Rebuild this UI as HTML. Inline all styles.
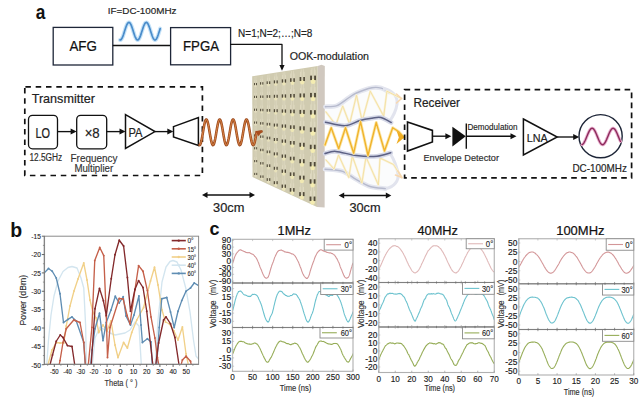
<!DOCTYPE html>
<html><head><meta charset="utf-8"><style>
html,body{margin:0;padding:0;background:#fff;width:640px;height:400px;overflow:hidden}
svg{display:block}
text{font-family:"Liberation Sans", sans-serif}
</style></head><body>
<svg width="640" height="400" viewBox="0 0 640 400">
<rect width="640" height="400" fill="#fff"/>
<text x="35.8" y="18.5" font-size="20" fill="#111" text-anchor="start" font-weight="bold" textLength="9.6" lengthAdjust="spacingAndGlyphs" >a</text>
<rect x="53.2" y="27.4" width="59.6" height="37.6" fill="none" stroke="#1e2638" stroke-width="1.3"/>
<text x="83.2" y="50.6" font-size="14.2" fill="#111" text-anchor="middle" font-weight="normal" textLength="27.5" lengthAdjust="spacingAndGlyphs" stroke="#111" stroke-width="0.227" >AFG</text>
<line x1="112.8" y1="45.5" x2="170.6" y2="45.5" stroke="#111" stroke-width="1.3" />
<rect x="170.6" y="27.6" width="60" height="37.2" fill="none" stroke="#1e2638" stroke-width="1.3"/>
<text x="201" y="50.6" font-size="14.2" fill="#111" text-anchor="middle" font-weight="normal" textLength="36" lengthAdjust="spacingAndGlyphs" stroke="#111" stroke-width="0.227" >FPGA</text>
<text x="107.8" y="13.8" font-size="9.8" fill="#222" text-anchor="start" font-weight="normal" textLength="68.7" lengthAdjust="spacingAndGlyphs" stroke="#222" stroke-width="0.157" >IF=DC-100MHz</text>
<polyline points="120.00,39.97 120.50,39.95 121.00,39.65 121.51,39.06 122.01,38.22 122.51,37.15 123.02,35.88 123.52,34.46 124.02,32.93 124.52,31.34 125.03,29.75 125.53,28.21 126.03,26.77 126.53,25.47 127.03,24.36 127.54,23.47 128.04,22.84 128.54,22.48 129.04,22.41 129.55,22.63 130.05,23.13 130.55,23.89 131.06,24.89 131.56,26.10 132.06,27.48 132.56,28.98 133.06,30.56 133.57,32.15 134.07,33.71 134.57,35.20 135.07,36.54 135.58,37.72 136.08,38.68 136.58,39.39 137.09,39.84 137.59,40.00 138.09,39.87 138.59,39.46 139.09,38.78 139.60,37.84 140.10,36.69 140.60,35.36 141.10,33.90 141.61,32.34 142.11,30.75 142.61,29.17 143.11,27.66 143.62,26.26 144.12,25.03 144.62,24.00 145.12,23.20 145.63,22.67 146.13,22.42 146.63,22.46 147.13,22.78 147.64,23.38 148.14,24.24 148.64,25.32 149.14,26.60 149.65,28.03 150.15,29.57 150.65,31.15 151.16,32.74 151.66,34.28 152.16,35.72 152.66,37.01 153.16,38.10 153.67,38.97 154.17,39.59 154.67,39.93 155.17,39.99 155.68,39.75 156.18,39.24 156.68,38.46 157.19,37.44 157.69,36.22 158.19,34.83 158.69,33.32 159.19,31.75 159.70,30.15 160.20,28.59" fill="none" stroke="#c6e3f8" stroke-width="4.0" stroke-linejoin="round" stroke-linecap="round" />
<polyline points="120.00,39.97 120.50,39.95 121.00,39.65 121.51,39.06 122.01,38.22 122.51,37.15 123.02,35.88 123.52,34.46 124.02,32.93 124.52,31.34 125.03,29.75 125.53,28.21 126.03,26.77 126.53,25.47 127.03,24.36 127.54,23.47 128.04,22.84 128.54,22.48 129.04,22.41 129.55,22.63 130.05,23.13 130.55,23.89 131.06,24.89 131.56,26.10 132.06,27.48 132.56,28.98 133.06,30.56 133.57,32.15 134.07,33.71 134.57,35.20 135.07,36.54 135.58,37.72 136.08,38.68 136.58,39.39 137.09,39.84 137.59,40.00 138.09,39.87 138.59,39.46 139.09,38.78 139.60,37.84 140.10,36.69 140.60,35.36 141.10,33.90 141.61,32.34 142.11,30.75 142.61,29.17 143.11,27.66 143.62,26.26 144.12,25.03 144.62,24.00 145.12,23.20 145.63,22.67 146.13,22.42 146.63,22.46 147.13,22.78 147.64,23.38 148.14,24.24 148.64,25.32 149.14,26.60 149.65,28.03 150.15,29.57 150.65,31.15 151.16,32.74 151.66,34.28 152.16,35.72 152.66,37.01 153.16,38.10 153.67,38.97 154.17,39.59 154.67,39.93 155.17,39.99 155.68,39.75 156.18,39.24 156.68,38.46 157.19,37.44 157.69,36.22 158.19,34.83 158.69,33.32 159.19,31.75 159.70,30.15 160.20,28.59" fill="none" stroke="#4a8cca" stroke-width="1.7" stroke-linejoin="round" stroke-linecap="round" />
<polyline points="230.60,44.40 282.00,44.40 282.00,66.00" fill="none" stroke="#111" stroke-width="1.3" stroke-linejoin="round" stroke-linecap="round" />
<polygon points="282.00,70.80 279.40,65.00 284.60,65.00" fill="#111" stroke="none" stroke-width="1" />
<text x="238.1" y="36.8" font-size="10.6" fill="#222" text-anchor="start" font-weight="normal" textLength="74.2" lengthAdjust="spacingAndGlyphs" stroke="#222" stroke-width="0.17" >N=1;N=2;…;N=8</text>
<text x="289.7" y="59.7" font-size="10" fill="#222" text-anchor="start" font-weight="normal" textLength="79.3" lengthAdjust="spacingAndGlyphs" stroke="#222" stroke-width="0.16" >OOK-modulation</text>
<rect x="24.8" y="86.9" width="177.6" height="88.6" fill="none" stroke="#111" stroke-width="1.7" stroke-dasharray="5.5,4.8" stroke-dashoffset="-0.6"/>
<text x="31.7" y="103.4" font-size="12.6" fill="#222" text-anchor="start" font-weight="normal" textLength="63.2" lengthAdjust="spacingAndGlyphs" stroke="#222" stroke-width="0.202" >Transmitter</text>
<rect x="28.5" y="115.4" width="29" height="33.4" rx="4" fill="none" stroke="#111" stroke-width="1.3"/>
<text x="42.8" y="137.8" font-size="14" fill="#222" text-anchor="middle" font-weight="normal" textLength="14.6" lengthAdjust="spacingAndGlyphs" stroke="#222" stroke-width="0.224" >LO</text>
<rect x="76.7" y="115.4" width="30" height="33.4" rx="4" fill="none" stroke="#111" stroke-width="1.3"/>
<text x="92.2" y="137.5" font-size="14" fill="#222" text-anchor="middle" font-weight="normal" textLength="15" lengthAdjust="spacingAndGlyphs" stroke="#222" stroke-width="0.224" >×8</text>
<line x1="57.5" y1="131.6" x2="73.0" y2="131.6" stroke="#111" stroke-width="1.35" />
<polygon points="76.60,131.60 70.60,128.60 70.60,134.60" fill="#111" stroke="none" stroke-width="1" />
<line x1="106.7" y1="131.6" x2="121.9" y2="131.6" stroke="#111" stroke-width="1.35" />
<polygon points="125.50,131.60 119.50,128.60 119.50,134.60" fill="#111" stroke="none" stroke-width="1" />
<text x="29.4" y="161.4" font-size="10.0" fill="#2a2a2a" text-anchor="start" font-weight="normal" textLength="32.8" lengthAdjust="spacingAndGlyphs" stroke="#2a2a2a" stroke-width="0.16" >12.5GHz</text>
<text x="94" y="161.5" font-size="10.3" fill="#333" text-anchor="middle" font-weight="normal" textLength="46.9" lengthAdjust="spacingAndGlyphs" stroke="#333" stroke-width="0.165" >Frequency</text>
<text x="93.8" y="172.4" font-size="10.3" fill="#333" text-anchor="middle" font-weight="normal" textLength="38.8" lengthAdjust="spacingAndGlyphs" stroke="#333" stroke-width="0.165" >Multiplier</text>
<polygon points="125.50,114.60 155.00,131.60 125.50,148.50" fill="none" stroke="#111" stroke-width="1.5" />
<text x="135.5" y="136.8" font-size="12" fill="#222" text-anchor="middle" font-weight="normal" textLength="14" lengthAdjust="spacingAndGlyphs" stroke="#222" stroke-width="0.192" >PA</text>
<line x1="155" y1="131.6" x2="169.70000000000002" y2="131.6" stroke="#111" stroke-width="1.35" />
<polygon points="173.30,131.60 167.30,128.60 167.30,134.60" fill="#111" stroke="none" stroke-width="1" />
<polygon points="173.50,126.60 198.40,117.60 198.40,145.40 173.50,137.00" fill="none" stroke="#111" stroke-width="1.5" />
<polygon points="317.70,66.00 321.50,64.80 324.80,66.00 324.60,207.60 317.00,207.00" fill="#d0c8bf" stroke="none" stroke-width="1" />
<polygon points="252.20,76.30 317.70,66.00 317.00,207.00 252.50,177.00" fill="#d0cbb0" stroke="none" stroke-width="1" />
<line x1="254.89" y1="76.88" x2="255.15" y2="177.23" stroke="#e0dbc4" stroke-width="0.41"/>
<line x1="256.06" y1="76.69" x2="256.30" y2="177.77" stroke="#e0dbc4" stroke-width="0.41"/>
<line x1="261.05" y1="75.91" x2="261.22" y2="180.05" stroke="#e0dbc4" stroke-width="0.45"/>
<line x1="262.34" y1="75.71" x2="262.49" y2="180.65" stroke="#e0dbc4" stroke-width="0.45"/>
<line x1="267.73" y1="74.86" x2="267.80" y2="183.11" stroke="#e0dbc4" stroke-width="0.50"/>
<line x1="269.16" y1="74.63" x2="269.20" y2="183.77" stroke="#e0dbc4" stroke-width="0.50"/>
<line x1="275.00" y1="73.72" x2="274.95" y2="186.44" stroke="#e0dbc4" stroke-width="0.55"/>
<line x1="276.56" y1="73.47" x2="276.49" y2="187.16" stroke="#e0dbc4" stroke-width="0.55"/>
<line x1="283.10" y1="72.44" x2="282.93" y2="190.15" stroke="#e0dbc4" stroke-width="0.61"/>
<line x1="284.83" y1="72.17" x2="284.63" y2="190.95" stroke="#e0dbc4" stroke-width="0.61"/>
<line x1="291.53" y1="71.11" x2="291.23" y2="194.02" stroke="#e0dbc4" stroke-width="0.66"/>
<line x1="293.43" y1="70.82" x2="293.10" y2="194.88" stroke="#e0dbc4" stroke-width="0.66"/>
<line x1="301.26" y1="69.59" x2="300.81" y2="198.47" stroke="#e0dbc4" stroke-width="0.73"/>
<line x1="303.35" y1="69.26" x2="302.87" y2="199.43" stroke="#e0dbc4" stroke-width="0.73"/>
<line x1="311.96" y1="67.90" x2="311.35" y2="203.37" stroke="#e0dbc4" stroke-width="0.81"/>
<line x1="314.27" y1="67.54" x2="313.62" y2="204.43" stroke="#e0dbc4" stroke-width="0.81"/>
<ellipse cx="255.50" cy="85.88" rx="1.17" ry="1.28" fill="#e3dcbf"/>
<rect x="254.30" y="80.05" width="0.35" height="3.03" fill="#e6e0c8"/>
<rect x="256.34" y="80.05" width="0.35" height="3.03" fill="#e6e0c8"/>
<rect x="254.01" y="82.97" width="0.93" height="2.21" fill="#514a38"/>
<rect x="256.05" y="82.97" width="0.93" height="2.21" fill="#514a38"/>
<ellipse cx="261.71" cy="85.40" rx="1.29" ry="1.42" fill="#e4debd"/>
<rect x="260.39" y="78.95" width="0.39" height="3.35" fill="#e6e0c8"/>
<rect x="262.64" y="78.95" width="0.39" height="3.35" fill="#e6e0c8"/>
<rect x="260.07" y="82.17" width="1.03" height="2.45" fill="#514a38"/>
<rect x="262.32" y="82.17" width="1.03" height="2.45" fill="#514a38"/>
<ellipse cx="268.45" cy="84.87" rx="1.42" ry="1.56" fill="#e6e0bc"/>
<rect x="266.99" y="77.76" width="0.43" height="3.70" fill="#e6e0c8"/>
<rect x="269.48" y="77.76" width="0.43" height="3.70" fill="#e6e0c8"/>
<rect x="266.63" y="81.32" width="1.14" height="2.70" fill="#514a38"/>
<rect x="269.12" y="81.32" width="1.14" height="2.70" fill="#514a38"/>
<ellipse cx="275.78" cy="84.30" rx="1.57" ry="1.72" fill="#e9e2ba"/>
<rect x="274.17" y="76.46" width="0.47" height="4.08" fill="#e6e0c8"/>
<rect x="276.91" y="76.46" width="0.47" height="4.08" fill="#e6e0c8"/>
<rect x="273.78" y="80.38" width="1.25" height="2.98" fill="#514a38"/>
<rect x="276.52" y="80.38" width="1.25" height="2.98" fill="#514a38"/>
<ellipse cx="283.95" cy="83.67" rx="1.73" ry="1.90" fill="#ebe4b8"/>
<rect x="282.18" y="75.02" width="0.52" height="4.50" fill="#e6e0c8"/>
<rect x="285.21" y="75.02" width="0.52" height="4.50" fill="#e6e0c8"/>
<rect x="281.75" y="79.34" width="1.38" height="3.29" fill="#514a38"/>
<rect x="284.77" y="79.34" width="1.38" height="3.29" fill="#514a38"/>
<ellipse cx="292.46" cy="83.01" rx="1.90" ry="2.09" fill="#eee7b6"/>
<rect x="290.51" y="73.51" width="0.57" height="4.94" fill="#e6e0c8"/>
<rect x="293.83" y="73.51" width="0.57" height="4.94" fill="#e6e0c8"/>
<rect x="290.04" y="78.26" width="1.52" height="3.61" fill="#514a38"/>
<rect x="293.36" y="78.26" width="1.52" height="3.61" fill="#514a38"/>
<ellipse cx="302.27" cy="82.25" rx="2.09" ry="2.30" fill="#f1e9b3"/>
<rect x="300.12" y="71.78" width="0.63" height="5.45" fill="#e6e0c8"/>
<rect x="303.79" y="71.78" width="0.63" height="5.45" fill="#e6e0c8"/>
<rect x="299.60" y="77.01" width="1.68" height="3.98" fill="#514a38"/>
<rect x="303.26" y="77.01" width="1.68" height="3.98" fill="#514a38"/>
<ellipse cx="313.06" cy="81.41" rx="2.31" ry="2.54" fill="#f4ecb1"/>
<rect x="310.70" y="69.87" width="0.69" height="6.00" fill="#e6e0c8"/>
<rect x="314.74" y="69.87" width="0.69" height="6.00" fill="#e6e0c8"/>
<rect x="310.12" y="75.64" width="1.85" height="4.39" fill="#514a38"/>
<rect x="314.16" y="75.64" width="1.85" height="4.39" fill="#514a38"/>
<ellipse cx="255.53" cy="98.72" rx="1.17" ry="1.28" fill="#e3dcbf"/>
<rect x="254.33" y="92.89" width="0.35" height="3.03" fill="#e6e0c8"/>
<rect x="256.37" y="92.89" width="0.35" height="3.03" fill="#e6e0c8"/>
<rect x="254.04" y="95.80" width="0.93" height="2.21" fill="#514a38"/>
<rect x="256.08" y="95.80" width="0.93" height="2.21" fill="#514a38"/>
<ellipse cx="261.73" cy="98.71" rx="1.29" ry="1.42" fill="#e4debd"/>
<rect x="260.41" y="92.27" width="0.39" height="3.35" fill="#e6e0c8"/>
<rect x="262.66" y="92.27" width="0.39" height="3.35" fill="#e6e0c8"/>
<rect x="260.09" y="95.49" width="1.03" height="2.45" fill="#514a38"/>
<rect x="262.34" y="95.49" width="1.03" height="2.45" fill="#514a38"/>
<ellipse cx="268.45" cy="98.71" rx="1.42" ry="1.56" fill="#e6e0bc"/>
<rect x="267.00" y="91.60" width="0.43" height="3.70" fill="#e6e0c8"/>
<rect x="269.49" y="91.60" width="0.43" height="3.70" fill="#e6e0c8"/>
<rect x="266.64" y="95.15" width="1.14" height="2.70" fill="#514a38"/>
<rect x="269.13" y="95.15" width="1.14" height="2.70" fill="#514a38"/>
<ellipse cx="275.77" cy="98.71" rx="1.57" ry="1.72" fill="#e9e2ba"/>
<rect x="274.16" y="90.87" width="0.47" height="4.08" fill="#e6e0c8"/>
<rect x="276.90" y="90.87" width="0.47" height="4.08" fill="#e6e0c8"/>
<rect x="273.77" y="94.79" width="1.25" height="2.98" fill="#514a38"/>
<rect x="276.51" y="94.79" width="1.25" height="2.98" fill="#514a38"/>
<ellipse cx="283.93" cy="98.70" rx="1.73" ry="1.90" fill="#ebe4b8"/>
<rect x="282.16" y="90.05" width="0.52" height="4.50" fill="#e6e0c8"/>
<rect x="285.18" y="90.05" width="0.52" height="4.50" fill="#e6e0c8"/>
<rect x="281.72" y="94.37" width="1.38" height="3.29" fill="#514a38"/>
<rect x="284.75" y="94.37" width="1.38" height="3.29" fill="#514a38"/>
<ellipse cx="292.42" cy="98.70" rx="1.90" ry="2.09" fill="#eee7b6"/>
<rect x="290.47" y="89.20" width="0.57" height="4.94" fill="#e6e0c8"/>
<rect x="293.79" y="89.20" width="0.57" height="4.94" fill="#e6e0c8"/>
<rect x="290.00" y="93.95" width="1.52" height="3.61" fill="#514a38"/>
<rect x="293.32" y="93.95" width="1.52" height="3.61" fill="#514a38"/>
<ellipse cx="302.21" cy="98.69" rx="2.09" ry="2.30" fill="#f1e9b3"/>
<rect x="300.06" y="88.22" width="0.63" height="5.45" fill="#e6e0c8"/>
<rect x="303.73" y="88.22" width="0.63" height="5.45" fill="#e6e0c8"/>
<rect x="299.54" y="93.45" width="1.68" height="3.98" fill="#514a38"/>
<rect x="303.21" y="93.45" width="1.68" height="3.98" fill="#514a38"/>
<ellipse cx="312.99" cy="98.68" rx="2.31" ry="2.54" fill="#f4ecb1"/>
<rect x="310.62" y="87.14" width="0.69" height="6.00" fill="#e6e0c8"/>
<rect x="314.66" y="87.14" width="0.69" height="6.00" fill="#e6e0c8"/>
<rect x="310.04" y="92.91" width="1.85" height="4.39" fill="#514a38"/>
<rect x="314.08" y="92.91" width="1.85" height="4.39" fill="#514a38"/>
<ellipse cx="255.56" cy="111.56" rx="1.17" ry="1.28" fill="#e3dcbf"/>
<rect x="254.36" y="105.73" width="0.35" height="3.03" fill="#e6e0c8"/>
<rect x="256.40" y="105.73" width="0.35" height="3.03" fill="#e6e0c8"/>
<rect x="254.07" y="108.64" width="0.93" height="2.21" fill="#514a38"/>
<rect x="256.11" y="108.64" width="0.93" height="2.21" fill="#514a38"/>
<ellipse cx="261.75" cy="112.03" rx="1.29" ry="1.42" fill="#e4debd"/>
<rect x="260.43" y="105.59" width="0.39" height="3.35" fill="#e6e0c8"/>
<rect x="262.68" y="105.59" width="0.39" height="3.35" fill="#e6e0c8"/>
<rect x="260.11" y="108.81" width="1.03" height="2.45" fill="#514a38"/>
<rect x="262.36" y="108.81" width="1.03" height="2.45" fill="#514a38"/>
<ellipse cx="268.46" cy="112.55" rx="1.42" ry="1.56" fill="#e6e0bc"/>
<rect x="267.00" y="105.43" width="0.43" height="3.70" fill="#e6e0c8"/>
<rect x="269.49" y="105.43" width="0.43" height="3.70" fill="#e6e0c8"/>
<rect x="266.65" y="108.99" width="1.14" height="2.70" fill="#514a38"/>
<rect x="269.14" y="108.99" width="1.14" height="2.70" fill="#514a38"/>
<ellipse cx="275.76" cy="113.11" rx="1.57" ry="1.72" fill="#e9e2ba"/>
<rect x="274.15" y="105.27" width="0.47" height="4.08" fill="#e6e0c8"/>
<rect x="276.90" y="105.27" width="0.47" height="4.08" fill="#e6e0c8"/>
<rect x="273.76" y="109.19" width="1.25" height="2.98" fill="#514a38"/>
<rect x="276.50" y="109.19" width="1.25" height="2.98" fill="#514a38"/>
<ellipse cx="283.91" cy="113.73" rx="1.73" ry="1.90" fill="#ebe4b8"/>
<rect x="282.13" y="105.08" width="0.52" height="4.50" fill="#e6e0c8"/>
<rect x="285.16" y="105.08" width="0.52" height="4.50" fill="#e6e0c8"/>
<rect x="281.70" y="109.41" width="1.38" height="3.29" fill="#514a38"/>
<rect x="284.73" y="109.41" width="1.38" height="3.29" fill="#514a38"/>
<ellipse cx="292.38" cy="114.38" rx="1.90" ry="2.09" fill="#eee7b6"/>
<rect x="290.43" y="104.88" width="0.57" height="4.94" fill="#e6e0c8"/>
<rect x="293.76" y="104.88" width="0.57" height="4.94" fill="#e6e0c8"/>
<rect x="289.96" y="109.63" width="1.52" height="3.61" fill="#514a38"/>
<rect x="293.28" y="109.63" width="1.52" height="3.61" fill="#514a38"/>
<ellipse cx="302.15" cy="115.13" rx="2.09" ry="2.30" fill="#f1e9b3"/>
<rect x="300.01" y="104.66" width="0.63" height="5.45" fill="#e6e0c8"/>
<rect x="303.67" y="104.66" width="0.63" height="5.45" fill="#e6e0c8"/>
<rect x="299.48" y="109.90" width="1.68" height="3.98" fill="#514a38"/>
<rect x="303.15" y="109.90" width="1.68" height="3.98" fill="#514a38"/>
<ellipse cx="312.91" cy="115.96" rx="2.31" ry="2.54" fill="#f4ecb1"/>
<rect x="310.54" y="104.41" width="0.69" height="6.00" fill="#e6e0c8"/>
<rect x="314.58" y="104.41" width="0.69" height="6.00" fill="#e6e0c8"/>
<rect x="309.96" y="110.18" width="1.85" height="4.39" fill="#514a38"/>
<rect x="314.00" y="110.18" width="1.85" height="4.39" fill="#514a38"/>
<ellipse cx="255.59" cy="124.40" rx="1.17" ry="1.28" fill="#e3dcbf"/>
<rect x="254.39" y="118.57" width="0.35" height="3.03" fill="#e6e0c8"/>
<rect x="256.43" y="118.57" width="0.35" height="3.03" fill="#e6e0c8"/>
<rect x="254.10" y="121.48" width="0.93" height="2.21" fill="#514a38"/>
<rect x="256.14" y="121.48" width="0.93" height="2.21" fill="#514a38"/>
<ellipse cx="261.77" cy="125.35" rx="1.29" ry="1.42" fill="#e4debd"/>
<rect x="260.45" y="118.91" width="0.39" height="3.35" fill="#e6e0c8"/>
<rect x="262.70" y="118.91" width="0.39" height="3.35" fill="#e6e0c8"/>
<rect x="260.13" y="122.13" width="1.03" height="2.45" fill="#514a38"/>
<rect x="262.38" y="122.13" width="1.03" height="2.45" fill="#514a38"/>
<ellipse cx="268.47" cy="126.38" rx="1.42" ry="1.56" fill="#e6e0bc"/>
<rect x="267.01" y="119.27" width="0.43" height="3.70" fill="#e6e0c8"/>
<rect x="269.50" y="119.27" width="0.43" height="3.70" fill="#e6e0c8"/>
<rect x="266.65" y="122.83" width="1.14" height="2.70" fill="#514a38"/>
<rect x="269.14" y="122.83" width="1.14" height="2.70" fill="#514a38"/>
<ellipse cx="275.75" cy="127.51" rx="1.57" ry="1.72" fill="#e9e2ba"/>
<rect x="274.15" y="119.67" width="0.47" height="4.08" fill="#e6e0c8"/>
<rect x="276.89" y="119.67" width="0.47" height="4.08" fill="#e6e0c8"/>
<rect x="273.75" y="123.59" width="1.25" height="2.98" fill="#514a38"/>
<rect x="276.50" y="123.59" width="1.25" height="2.98" fill="#514a38"/>
<ellipse cx="283.88" cy="128.76" rx="1.73" ry="1.90" fill="#ebe4b8"/>
<rect x="282.11" y="120.11" width="0.52" height="4.50" fill="#e6e0c8"/>
<rect x="285.14" y="120.11" width="0.52" height="4.50" fill="#e6e0c8"/>
<rect x="281.68" y="124.44" width="1.38" height="3.29" fill="#514a38"/>
<rect x="284.71" y="124.44" width="1.38" height="3.29" fill="#514a38"/>
<ellipse cx="292.34" cy="130.07" rx="1.90" ry="2.09" fill="#eee7b6"/>
<rect x="290.39" y="120.57" width="0.57" height="4.94" fill="#e6e0c8"/>
<rect x="293.72" y="120.57" width="0.57" height="4.94" fill="#e6e0c8"/>
<rect x="289.92" y="125.32" width="1.52" height="3.61" fill="#514a38"/>
<rect x="293.24" y="125.32" width="1.52" height="3.61" fill="#514a38"/>
<ellipse cx="302.10" cy="131.57" rx="2.09" ry="2.30" fill="#f1e9b3"/>
<rect x="299.95" y="121.10" width="0.63" height="5.45" fill="#e6e0c8"/>
<rect x="303.61" y="121.10" width="0.63" height="5.45" fill="#e6e0c8"/>
<rect x="299.42" y="126.34" width="1.68" height="3.98" fill="#514a38"/>
<rect x="303.09" y="126.34" width="1.68" height="3.98" fill="#514a38"/>
<ellipse cx="312.83" cy="133.23" rx="2.31" ry="2.54" fill="#f4ecb1"/>
<rect x="310.46" y="121.68" width="0.69" height="6.00" fill="#e6e0c8"/>
<rect x="314.50" y="121.68" width="0.69" height="6.00" fill="#e6e0c8"/>
<rect x="309.88" y="127.46" width="1.85" height="4.39" fill="#514a38"/>
<rect x="313.92" y="127.46" width="1.85" height="4.39" fill="#514a38"/>
<ellipse cx="255.62" cy="137.24" rx="1.17" ry="1.28" fill="#e3dcbf"/>
<rect x="254.43" y="131.41" width="0.35" height="3.03" fill="#e6e0c8"/>
<rect x="256.46" y="131.41" width="0.35" height="3.03" fill="#e6e0c8"/>
<rect x="254.13" y="134.32" width="0.93" height="2.21" fill="#514a38"/>
<rect x="256.17" y="134.32" width="0.93" height="2.21" fill="#514a38"/>
<ellipse cx="261.79" cy="138.67" rx="1.29" ry="1.42" fill="#e4debd"/>
<rect x="260.47" y="132.23" width="0.39" height="3.35" fill="#e6e0c8"/>
<rect x="262.72" y="132.23" width="0.39" height="3.35" fill="#e6e0c8"/>
<rect x="260.14" y="135.45" width="1.03" height="2.45" fill="#514a38"/>
<rect x="262.40" y="135.45" width="1.03" height="2.45" fill="#514a38"/>
<ellipse cx="268.47" cy="140.22" rx="1.42" ry="1.56" fill="#e6e0bc"/>
<rect x="267.02" y="133.11" width="0.43" height="3.70" fill="#e6e0c8"/>
<rect x="269.51" y="133.11" width="0.43" height="3.70" fill="#e6e0c8"/>
<rect x="266.66" y="136.66" width="1.14" height="2.70" fill="#514a38"/>
<rect x="269.15" y="136.66" width="1.14" height="2.70" fill="#514a38"/>
<ellipse cx="275.75" cy="141.91" rx="1.57" ry="1.72" fill="#e9e2ba"/>
<rect x="274.14" y="134.07" width="0.47" height="4.08" fill="#e6e0c8"/>
<rect x="276.88" y="134.07" width="0.47" height="4.08" fill="#e6e0c8"/>
<rect x="273.75" y="137.99" width="1.25" height="2.98" fill="#514a38"/>
<rect x="276.49" y="137.99" width="1.25" height="2.98" fill="#514a38"/>
<ellipse cx="283.86" cy="143.79" rx="1.73" ry="1.90" fill="#ebe4b8"/>
<rect x="282.09" y="135.14" width="0.52" height="4.50" fill="#e6e0c8"/>
<rect x="285.11" y="135.14" width="0.52" height="4.50" fill="#e6e0c8"/>
<rect x="281.65" y="139.47" width="1.38" height="3.29" fill="#514a38"/>
<rect x="284.68" y="139.47" width="1.38" height="3.29" fill="#514a38"/>
<ellipse cx="292.30" cy="145.75" rx="1.90" ry="2.09" fill="#eee7b6"/>
<rect x="290.35" y="136.26" width="0.57" height="4.94" fill="#e6e0c8"/>
<rect x="293.68" y="136.26" width="0.57" height="4.94" fill="#e6e0c8"/>
<rect x="289.88" y="141.00" width="1.52" height="3.61" fill="#514a38"/>
<rect x="293.20" y="141.00" width="1.52" height="3.61" fill="#514a38"/>
<ellipse cx="302.04" cy="148.01" rx="2.09" ry="2.30" fill="#f1e9b3"/>
<rect x="299.89" y="137.54" width="0.63" height="5.45" fill="#e6e0c8"/>
<rect x="303.56" y="137.54" width="0.63" height="5.45" fill="#e6e0c8"/>
<rect x="299.37" y="142.78" width="1.68" height="3.98" fill="#514a38"/>
<rect x="303.03" y="142.78" width="1.68" height="3.98" fill="#514a38"/>
<ellipse cx="312.75" cy="150.50" rx="2.31" ry="2.54" fill="#f4ecb1"/>
<rect x="310.38" y="138.96" width="0.69" height="6.00" fill="#e6e0c8"/>
<rect x="314.42" y="138.96" width="0.69" height="6.00" fill="#e6e0c8"/>
<rect x="309.80" y="144.73" width="1.85" height="4.39" fill="#514a38"/>
<rect x="313.85" y="144.73" width="1.85" height="4.39" fill="#514a38"/>
<ellipse cx="255.65" cy="150.07" rx="1.17" ry="1.28" fill="#e3dcbf"/>
<rect x="254.46" y="144.25" width="0.35" height="3.03" fill="#e6e0c8"/>
<rect x="256.50" y="144.25" width="0.35" height="3.03" fill="#e6e0c8"/>
<rect x="254.17" y="147.16" width="0.93" height="2.21" fill="#514a38"/>
<rect x="256.20" y="147.16" width="0.93" height="2.21" fill="#514a38"/>
<ellipse cx="261.81" cy="151.99" rx="1.29" ry="1.42" fill="#e4debd"/>
<rect x="260.49" y="145.54" width="0.39" height="3.35" fill="#e6e0c8"/>
<rect x="262.74" y="145.54" width="0.39" height="3.35" fill="#e6e0c8"/>
<rect x="260.16" y="148.76" width="1.03" height="2.45" fill="#514a38"/>
<rect x="262.42" y="148.76" width="1.03" height="2.45" fill="#514a38"/>
<ellipse cx="268.48" cy="154.06" rx="1.42" ry="1.56" fill="#e6e0bc"/>
<rect x="267.02" y="146.95" width="0.43" height="3.70" fill="#e6e0c8"/>
<rect x="269.51" y="146.95" width="0.43" height="3.70" fill="#e6e0c8"/>
<rect x="266.67" y="150.50" width="1.14" height="2.70" fill="#514a38"/>
<rect x="269.16" y="150.50" width="1.14" height="2.70" fill="#514a38"/>
<ellipse cx="275.74" cy="156.31" rx="1.57" ry="1.72" fill="#e9e2ba"/>
<rect x="274.13" y="148.47" width="0.47" height="4.08" fill="#e6e0c8"/>
<rect x="276.87" y="148.47" width="0.47" height="4.08" fill="#e6e0c8"/>
<rect x="273.74" y="152.39" width="1.25" height="2.98" fill="#514a38"/>
<rect x="276.48" y="152.39" width="1.25" height="2.98" fill="#514a38"/>
<ellipse cx="283.84" cy="158.82" rx="1.73" ry="1.90" fill="#ebe4b8"/>
<rect x="282.06" y="150.17" width="0.52" height="4.50" fill="#e6e0c8"/>
<rect x="285.09" y="150.17" width="0.52" height="4.50" fill="#e6e0c8"/>
<rect x="281.63" y="154.50" width="1.38" height="3.29" fill="#514a38"/>
<rect x="284.66" y="154.50" width="1.38" height="3.29" fill="#514a38"/>
<ellipse cx="292.26" cy="161.44" rx="1.90" ry="2.09" fill="#eee7b6"/>
<rect x="290.31" y="151.94" width="0.57" height="4.94" fill="#e6e0c8"/>
<rect x="293.64" y="151.94" width="0.57" height="4.94" fill="#e6e0c8"/>
<rect x="289.84" y="156.69" width="1.52" height="3.61" fill="#514a38"/>
<rect x="293.16" y="156.69" width="1.52" height="3.61" fill="#514a38"/>
<ellipse cx="301.98" cy="164.45" rx="2.09" ry="2.30" fill="#f1e9b3"/>
<rect x="299.83" y="153.98" width="0.63" height="5.45" fill="#e6e0c8"/>
<rect x="303.50" y="153.98" width="0.63" height="5.45" fill="#e6e0c8"/>
<rect x="299.31" y="159.22" width="1.68" height="3.98" fill="#514a38"/>
<rect x="302.97" y="159.22" width="1.68" height="3.98" fill="#514a38"/>
<ellipse cx="312.67" cy="167.77" rx="2.31" ry="2.54" fill="#f4ecb1"/>
<rect x="310.30" y="156.23" width="0.69" height="6.00" fill="#e6e0c8"/>
<rect x="314.34" y="156.23" width="0.69" height="6.00" fill="#e6e0c8"/>
<rect x="309.73" y="162.00" width="1.85" height="4.39" fill="#514a38"/>
<rect x="313.77" y="162.00" width="1.85" height="4.39" fill="#514a38"/>
<ellipse cx="255.68" cy="162.91" rx="1.17" ry="1.28" fill="#e3dcbf"/>
<rect x="254.49" y="157.09" width="0.35" height="3.03" fill="#e6e0c8"/>
<rect x="256.53" y="157.09" width="0.35" height="3.03" fill="#e6e0c8"/>
<rect x="254.20" y="160.00" width="0.93" height="2.21" fill="#514a38"/>
<rect x="256.24" y="160.00" width="0.93" height="2.21" fill="#514a38"/>
<ellipse cx="261.83" cy="165.30" rx="1.29" ry="1.42" fill="#e4debd"/>
<rect x="260.51" y="158.86" width="0.39" height="3.35" fill="#e6e0c8"/>
<rect x="262.76" y="158.86" width="0.39" height="3.35" fill="#e6e0c8"/>
<rect x="260.18" y="162.08" width="1.03" height="2.45" fill="#514a38"/>
<rect x="262.44" y="162.08" width="1.03" height="2.45" fill="#514a38"/>
<ellipse cx="268.49" cy="167.89" rx="1.42" ry="1.56" fill="#e6e0bc"/>
<rect x="267.03" y="160.78" width="0.43" height="3.70" fill="#e6e0c8"/>
<rect x="269.52" y="160.78" width="0.43" height="3.70" fill="#e6e0c8"/>
<rect x="266.67" y="164.34" width="1.14" height="2.70" fill="#514a38"/>
<rect x="269.16" y="164.34" width="1.14" height="2.70" fill="#514a38"/>
<ellipse cx="275.73" cy="170.71" rx="1.57" ry="1.72" fill="#e9e2ba"/>
<rect x="274.12" y="162.87" width="0.47" height="4.08" fill="#e6e0c8"/>
<rect x="276.87" y="162.87" width="0.47" height="4.08" fill="#e6e0c8"/>
<rect x="273.73" y="166.79" width="1.25" height="2.98" fill="#514a38"/>
<rect x="276.47" y="166.79" width="1.25" height="2.98" fill="#514a38"/>
<ellipse cx="283.81" cy="173.85" rx="1.73" ry="1.90" fill="#ebe4b8"/>
<rect x="282.04" y="165.20" width="0.52" height="4.50" fill="#e6e0c8"/>
<rect x="285.07" y="165.20" width="0.52" height="4.50" fill="#e6e0c8"/>
<rect x="281.61" y="169.53" width="1.38" height="3.29" fill="#514a38"/>
<rect x="284.64" y="169.53" width="1.38" height="3.29" fill="#514a38"/>
<ellipse cx="292.22" cy="177.12" rx="1.90" ry="2.09" fill="#eee7b6"/>
<rect x="290.27" y="167.63" width="0.57" height="4.94" fill="#e6e0c8"/>
<rect x="293.60" y="167.63" width="0.57" height="4.94" fill="#e6e0c8"/>
<rect x="289.80" y="172.37" width="1.52" height="3.61" fill="#514a38"/>
<rect x="293.12" y="172.37" width="1.52" height="3.61" fill="#514a38"/>
<ellipse cx="301.92" cy="180.90" rx="2.09" ry="2.30" fill="#f1e9b3"/>
<rect x="299.77" y="170.42" width="0.63" height="5.45" fill="#e6e0c8"/>
<rect x="303.44" y="170.42" width="0.63" height="5.45" fill="#e6e0c8"/>
<rect x="299.25" y="175.66" width="1.68" height="3.98" fill="#514a38"/>
<rect x="302.92" y="175.66" width="1.68" height="3.98" fill="#514a38"/>
<ellipse cx="312.59" cy="185.05" rx="2.31" ry="2.54" fill="#f4ecb1"/>
<rect x="310.22" y="173.50" width="0.69" height="6.00" fill="#e6e0c8"/>
<rect x="314.27" y="173.50" width="0.69" height="6.00" fill="#e6e0c8"/>
<rect x="309.65" y="179.27" width="1.85" height="4.39" fill="#514a38"/>
<rect x="313.69" y="179.27" width="1.85" height="4.39" fill="#514a38"/>
<ellipse cx="255.71" cy="175.75" rx="1.17" ry="1.28" fill="#e3dcbf"/>
<rect x="254.52" y="169.93" width="0.35" height="3.03" fill="#e6e0c8"/>
<rect x="256.56" y="169.93" width="0.35" height="3.03" fill="#e6e0c8"/>
<rect x="254.23" y="172.84" width="0.93" height="2.21" fill="#514a38"/>
<rect x="256.27" y="172.84" width="0.93" height="2.21" fill="#514a38"/>
<ellipse cx="261.85" cy="178.62" rx="1.29" ry="1.42" fill="#e4debd"/>
<rect x="260.53" y="172.18" width="0.39" height="3.35" fill="#e6e0c8"/>
<rect x="262.78" y="172.18" width="0.39" height="3.35" fill="#e6e0c8"/>
<rect x="260.20" y="175.40" width="1.03" height="2.45" fill="#514a38"/>
<rect x="262.46" y="175.40" width="1.03" height="2.45" fill="#514a38"/>
<ellipse cx="268.49" cy="181.73" rx="1.42" ry="1.56" fill="#e6e0bc"/>
<rect x="267.04" y="174.62" width="0.43" height="3.70" fill="#e6e0c8"/>
<rect x="269.52" y="174.62" width="0.43" height="3.70" fill="#e6e0c8"/>
<rect x="266.68" y="178.17" width="1.14" height="2.70" fill="#514a38"/>
<rect x="269.17" y="178.17" width="1.14" height="2.70" fill="#514a38"/>
<ellipse cx="275.72" cy="185.11" rx="1.57" ry="1.72" fill="#e9e2ba"/>
<rect x="274.12" y="177.27" width="0.47" height="4.08" fill="#e6e0c8"/>
<rect x="276.86" y="177.27" width="0.47" height="4.08" fill="#e6e0c8"/>
<rect x="273.72" y="181.19" width="1.25" height="2.98" fill="#514a38"/>
<rect x="276.47" y="181.19" width="1.25" height="2.98" fill="#514a38"/>
<ellipse cx="283.79" cy="188.89" rx="1.73" ry="1.90" fill="#ebe4b8"/>
<rect x="282.02" y="180.23" width="0.52" height="4.50" fill="#e6e0c8"/>
<rect x="285.05" y="180.23" width="0.52" height="4.50" fill="#e6e0c8"/>
<rect x="281.58" y="184.56" width="1.38" height="3.29" fill="#514a38"/>
<rect x="284.61" y="184.56" width="1.38" height="3.29" fill="#514a38"/>
<ellipse cx="292.18" cy="192.81" rx="1.90" ry="2.09" fill="#eee7b6"/>
<rect x="290.23" y="183.31" width="0.57" height="4.94" fill="#e6e0c8"/>
<rect x="293.56" y="183.31" width="0.57" height="4.94" fill="#e6e0c8"/>
<rect x="289.76" y="188.06" width="1.52" height="3.61" fill="#514a38"/>
<rect x="293.08" y="188.06" width="1.52" height="3.61" fill="#514a38"/>
<ellipse cx="301.86" cy="197.34" rx="2.09" ry="2.30" fill="#f1e9b3"/>
<rect x="299.72" y="186.86" width="0.63" height="5.45" fill="#e6e0c8"/>
<rect x="303.38" y="186.86" width="0.63" height="5.45" fill="#e6e0c8"/>
<rect x="299.19" y="192.10" width="1.68" height="3.98" fill="#514a38"/>
<rect x="302.86" y="192.10" width="1.68" height="3.98" fill="#514a38"/>
<ellipse cx="312.51" cy="202.32" rx="2.31" ry="2.54" fill="#f4ecb1"/>
<rect x="310.15" y="190.77" width="0.69" height="6.00" fill="#e6e0c8"/>
<rect x="314.19" y="190.77" width="0.69" height="6.00" fill="#e6e0c8"/>
<rect x="309.57" y="196.55" width="1.85" height="4.39" fill="#514a38"/>
<rect x="313.61" y="196.55" width="1.85" height="4.39" fill="#514a38"/>
<polyline points="199.50,145.08 199.78,145.05 200.07,144.80 200.35,144.32 200.64,143.62 200.93,142.73 201.21,141.64 201.50,140.39 201.78,139.00 202.06,137.49 202.35,135.88 202.63,134.21 202.92,132.51 203.21,130.80 203.49,129.12 203.78,127.50 204.06,125.96 204.34,124.54 204.63,123.25 204.91,122.12 205.20,121.18 205.49,120.43 205.77,119.90 206.06,119.59 206.34,119.50 206.62,119.64 206.91,120.01 207.19,120.60 207.48,121.39 207.76,122.38 208.05,123.55 208.34,124.87 208.62,126.33 208.91,127.89 209.19,129.53 209.47,131.22 209.76,132.93 210.04,134.63 210.33,136.28 210.62,137.87 210.90,139.36 211.19,140.72 211.47,141.93 211.75,142.96 212.04,143.81 212.32,144.45 212.61,144.88 212.90,145.08 213.18,145.06 213.47,144.80 213.75,144.33 214.03,143.64 214.32,142.74 214.60,141.66 214.89,140.42 215.18,139.03 215.46,137.52 215.75,135.91 216.03,134.24 216.31,132.54 216.60,130.83 216.88,129.15 217.17,127.53 217.45,125.99 217.74,124.56 218.03,123.27 218.31,122.14 218.59,121.19 218.88,120.45 219.16,119.91 219.45,119.59 219.74,119.50 220.02,119.64 220.31,120.00 220.59,120.59 220.88,121.38 221.16,122.37 221.44,123.53 221.73,124.85 222.01,126.30 222.30,127.86 222.59,129.50 222.87,131.19 223.16,132.90 223.44,134.60 223.72,136.26 224.01,137.84 224.30,139.33 224.58,140.69 224.87,141.91 225.15,142.95 225.44,143.80 225.72,144.45 226.00,144.88 226.29,145.08 226.57,145.06 226.86,144.81 227.15,144.34 227.43,143.65 227.72,142.76 228.00,141.68 228.28,140.44 228.57,139.05 228.85,137.54 229.14,135.94 229.43,134.27 229.71,132.57 230.00,130.86 230.28,129.18 230.56,127.55 230.85,126.01 231.13,124.58 231.42,123.29 231.70,122.16 231.99,121.21 232.28,120.46 232.56,119.92 232.84,119.59 233.13,119.50 233.41,119.64 233.70,120.00 233.99,120.57 234.27,121.36 234.56,122.35 234.84,123.51 235.12,124.83 235.41,126.28 235.69,127.83 235.98,129.47 236.26,131.16 236.55,132.87 236.84,134.57 237.12,136.23 237.41,137.82 237.69,139.31 237.97,140.67 238.26,141.89 238.55,142.93 238.83,143.79 239.12,144.44 239.40,144.87 239.69,145.08 239.97,145.06 240.25,144.82 240.54,144.35 240.82,143.66 241.11,142.78 241.40,141.70 241.68,140.46 241.97,139.08 242.25,137.57 242.53,135.97 242.82,134.30 243.10,132.60 243.39,130.89 243.68,129.21 243.96,127.58 244.25,126.04 244.53,124.61 244.81,123.31 245.10,122.18 245.38,121.22 245.67,120.47 245.95,119.92 246.24,119.60 246.53,119.50 246.81,119.63 247.09,119.99 247.38,120.56 247.66,121.35 247.95,122.33 248.24,123.49 248.52,124.80 248.81,126.25 249.09,127.81 249.38,129.44 249.66,131.13 249.94,132.84 250.23,134.54 250.51,136.20 250.80,137.79 251.09,139.28 251.37,140.65 251.66,141.87 251.94,142.91 252.22,143.77 252.51,144.43 252.80,144.86 253.08,145.08 253.37,145.06 253.65,144.82 253.94,144.36 254.22,143.68 254.50,142.79 254.79,141.72 255.07,140.49 255.36,139.10 255.65,137.60 255.93,136.00 256.22,134.33 256.50,132.63 261.50,131.50" fill="none" stroke="#9c4a1e" stroke-width="2.6" stroke-linejoin="round" stroke-linecap="round" />
<polyline points="199.50,145.08 199.78,145.05 200.07,144.80 200.35,144.32 200.64,143.62 200.93,142.73 201.21,141.64 201.50,140.39 201.78,139.00 202.06,137.49 202.35,135.88 202.63,134.21 202.92,132.51 203.21,130.80 203.49,129.12 203.78,127.50 204.06,125.96 204.34,124.54 204.63,123.25 204.91,122.12 205.20,121.18 205.49,120.43 205.77,119.90 206.06,119.59 206.34,119.50 206.62,119.64 206.91,120.01 207.19,120.60 207.48,121.39 207.76,122.38 208.05,123.55 208.34,124.87 208.62,126.33 208.91,127.89 209.19,129.53 209.47,131.22 209.76,132.93 210.04,134.63 210.33,136.28 210.62,137.87 210.90,139.36 211.19,140.72 211.47,141.93 211.75,142.96 212.04,143.81 212.32,144.45 212.61,144.88 212.90,145.08 213.18,145.06 213.47,144.80 213.75,144.33 214.03,143.64 214.32,142.74 214.60,141.66 214.89,140.42 215.18,139.03 215.46,137.52 215.75,135.91 216.03,134.24 216.31,132.54 216.60,130.83 216.88,129.15 217.17,127.53 217.45,125.99 217.74,124.56 218.03,123.27 218.31,122.14 218.59,121.19 218.88,120.45 219.16,119.91 219.45,119.59 219.74,119.50 220.02,119.64 220.31,120.00 220.59,120.59 220.88,121.38 221.16,122.37 221.44,123.53 221.73,124.85 222.01,126.30 222.30,127.86 222.59,129.50 222.87,131.19 223.16,132.90 223.44,134.60 223.72,136.26 224.01,137.84 224.30,139.33 224.58,140.69 224.87,141.91 225.15,142.95 225.44,143.80 225.72,144.45 226.00,144.88 226.29,145.08 226.57,145.06 226.86,144.81 227.15,144.34 227.43,143.65 227.72,142.76 228.00,141.68 228.28,140.44 228.57,139.05 228.85,137.54 229.14,135.94 229.43,134.27 229.71,132.57 230.00,130.86 230.28,129.18 230.56,127.55 230.85,126.01 231.13,124.58 231.42,123.29 231.70,122.16 231.99,121.21 232.28,120.46 232.56,119.92 232.84,119.59 233.13,119.50 233.41,119.64 233.70,120.00 233.99,120.57 234.27,121.36 234.56,122.35 234.84,123.51 235.12,124.83 235.41,126.28 235.69,127.83 235.98,129.47 236.26,131.16 236.55,132.87 236.84,134.57 237.12,136.23 237.41,137.82 237.69,139.31 237.97,140.67 238.26,141.89 238.55,142.93 238.83,143.79 239.12,144.44 239.40,144.87 239.69,145.08 239.97,145.06 240.25,144.82 240.54,144.35 240.82,143.66 241.11,142.78 241.40,141.70 241.68,140.46 241.97,139.08 242.25,137.57 242.53,135.97 242.82,134.30 243.10,132.60 243.39,130.89 243.68,129.21 243.96,127.58 244.25,126.04 244.53,124.61 244.81,123.31 245.10,122.18 245.38,121.22 245.67,120.47 245.95,119.92 246.24,119.60 246.53,119.50 246.81,119.63 247.09,119.99 247.38,120.56 247.66,121.35 247.95,122.33 248.24,123.49 248.52,124.80 248.81,126.25 249.09,127.81 249.38,129.44 249.66,131.13 249.94,132.84 250.23,134.54 250.51,136.20 250.80,137.79 251.09,139.28 251.37,140.65 251.66,141.87 251.94,142.91 252.22,143.77 252.51,144.43 252.80,144.86 253.08,145.08 253.37,145.06 253.65,144.82 253.94,144.36 254.22,143.68 254.50,142.79 254.79,141.72 255.07,140.49 255.36,139.10 255.65,137.60 255.93,136.00 256.22,134.33 256.50,132.63 261.50,131.50" fill="none" stroke="#e08a4a" stroke-width="1.0" stroke-linejoin="round" stroke-linecap="round" />
<polygon points="262.60,130.60 255.20,131.00 258.60,136.20" fill="#a84c1c" stroke="none" stroke-width="1" />
<path d="M325.40,106.70 C327.33,106.52 333.17,107.05 337.00,105.60 C340.83,104.15 345.15,100.10 348.40,98.00 C351.65,95.90 352.57,94.70 356.50,93.00 C360.43,91.30 367.88,88.62 372.00,87.80 C376.12,86.98 378.37,87.40 381.20,88.10 C384.03,88.80 387.70,91.35 389.00,92.00 L401.5,98.5 L391.2,122.5 391.20,122.50 C389.50,121.67 384.20,118.22 381.00,117.50 C377.80,116.78 375.50,117.70 372.00,118.20 C368.50,118.70 364.50,119.25 360.00,120.50 C355.50,121.75 350.77,125.42 345.00,125.70 C339.23,125.98 328.67,122.78 325.40,122.20 Z" fill="#fbfcfd" stroke="none"/>
<path d="M325.40,106.70 C327.33,106.52 333.17,107.05 337.00,105.60 C340.83,104.15 345.15,100.10 348.40,98.00 C351.65,95.90 352.57,94.70 356.50,93.00 C360.43,91.30 367.88,88.62 372.00,87.80 C376.12,86.98 378.37,87.40 381.20,88.10 C384.03,88.80 387.70,91.35 389.00,92.00" fill="none" stroke="#e4e6ef" stroke-width="4.6" stroke-linecap="round" stroke-linejoin="round" />
<path d="M325.40,106.70 C327.33,106.52 333.17,107.05 337.00,105.60 C340.83,104.15 345.15,100.10 348.40,98.00 C351.65,95.90 352.57,94.70 356.50,93.00 C360.43,91.30 367.88,88.62 372.00,87.80 C376.12,86.98 378.37,87.40 381.20,88.10 C384.03,88.80 387.70,91.35 389.00,92.00" fill="none" stroke="#b6bacd" stroke-width="1.4" stroke-linecap="round" stroke-linejoin="round" />
<path d="M383,88.5 C392,90 398,96 397,104 C396,112 392,118 389,122" fill="none" stroke="#e2e4ee" stroke-width="3"/>
<polyline points="326.00,112.00 335.80,125.00 342.70,106.00 349.60,124.00 356.50,95.20 362.20,121.00 370.30,91.20 383.70,116.20 386.90,91.20 401.50,98.50" fill="none" stroke="#faf1d6" stroke-width="2.2" stroke-linejoin="round" stroke-linecap="round" />
<polyline points="326.00,112.00 335.80,125.00 342.70,106.00 349.60,124.00 356.50,95.20 362.20,121.00 370.30,91.20 383.70,116.20 386.90,91.20 401.50,98.50" fill="none" stroke="#f3e0a0" stroke-width="0.9" stroke-linejoin="round" stroke-linecap="round" />
<polyline points="396.50,94.00 401.50,98.50 396.50,103.00" fill="none" stroke="#f8d8b0" stroke-width="1.6" stroke-linejoin="round" stroke-linecap="round" />
<path d="M325.00,153.50 C326.80,153.15 330.57,151.05 335.80,151.40 C341.03,151.75 349.53,154.80 356.40,155.60 C363.27,156.40 371.27,156.67 377.00,156.20 C382.73,155.73 388.50,153.37 390.80,152.80 L401.8,177.6 L385.3,188.6 385.30,188.60 C382.77,188.25 374.92,188.00 370.10,186.50 C365.28,185.00 360.98,182.12 356.40,179.60 C351.82,177.08 347.83,173.12 342.60,171.40 C337.37,169.68 327.93,169.65 325.00,169.30 Z" fill="#fbfcfd" stroke="none"/>
<path d="M325.00,169.30 C327.93,169.65 337.37,169.68 342.60,171.40 C347.83,173.12 351.82,177.08 356.40,179.60 C360.98,182.12 365.28,185.00 370.10,186.50 C374.92,188.00 382.77,188.25 385.30,188.60" fill="none" stroke="#e4e6ef" stroke-width="4.6" stroke-linecap="round" stroke-linejoin="round" />
<path d="M325.00,169.30 C327.93,169.65 337.37,169.68 342.60,171.40 C347.83,173.12 351.82,177.08 356.40,179.60 C360.98,182.12 365.28,185.00 370.10,186.50 C374.92,188.00 382.77,188.25 385.30,188.60" fill="none" stroke="#b6bacd" stroke-width="1.4" stroke-linecap="round" stroke-linejoin="round" />
<path d="M386,188.5 C394,187 399,181 398,174 C397,166 393,158 390,153" fill="none" stroke="#e2e4ee" stroke-width="3"/>
<polyline points="326.00,160.00 334.00,169.00 338.50,155.00 348.80,177.60 352.30,156.00 361.90,183.00 366.00,157.00 378.40,185.00 380.00,158.00 393.50,164.50 401.80,177.60" fill="none" stroke="#faf1d6" stroke-width="2.2" stroke-linejoin="round" stroke-linecap="round" />
<polyline points="326.00,160.00 334.00,169.00 338.50,155.00 348.80,177.60 352.30,156.00 361.90,183.00 366.00,157.00 378.40,185.00 380.00,158.00 393.50,164.50 401.80,177.60" fill="none" stroke="#f3e0a0" stroke-width="0.9" stroke-linejoin="round" stroke-linecap="round" />
<polyline points="395.50,175.00 401.80,177.60 398.00,171.00" fill="none" stroke="#f8d8b0" stroke-width="1.6" stroke-linejoin="round" stroke-linecap="round" />
<path d="M325.40,122.20 C328.67,122.78 339.23,125.98 345.00,125.70 C350.77,125.42 355.50,121.75 360.00,120.50 C364.50,119.25 368.50,118.70 372.00,118.20 C375.50,117.70 377.80,116.78 381.00,117.50 C384.20,118.22 389.50,121.67 391.20,122.50" fill="none" stroke="#d5d8e7" stroke-width="4.6" stroke-linecap="round" stroke-linejoin="round" />
<path d="M325.40,122.20 C328.67,122.78 339.23,125.98 345.00,125.70 C350.77,125.42 355.50,121.75 360.00,120.50 C364.50,119.25 368.50,118.70 372.00,118.20 C375.50,117.70 377.80,116.78 381.00,117.50 C384.20,118.22 389.50,121.67 391.20,122.50" fill="none" stroke="#5c6184" stroke-width="1.5" stroke-linecap="round" stroke-linejoin="round" />
<path d="M325.00,153.50 C326.80,153.15 330.57,151.05 335.80,151.40 C341.03,151.75 349.53,154.80 356.40,155.60 C363.27,156.40 371.27,156.67 377.00,156.20 C382.73,155.73 388.50,153.37 390.80,152.80" fill="none" stroke="#d5d8e7" stroke-width="4.6" stroke-linecap="round" stroke-linejoin="round" />
<path d="M325.00,153.50 C326.80,153.15 330.57,151.05 335.80,151.40 C341.03,151.75 349.53,154.80 356.40,155.60 C363.27,156.40 371.27,156.67 377.00,156.20 C382.73,155.73 388.50,153.37 390.80,152.80" fill="none" stroke="#5c6184" stroke-width="1.5" stroke-linecap="round" stroke-linejoin="round" />
<polyline points="325.00,145.00 331.20,127.70 338.70,148.70 345.50,127.70 353.70,153.20 360.50,121.70 368.00,155.50 376.20,122.50 384.50,151.00 392.70,127.70 398.50,131.50 404.00,137.50" fill="none" stroke="#fbe6a6" stroke-width="3.0" stroke-linejoin="round" stroke-linecap="round" />
<polyline points="325.00,145.00 331.20,127.70 338.70,148.70 345.50,127.70 353.70,153.20 360.50,121.70 368.00,155.50 376.20,122.50 384.50,151.00 392.70,127.70 398.50,131.50 404.00,137.50" fill="none" stroke="#f0b22a" stroke-width="1.3" stroke-linejoin="round" stroke-linecap="round" />
<polygon points="404.20,137.50 396.50,130.50 398.80,137.50 396.50,144.00" fill="#efad20" stroke="none" stroke-width="1" />
<line x1="205.3" y1="195" x2="251.7" y2="195" stroke="#111" stroke-width="1.4" />
<polygon points="202.00,195.00 207.50,192.00 207.50,198.00" fill="#111" stroke="none" stroke-width="1" />
<polygon points="255.00,195.00 249.50,192.00 249.50,198.00" fill="#111" stroke="none" stroke-width="1" />
<line x1="342.0" y1="195.5" x2="388.0" y2="195.5" stroke="#111" stroke-width="1.4" />
<polygon points="338.70,195.50 344.20,192.50 344.20,198.50" fill="#111" stroke="none" stroke-width="1" />
<polygon points="391.30,195.50 385.80,192.50 385.80,198.50" fill="#111" stroke="none" stroke-width="1" />
<text x="228.7" y="211.9" font-size="12" fill="#222" text-anchor="middle" font-weight="normal" textLength="31.4" lengthAdjust="spacingAndGlyphs" stroke="#222" stroke-width="0.192" >30cm</text>
<text x="365" y="211.9" font-size="12" fill="#222" text-anchor="middle" font-weight="normal" textLength="31.2" lengthAdjust="spacingAndGlyphs" stroke="#222" stroke-width="0.192" >30cm</text>
<rect x="404.6" y="89.6" width="227" height="88.2" fill="none" stroke="#111" stroke-width="1.7" stroke-dasharray="5.6,4.4"/>
<text x="413.5" y="107.2" font-size="12.2" fill="#222" text-anchor="start" font-weight="normal" textLength="46.5" lengthAdjust="spacingAndGlyphs" stroke="#222" stroke-width="0.195" >Receiver</text>
<polygon points="407.50,122.00 432.40,130.40 432.40,142.00 407.50,151.00" fill="none" stroke="#111" stroke-width="1.6" />
<line x1="432.4" y1="136.2" x2="447.79999999999995" y2="136.2" stroke="#111" stroke-width="1.35" />
<polygon points="451.40,136.20 445.40,133.20 445.40,139.20" fill="#111" stroke="none" stroke-width="1" />
<polygon points="452.40,126.80 465.80,136.20 452.40,146.40" fill="#111" stroke="none" stroke-width="1" />
<line x1="466.3" y1="123.4" x2="466.3" y2="148.8" stroke="#111" stroke-width="1.4" />
<line x1="466.3" y1="136.2" x2="512.9" y2="136.2" stroke="#111" stroke-width="1.35" />
<polygon points="516.50,136.20 510.50,133.20 510.50,139.20" fill="#111" stroke="none" stroke-width="1" />
<text x="467.5" y="130.0" font-size="8.3" fill="#222" text-anchor="start" font-weight="normal" textLength="50" lengthAdjust="spacingAndGlyphs" stroke="#222" stroke-width="0.133" >Demodulation</text>
<text x="423.4" y="160.6" font-size="9.2" fill="#2a2a2a" text-anchor="start" font-weight="normal" textLength="75.6" lengthAdjust="spacingAndGlyphs" stroke="#2a2a2a" stroke-width="0.147" >Envelope Detector</text>
<polygon points="523.40,119.00 557.20,137.00 523.40,155.00" fill="none" stroke="#111" stroke-width="1.5" />
<text x="537.2" y="142" font-size="11.5" fill="#222" text-anchor="middle" font-weight="normal" textLength="21" lengthAdjust="spacingAndGlyphs" stroke="#222" stroke-width="0.184" >LNA</text>
<line x1="557.2" y1="137" x2="575.6" y2="137" stroke="#111" stroke-width="1.35" />
<polygon points="579.20,137.00 573.20,134.00 573.20,140.00" fill="#111" stroke="none" stroke-width="1" />
<circle cx="600.6" cy="136.2" r="21.6" fill="none" stroke="#1e2638" stroke-width="1.4"/>
<polyline points="582.00,144.64 582.48,144.41 582.96,144.02 583.44,143.48 583.92,142.79 584.41,141.97 584.89,141.04 585.37,140.01 585.85,138.91 586.33,137.76 586.81,136.58 587.29,135.41 587.77,134.25 588.26,133.14 588.74,132.10 589.22,131.16 589.70,130.32 590.18,129.61 590.66,129.04 591.14,128.63 591.62,128.38 592.11,128.30 592.59,128.39 593.07,128.64 593.55,129.06 594.03,129.64 594.51,130.35 594.99,131.19 595.48,132.15 595.96,133.19 596.44,134.30 596.92,135.45 597.40,136.63 597.88,137.81 598.36,138.96 598.84,140.05 599.33,141.08 599.81,142.01 600.29,142.82 600.77,143.50 601.25,144.04 601.73,144.43 602.21,144.65 602.69,144.70 603.17,144.58 603.66,144.29 604.14,143.84 604.62,143.24 605.10,142.50 605.58,141.64 606.06,140.67 606.54,139.62 607.02,138.49 607.51,137.33 607.99,136.15 608.47,134.98 608.95,133.84 609.43,132.76 609.91,131.75 610.39,130.84 610.88,130.05 611.36,129.39 611.84,128.87 612.32,128.52 612.80,128.33 613.28,128.31 613.76,128.46 614.24,128.78 614.73,129.25 615.21,129.88 615.69,130.64 616.17,131.53 616.65,132.51 617.13,133.58 617.61,134.71 618.09,135.88 618.58,137.06 619.06,138.23 619.54,139.36 620.02,140.43 620.50,141.43" fill="none" stroke="#eab0d0" stroke-width="3.2" stroke-linejoin="round" stroke-linecap="round" />
<polyline points="582.00,144.64 582.48,144.41 582.96,144.02 583.44,143.48 583.92,142.79 584.41,141.97 584.89,141.04 585.37,140.01 585.85,138.91 586.33,137.76 586.81,136.58 587.29,135.41 587.77,134.25 588.26,133.14 588.74,132.10 589.22,131.16 589.70,130.32 590.18,129.61 590.66,129.04 591.14,128.63 591.62,128.38 592.11,128.30 592.59,128.39 593.07,128.64 593.55,129.06 594.03,129.64 594.51,130.35 594.99,131.19 595.48,132.15 595.96,133.19 596.44,134.30 596.92,135.45 597.40,136.63 597.88,137.81 598.36,138.96 598.84,140.05 599.33,141.08 599.81,142.01 600.29,142.82 600.77,143.50 601.25,144.04 601.73,144.43 602.21,144.65 602.69,144.70 603.17,144.58 603.66,144.29 604.14,143.84 604.62,143.24 605.10,142.50 605.58,141.64 606.06,140.67 606.54,139.62 607.02,138.49 607.51,137.33 607.99,136.15 608.47,134.98 608.95,133.84 609.43,132.76 609.91,131.75 610.39,130.84 610.88,130.05 611.36,129.39 611.84,128.87 612.32,128.52 612.80,128.33 613.28,128.31 613.76,128.46 614.24,128.78 614.73,129.25 615.21,129.88 615.69,130.64 616.17,131.53 616.65,132.51 617.13,133.58 617.61,134.71 618.09,135.88 618.58,137.06 619.06,138.23 619.54,139.36 620.02,140.43 620.50,141.43" fill="none" stroke="#8c2c5c" stroke-width="1.4" stroke-linejoin="round" stroke-linecap="round" />
<text x="572.4" y="171.6" font-size="10.6" fill="#222" text-anchor="start" font-weight="normal" textLength="54.6" lengthAdjust="spacingAndGlyphs" stroke="#222" stroke-width="0.17" >DC-100MHz</text>
<text x="10.2" y="236.8" font-size="19.5" fill="#111" text-anchor="start" font-weight="bold" >b</text>
<clipPath id="cb"><rect x="44.4" y="236.2" width="154.2" height="128.2"/></clipPath>
<g clip-path="url(#cb)">
<polyline points="46.50,368.00 48.50,340.00 51.00,315.00 54.00,296.00 58.00,281.00 63.00,271.50 68.00,267.50 72.00,266.50 77.00,268.00 81.00,278.00 83.75,288.00 85.60,325.00 86.50,368.00" fill="none" stroke="#d3e5ef" stroke-width="1.35" stroke-linejoin="round" stroke-linecap="round" />
<polyline points="92.00,368.00 95.00,338.00 100.00,327.00 105.00,330.00 110.00,333.00 115.00,335.00 120.00,334.00 125.00,333.00 130.00,330.00 135.00,322.00 139.00,326.00 141.50,368.00" fill="none" stroke="#d3e5ef" stroke-width="1.35" stroke-linejoin="round" stroke-linecap="round" />
<polyline points="155.00,368.00 158.00,320.00 162.00,282.00 166.00,267.00 170.00,261.50 173.00,260.50 177.00,262.00 181.00,270.00 186.00,289.00 190.00,312.00 193.50,340.00 196.00,356.00 198.60,359.00" fill="none" stroke="#d3e5ef" stroke-width="1.35" stroke-linejoin="round" stroke-linecap="round" />
<polyline points="47.00,368.00 52.00,350.00 56.25,342.50 60.00,343.00 63.75,343.00 66.25,326.00 70.00,306.00 74.00,291.00 78.00,279.00 83.75,263.00 87.00,280.00 90.00,300.00 93.00,312.50 96.00,318.00 98.75,332.50 103.00,325.00 107.00,331.00 111.00,321.00 115.00,345.00 118.00,357.50 123.60,342.50 127.40,348.00 131.75,332.50 136.75,320.00 143.60,307.50 150.50,281.00 154.50,267.25 158.00,285.00 162.00,310.00 165.50,322.00 169.25,323.75 174.00,331.00 178.00,340.00 182.40,327.00 186.00,353.75 189.00,368.00" fill="none" stroke="#f1d088" stroke-width="1.35" stroke-linejoin="round" stroke-linecap="round" />
<circle cx="52.00" cy="350.00" r="0.95" fill="#f1d088"/>
<circle cx="56.25" cy="342.50" r="0.95" fill="#f1d088"/>
<circle cx="60.00" cy="343.00" r="0.95" fill="#f1d088"/>
<circle cx="63.75" cy="343.00" r="0.95" fill="#f1d088"/>
<circle cx="66.25" cy="326.00" r="0.95" fill="#f1d088"/>
<circle cx="70.00" cy="306.00" r="0.95" fill="#f1d088"/>
<circle cx="74.00" cy="291.00" r="0.95" fill="#f1d088"/>
<circle cx="78.00" cy="279.00" r="0.95" fill="#f1d088"/>
<circle cx="83.75" cy="263.00" r="0.95" fill="#f1d088"/>
<circle cx="87.00" cy="280.00" r="0.95" fill="#f1d088"/>
<circle cx="90.00" cy="300.00" r="0.95" fill="#f1d088"/>
<circle cx="93.00" cy="312.50" r="0.95" fill="#f1d088"/>
<circle cx="96.00" cy="318.00" r="0.95" fill="#f1d088"/>
<circle cx="98.75" cy="332.50" r="0.95" fill="#f1d088"/>
<circle cx="103.00" cy="325.00" r="0.95" fill="#f1d088"/>
<circle cx="107.00" cy="331.00" r="0.95" fill="#f1d088"/>
<circle cx="111.00" cy="321.00" r="0.95" fill="#f1d088"/>
<circle cx="115.00" cy="345.00" r="0.95" fill="#f1d088"/>
<circle cx="118.00" cy="357.50" r="0.95" fill="#f1d088"/>
<circle cx="123.60" cy="342.50" r="0.95" fill="#f1d088"/>
<circle cx="127.40" cy="348.00" r="0.95" fill="#f1d088"/>
<circle cx="131.75" cy="332.50" r="0.95" fill="#f1d088"/>
<circle cx="136.75" cy="320.00" r="0.95" fill="#f1d088"/>
<circle cx="143.60" cy="307.50" r="0.95" fill="#f1d088"/>
<circle cx="150.50" cy="281.00" r="0.95" fill="#f1d088"/>
<circle cx="154.50" cy="267.25" r="0.95" fill="#f1d088"/>
<circle cx="158.00" cy="285.00" r="0.95" fill="#f1d088"/>
<circle cx="162.00" cy="310.00" r="0.95" fill="#f1d088"/>
<circle cx="165.50" cy="322.00" r="0.95" fill="#f1d088"/>
<circle cx="169.25" cy="323.75" r="0.95" fill="#f1d088"/>
<circle cx="174.00" cy="331.00" r="0.95" fill="#f1d088"/>
<circle cx="178.00" cy="340.00" r="0.95" fill="#f1d088"/>
<circle cx="182.40" cy="327.00" r="0.95" fill="#f1d088"/>
<circle cx="186.00" cy="353.75" r="0.95" fill="#f1d088"/>
<polyline points="44.10,273.10 48.50,268.50 52.25,271.25 56.25,278.00 60.00,293.75 63.50,322.50 68.00,319.40 72.00,316.90 76.25,321.00 83.75,342.50 85.50,368.00" fill="none" stroke="#5f8db3" stroke-width="1.35" stroke-linejoin="round" stroke-linecap="round" />
<circle cx="48.50" cy="268.50" r="0.95" fill="#5f8db3"/>
<circle cx="52.25" cy="271.25" r="0.95" fill="#5f8db3"/>
<circle cx="56.25" cy="278.00" r="0.95" fill="#5f8db3"/>
<circle cx="60.00" cy="293.75" r="0.95" fill="#5f8db3"/>
<circle cx="63.50" cy="322.50" r="0.95" fill="#5f8db3"/>
<circle cx="68.00" cy="319.40" r="0.95" fill="#5f8db3"/>
<circle cx="72.00" cy="316.90" r="0.95" fill="#5f8db3"/>
<circle cx="76.25" cy="321.00" r="0.95" fill="#5f8db3"/>
<circle cx="83.75" cy="342.50" r="0.95" fill="#5f8db3"/>
<polyline points="90.50,368.00 92.00,350.00 95.00,328.75 99.50,313.20 103.00,340.60 106.25,322.50 111.00,310.00 115.30,296.30 119.20,303.00 123.20,296.80 126.00,316.00 130.50,325.00 134.00,315.00 138.90,296.00 141.00,325.00 142.40,342.50 147.40,338.75 151.00,341.90 152.40,368.00" fill="none" stroke="#5f8db3" stroke-width="1.35" stroke-linejoin="round" stroke-linecap="round" />
<circle cx="92.00" cy="350.00" r="0.95" fill="#5f8db3"/>
<circle cx="95.00" cy="328.75" r="0.95" fill="#5f8db3"/>
<circle cx="99.50" cy="313.20" r="0.95" fill="#5f8db3"/>
<circle cx="103.00" cy="340.60" r="0.95" fill="#5f8db3"/>
<circle cx="106.25" cy="322.50" r="0.95" fill="#5f8db3"/>
<circle cx="111.00" cy="310.00" r="0.95" fill="#5f8db3"/>
<circle cx="115.30" cy="296.30" r="0.95" fill="#5f8db3"/>
<circle cx="119.20" cy="303.00" r="0.95" fill="#5f8db3"/>
<circle cx="123.20" cy="296.80" r="0.95" fill="#5f8db3"/>
<circle cx="126.00" cy="316.00" r="0.95" fill="#5f8db3"/>
<circle cx="130.50" cy="325.00" r="0.95" fill="#5f8db3"/>
<circle cx="134.00" cy="315.00" r="0.95" fill="#5f8db3"/>
<circle cx="138.90" cy="296.00" r="0.95" fill="#5f8db3"/>
<circle cx="141.00" cy="325.00" r="0.95" fill="#5f8db3"/>
<circle cx="142.40" cy="342.50" r="0.95" fill="#5f8db3"/>
<circle cx="147.40" cy="338.75" r="0.95" fill="#5f8db3"/>
<circle cx="151.00" cy="341.90" r="0.95" fill="#5f8db3"/>
<polyline points="156.50,368.00 159.25,327.50 161.75,298.75 166.75,297.50 170.50,311.90 174.20,327.50 178.00,311.25 181.75,300.60 186.00,291.25 190.50,288.00 194.25,283.00 198.60,285.60" fill="none" stroke="#5f8db3" stroke-width="1.35" stroke-linejoin="round" stroke-linecap="round" />
<circle cx="159.25" cy="327.50" r="0.95" fill="#5f8db3"/>
<circle cx="161.75" cy="298.75" r="0.95" fill="#5f8db3"/>
<circle cx="166.75" cy="297.50" r="0.95" fill="#5f8db3"/>
<circle cx="170.50" cy="311.90" r="0.95" fill="#5f8db3"/>
<circle cx="174.20" cy="327.50" r="0.95" fill="#5f8db3"/>
<circle cx="178.00" cy="311.25" r="0.95" fill="#5f8db3"/>
<circle cx="181.75" cy="300.60" r="0.95" fill="#5f8db3"/>
<circle cx="186.00" cy="291.25" r="0.95" fill="#5f8db3"/>
<circle cx="190.50" cy="288.00" r="0.95" fill="#5f8db3"/>
<circle cx="194.25" cy="283.00" r="0.95" fill="#5f8db3"/>
<polyline points="58.50,368.00 60.00,360.60 63.00,342.50 66.25,328.75 73.75,320.00 80.00,322.50 83.75,342.50 85.60,368.00" fill="none" stroke="#c5604a" stroke-width="1.35" stroke-linejoin="round" stroke-linecap="round" />
<circle cx="60.00" cy="360.60" r="0.95" fill="#c5604a"/>
<circle cx="63.00" cy="342.50" r="0.95" fill="#c5604a"/>
<circle cx="66.25" cy="328.75" r="0.95" fill="#c5604a"/>
<circle cx="73.75" cy="320.00" r="0.95" fill="#c5604a"/>
<circle cx="80.00" cy="322.50" r="0.95" fill="#c5604a"/>
<circle cx="83.75" cy="342.50" r="0.95" fill="#c5604a"/>
<polyline points="88.00,368.00 91.90,327.50 94.75,260.60 99.75,247.50 103.75,255.60 106.30,316.50 107.50,357.50 110.00,327.50 119.20,298.50 123.20,299.00 127.10,315.40 130.00,323.75 135.00,289.50 138.60,265.60 143.00,271.25 147.40,290.60 151.00,316.90 154.90,338.00 157.40,357.50 159.50,368.00" fill="none" stroke="#c5604a" stroke-width="1.35" stroke-linejoin="round" stroke-linecap="round" />
<circle cx="91.90" cy="327.50" r="0.95" fill="#c5604a"/>
<circle cx="94.75" cy="260.60" r="0.95" fill="#c5604a"/>
<circle cx="99.75" cy="247.50" r="0.95" fill="#c5604a"/>
<circle cx="103.75" cy="255.60" r="0.95" fill="#c5604a"/>
<circle cx="106.30" cy="316.50" r="0.95" fill="#c5604a"/>
<circle cx="107.50" cy="357.50" r="0.95" fill="#c5604a"/>
<circle cx="110.00" cy="327.50" r="0.95" fill="#c5604a"/>
<circle cx="119.20" cy="298.50" r="0.95" fill="#c5604a"/>
<circle cx="123.20" cy="299.00" r="0.95" fill="#c5604a"/>
<circle cx="127.10" cy="315.40" r="0.95" fill="#c5604a"/>
<circle cx="130.00" cy="323.75" r="0.95" fill="#c5604a"/>
<circle cx="135.00" cy="289.50" r="0.95" fill="#c5604a"/>
<circle cx="138.60" cy="265.60" r="0.95" fill="#c5604a"/>
<circle cx="143.00" cy="271.25" r="0.95" fill="#c5604a"/>
<circle cx="147.40" cy="290.60" r="0.95" fill="#c5604a"/>
<circle cx="151.00" cy="316.90" r="0.95" fill="#c5604a"/>
<circle cx="154.90" cy="338.00" r="0.95" fill="#c5604a"/>
<circle cx="157.40" cy="357.50" r="0.95" fill="#c5604a"/>
<polyline points="180.20,368.00 182.40,360.00 186.00,356.25 190.50,361.25 192.00,368.00" fill="none" stroke="#c5604a" stroke-width="1.35" stroke-linejoin="round" stroke-linecap="round" />
<circle cx="182.40" cy="360.00" r="0.95" fill="#c5604a"/>
<circle cx="186.00" cy="356.25" r="0.95" fill="#c5604a"/>
<circle cx="190.50" cy="361.25" r="0.95" fill="#c5604a"/>
<polyline points="49.20,368.00 52.50,355.00 56.25,341.25 60.25,335.00 63.00,337.50 67.50,345.60 72.00,346.50 75.20,368.00" fill="none" stroke="#83292b" stroke-width="1.35" stroke-linejoin="round" stroke-linecap="round" />
<circle cx="52.50" cy="355.00" r="0.95" fill="#83292b"/>
<circle cx="56.25" cy="341.25" r="0.95" fill="#83292b"/>
<circle cx="60.25" cy="335.00" r="0.95" fill="#83292b"/>
<circle cx="63.00" cy="337.50" r="0.95" fill="#83292b"/>
<circle cx="67.50" cy="345.60" r="0.95" fill="#83292b"/>
<circle cx="72.00" cy="346.50" r="0.95" fill="#83292b"/>
<polyline points="91.00,368.00 95.00,308.75 99.50,288.40 103.40,300.80 106.30,315.40 111.25,278.75 115.00,254.75 119.25,240.25 123.60,246.00 127.40,277.50 130.50,311.25 134.90,289.40 138.60,280.60 143.00,287.50 146.75,311.25 153.20,368.00" fill="none" stroke="#83292b" stroke-width="1.35" stroke-linejoin="round" stroke-linecap="round" />
<circle cx="95.00" cy="308.75" r="0.95" fill="#83292b"/>
<circle cx="99.50" cy="288.40" r="0.95" fill="#83292b"/>
<circle cx="103.40" cy="300.80" r="0.95" fill="#83292b"/>
<circle cx="106.30" cy="315.40" r="0.95" fill="#83292b"/>
<circle cx="111.25" cy="278.75" r="0.95" fill="#83292b"/>
<circle cx="115.00" cy="254.75" r="0.95" fill="#83292b"/>
<circle cx="119.25" cy="240.25" r="0.95" fill="#83292b"/>
<circle cx="123.60" cy="246.00" r="0.95" fill="#83292b"/>
<circle cx="127.40" cy="277.50" r="0.95" fill="#83292b"/>
<circle cx="130.50" cy="311.25" r="0.95" fill="#83292b"/>
<circle cx="134.90" cy="289.40" r="0.95" fill="#83292b"/>
<circle cx="138.60" cy="280.60" r="0.95" fill="#83292b"/>
<circle cx="143.00" cy="287.50" r="0.95" fill="#83292b"/>
<circle cx="146.75" cy="311.25" r="0.95" fill="#83292b"/>
<polyline points="155.30,368.00 158.60,343.00 163.60,320.00 166.00,316.90 170.50,323.75 174.90,337.50 179.50,368.00" fill="none" stroke="#83292b" stroke-width="1.35" stroke-linejoin="round" stroke-linecap="round" />
<circle cx="158.60" cy="343.00" r="0.95" fill="#83292b"/>
<circle cx="163.60" cy="320.00" r="0.95" fill="#83292b"/>
<circle cx="166.00" cy="316.90" r="0.95" fill="#83292b"/>
<circle cx="170.50" cy="323.75" r="0.95" fill="#83292b"/>
<circle cx="174.90" cy="337.50" r="0.95" fill="#83292b"/>
</g>
<rect x="44.4" y="236.2" width="154.2" height="128.2" fill="none" stroke="#8a8a8a" stroke-width="1"/>
<line x1="44.4" y1="236.2" x2="44.4" y2="364.9" stroke="#858585" stroke-width="1.3" />
<line x1="43.9" y1="364.4" x2="198.6" y2="364.4" stroke="#858585" stroke-width="1.3" />
<line x1="41.8" y1="236.2" x2="44.4" y2="236.2" stroke="#555" stroke-width="0.9" />
<line x1="42.9" y1="245.375" x2="44.4" y2="245.375" stroke="#777" stroke-width="0.7" />
<text x="40.8" y="239.0" font-size="7.8" fill="#222" text-anchor="end" font-weight="normal" textLength="9.5" lengthAdjust="spacingAndGlyphs" stroke="#222" stroke-width="0.125" >-15</text>
<line x1="41.8" y1="254.56" x2="44.4" y2="254.56" stroke="#555" stroke-width="0.9" />
<line x1="42.9" y1="263.735" x2="44.4" y2="263.735" stroke="#777" stroke-width="0.7" />
<text x="40.8" y="257.36" font-size="7.8" fill="#222" text-anchor="end" font-weight="normal" textLength="9.5" lengthAdjust="spacingAndGlyphs" stroke="#222" stroke-width="0.125" >-20</text>
<line x1="41.8" y1="272.91999999999996" x2="44.4" y2="272.91999999999996" stroke="#555" stroke-width="0.9" />
<line x1="42.9" y1="282.09499999999997" x2="44.4" y2="282.09499999999997" stroke="#777" stroke-width="0.7" />
<text x="40.8" y="275.71999999999997" font-size="7.8" fill="#222" text-anchor="end" font-weight="normal" textLength="9.5" lengthAdjust="spacingAndGlyphs" stroke="#222" stroke-width="0.125" >-25</text>
<line x1="41.8" y1="291.28" x2="44.4" y2="291.28" stroke="#555" stroke-width="0.9" />
<line x1="42.9" y1="300.455" x2="44.4" y2="300.455" stroke="#777" stroke-width="0.7" />
<text x="40.8" y="294.08" font-size="7.8" fill="#222" text-anchor="end" font-weight="normal" textLength="9.5" lengthAdjust="spacingAndGlyphs" stroke="#222" stroke-width="0.125" >-30</text>
<line x1="41.8" y1="309.64" x2="44.4" y2="309.64" stroke="#555" stroke-width="0.9" />
<line x1="42.9" y1="318.815" x2="44.4" y2="318.815" stroke="#777" stroke-width="0.7" />
<text x="40.8" y="312.44" font-size="7.8" fill="#222" text-anchor="end" font-weight="normal" textLength="9.5" lengthAdjust="spacingAndGlyphs" stroke="#222" stroke-width="0.125" >-35</text>
<line x1="41.8" y1="328.0" x2="44.4" y2="328.0" stroke="#555" stroke-width="0.9" />
<line x1="42.9" y1="337.175" x2="44.4" y2="337.175" stroke="#777" stroke-width="0.7" />
<text x="40.8" y="330.8" font-size="7.8" fill="#222" text-anchor="end" font-weight="normal" textLength="9.5" lengthAdjust="spacingAndGlyphs" stroke="#222" stroke-width="0.125" >-40</text>
<line x1="41.8" y1="346.36" x2="44.4" y2="346.36" stroke="#555" stroke-width="0.9" />
<line x1="42.9" y1="355.535" x2="44.4" y2="355.535" stroke="#777" stroke-width="0.7" />
<text x="40.8" y="349.16" font-size="7.8" fill="#222" text-anchor="end" font-weight="normal" textLength="9.5" lengthAdjust="spacingAndGlyphs" stroke="#222" stroke-width="0.125" >-45</text>
<line x1="41.8" y1="364.72" x2="44.4" y2="364.72" stroke="#555" stroke-width="0.9" />
<text x="40.8" y="367.52000000000004" font-size="7.8" fill="#222" text-anchor="end" font-weight="normal" textLength="9.5" lengthAdjust="spacingAndGlyphs" stroke="#222" stroke-width="0.125" >-50</text>
<line x1="54.3" y1="364.4" x2="54.3" y2="367.0" stroke="#555" stroke-width="0.9" />
<text x="54.3" y="374.1" font-size="7.8" fill="#222" text-anchor="middle" font-weight="normal" textLength="8.6" lengthAdjust="spacingAndGlyphs" stroke="#222" stroke-width="0.125" >-50</text>
<line x1="67.5" y1="364.4" x2="67.5" y2="367.0" stroke="#555" stroke-width="0.9" />
<text x="67.5" y="374.1" font-size="7.8" fill="#222" text-anchor="middle" font-weight="normal" textLength="8.6" lengthAdjust="spacingAndGlyphs" stroke="#222" stroke-width="0.125" >-40</text>
<line x1="80.69999999999999" y1="364.4" x2="80.69999999999999" y2="367.0" stroke="#555" stroke-width="0.9" />
<text x="80.69999999999999" y="374.1" font-size="7.8" fill="#222" text-anchor="middle" font-weight="normal" textLength="8.6" lengthAdjust="spacingAndGlyphs" stroke="#222" stroke-width="0.125" >-30</text>
<line x1="93.89999999999999" y1="364.4" x2="93.89999999999999" y2="367.0" stroke="#555" stroke-width="0.9" />
<text x="93.89999999999999" y="374.1" font-size="7.8" fill="#222" text-anchor="middle" font-weight="normal" textLength="8.6" lengthAdjust="spacingAndGlyphs" stroke="#222" stroke-width="0.125" >-20</text>
<line x1="107.1" y1="364.4" x2="107.1" y2="367.0" stroke="#555" stroke-width="0.9" />
<text x="107.1" y="374.1" font-size="7.8" fill="#222" text-anchor="middle" font-weight="normal" textLength="8.6" lengthAdjust="spacingAndGlyphs" stroke="#222" stroke-width="0.125" >-10</text>
<line x1="120.3" y1="364.4" x2="120.3" y2="367.0" stroke="#555" stroke-width="0.9" />
<text x="120.3" y="374.1" font-size="7.8" fill="#222" text-anchor="middle" font-weight="normal" stroke="#222" stroke-width="0.125" >0</text>
<line x1="133.5" y1="364.4" x2="133.5" y2="367.0" stroke="#555" stroke-width="0.9" />
<text x="133.5" y="374.1" font-size="7.8" fill="#222" text-anchor="middle" font-weight="normal" textLength="7.4" lengthAdjust="spacingAndGlyphs" stroke="#222" stroke-width="0.125" >10</text>
<line x1="146.7" y1="364.4" x2="146.7" y2="367.0" stroke="#555" stroke-width="0.9" />
<text x="146.7" y="374.1" font-size="7.8" fill="#222" text-anchor="middle" font-weight="normal" textLength="7.4" lengthAdjust="spacingAndGlyphs" stroke="#222" stroke-width="0.125" >20</text>
<line x1="159.9" y1="364.4" x2="159.9" y2="367.0" stroke="#555" stroke-width="0.9" />
<text x="159.9" y="374.1" font-size="7.8" fill="#222" text-anchor="middle" font-weight="normal" textLength="7.4" lengthAdjust="spacingAndGlyphs" stroke="#222" stroke-width="0.125" >30</text>
<line x1="173.1" y1="364.4" x2="173.1" y2="367.0" stroke="#555" stroke-width="0.9" />
<text x="173.1" y="374.1" font-size="7.8" fill="#222" text-anchor="middle" font-weight="normal" textLength="7.4" lengthAdjust="spacingAndGlyphs" stroke="#222" stroke-width="0.125" >40</text>
<line x1="186.3" y1="364.4" x2="186.3" y2="367.0" stroke="#555" stroke-width="0.9" />
<text x="186.3" y="374.1" font-size="7.8" fill="#222" text-anchor="middle" font-weight="normal" textLength="7.4" lengthAdjust="spacingAndGlyphs" stroke="#222" stroke-width="0.125" >50</text>
<line x1="47.69999999999999" y1="364.4" x2="47.69999999999999" y2="365.9" stroke="#777" stroke-width="0.7" />
<line x1="60.89999999999999" y1="364.4" x2="60.89999999999999" y2="365.9" stroke="#777" stroke-width="0.7" />
<line x1="74.1" y1="364.4" x2="74.1" y2="365.9" stroke="#777" stroke-width="0.7" />
<line x1="87.3" y1="364.4" x2="87.3" y2="365.9" stroke="#777" stroke-width="0.7" />
<line x1="100.5" y1="364.4" x2="100.5" y2="365.9" stroke="#777" stroke-width="0.7" />
<line x1="113.7" y1="364.4" x2="113.7" y2="365.9" stroke="#777" stroke-width="0.7" />
<line x1="126.89999999999999" y1="364.4" x2="126.89999999999999" y2="365.9" stroke="#777" stroke-width="0.7" />
<line x1="140.1" y1="364.4" x2="140.1" y2="365.9" stroke="#777" stroke-width="0.7" />
<line x1="153.3" y1="364.4" x2="153.3" y2="365.9" stroke="#777" stroke-width="0.7" />
<line x1="166.5" y1="364.4" x2="166.5" y2="365.9" stroke="#777" stroke-width="0.7" />
<line x1="179.7" y1="364.4" x2="179.7" y2="365.9" stroke="#777" stroke-width="0.7" />
<line x1="192.9" y1="364.4" x2="192.9" y2="365.9" stroke="#777" stroke-width="0.7" />
<text x="121" y="385.6" font-size="9" fill="#333" text-anchor="middle" font-weight="normal" textLength="33" lengthAdjust="spacingAndGlyphs" stroke="#333" stroke-width="0.144" >Theta ( ° )</text>
<text x="0" y="0" font-size="9.2" fill="#2a2a2a" stroke="#2a2a2a" stroke-width="0.12" text-anchor="middle" textLength="50.5" lengthAdjust="spacingAndGlyphs" transform="translate(25.5,300.2) rotate(-90)">Power (dBm)</text>
<line x1="171.7" y1="240.6" x2="185.8" y2="240.6" stroke="#83292b" stroke-width="1.6" />
<circle cx="178.75" cy="240.6" r="1.2" fill="#83292b"/>
<text x="187.4" y="243.29999999999998" font-size="7.6" fill="#2a2a2a" text-anchor="start" font-weight="normal" textLength="6.2" lengthAdjust="spacingAndGlyphs" stroke="#2a2a2a" stroke-width="0.122" >0°</text>
<line x1="171.7" y1="248.79999999999998" x2="185.8" y2="248.79999999999998" stroke="#c5604a" stroke-width="1.6" />
<circle cx="178.75" cy="248.79999999999998" r="1.2" fill="#c5604a"/>
<text x="187.4" y="251.49999999999997" font-size="7.6" fill="#2a2a2a" text-anchor="start" font-weight="normal" textLength="8.8" lengthAdjust="spacingAndGlyphs" stroke="#2a2a2a" stroke-width="0.122" >15°</text>
<line x1="171.7" y1="257.0" x2="185.8" y2="257.0" stroke="#f1d088" stroke-width="1.6" />
<circle cx="178.75" cy="257.0" r="1.2" fill="#f1d088"/>
<text x="187.4" y="259.7" font-size="7.6" fill="#2a2a2a" text-anchor="start" font-weight="normal" textLength="8.8" lengthAdjust="spacingAndGlyphs" stroke="#2a2a2a" stroke-width="0.122" >30°</text>
<line x1="171.7" y1="265.2" x2="185.8" y2="265.2" stroke="#d3e5ef" stroke-width="1.6" />
<circle cx="178.75" cy="265.2" r="1.2" fill="#d3e5ef"/>
<text x="187.4" y="267.9" font-size="7.6" fill="#2a2a2a" text-anchor="start" font-weight="normal" textLength="8.8" lengthAdjust="spacingAndGlyphs" stroke="#2a2a2a" stroke-width="0.122" >40°</text>
<line x1="171.7" y1="273.4" x2="185.8" y2="273.4" stroke="#5f8db3" stroke-width="1.6" />
<circle cx="178.75" cy="273.4" r="1.2" fill="#5f8db3"/>
<text x="187.4" y="276.09999999999997" font-size="7.6" fill="#2a2a2a" text-anchor="start" font-weight="normal" textLength="8.8" lengthAdjust="spacingAndGlyphs" stroke="#2a2a2a" stroke-width="0.122" >60°</text>
<text x="209.6" y="235.2" font-size="18" fill="#111" text-anchor="start" font-weight="bold" >c</text>
<text x="277.6" y="235.2" font-size="12.4" fill="#111" text-anchor="start" font-weight="normal" textLength="33.4" lengthAdjust="spacingAndGlyphs" stroke="#111" stroke-width="0.198" >1MHz</text>
<text x="417.5" y="235.1" font-size="12.4" fill="#111" text-anchor="start" font-weight="normal" textLength="40.5" lengthAdjust="spacingAndGlyphs" stroke="#111" stroke-width="0.198" >40MHz</text>
<text x="556.2" y="235.1" font-size="12.4" fill="#111" text-anchor="start" font-weight="normal" textLength="48.3" lengthAdjust="spacingAndGlyphs" stroke="#111" stroke-width="0.198" >100MHz</text>
<clipPath id="c232_239"><rect x="232.5" y="239.3" width="120.5" height="43.69999999999999"/></clipPath>
<g clip-path="url(#c232_239)">
<polyline points="232.50,263.42 232.80,262.69 233.10,261.90 233.40,260.98 233.71,259.98 234.01,258.99 234.31,257.98 234.61,257.10 234.91,256.37 235.21,255.76 235.51,255.24 235.81,254.60 236.12,253.96 236.42,253.37 236.72,252.98 237.02,252.53 237.32,252.28 237.62,251.99 237.92,251.68 238.22,251.25 238.53,250.81 238.83,250.55 239.13,250.29 239.43,250.12 239.73,250.05 240.03,249.89 240.33,249.79 240.63,249.75 240.94,249.90 241.24,250.01 241.54,250.28 241.84,250.47 242.14,250.64 242.44,250.71 242.74,250.79 243.04,250.95 243.34,251.11 243.65,251.20 243.95,251.42 244.25,251.52 244.55,251.56 244.85,251.78 245.15,252.02 245.45,251.99 245.75,252.29 246.06,252.47 246.36,252.45 246.66,252.59 246.96,252.71 247.26,252.62 247.56,252.76 247.86,252.74 248.16,252.67 248.47,252.68 248.77,252.62 249.07,252.53 249.37,252.64 249.67,252.85 249.97,252.95 250.27,253.19 250.57,253.34 250.88,253.57 251.18,253.66 251.48,253.87 251.78,253.85 252.08,254.10 252.38,254.25 252.68,254.32 252.99,254.34 253.29,254.59 253.59,254.81 253.89,255.14 254.19,255.42 254.49,255.93 254.79,256.44 255.09,256.63 255.40,256.79 255.70,257.27 256.00,257.68 256.30,258.08 256.60,258.59 256.90,259.20 257.20,259.79 257.50,260.39 257.81,261.16 258.11,261.85 258.41,262.54 258.71,263.28 259.01,264.23 259.31,264.93 259.61,265.73 259.91,266.71 260.21,267.52 260.52,268.01 260.82,268.76 261.12,269.41 261.42,270.06 261.72,270.89 262.02,271.76 262.32,272.40 262.62,273.27 262.93,273.94 263.23,274.64 263.53,275.30 263.83,275.79 264.13,276.33 264.43,276.95 264.73,277.21 265.03,277.39 265.34,277.75 265.64,278.03 265.94,278.08 266.24,278.20 266.54,278.32 266.84,278.11 267.14,277.95 267.44,277.64 267.75,277.43 268.05,277.07 268.35,276.62 268.65,275.81 268.95,275.13 269.25,274.13 269.55,273.04 269.86,271.98 270.16,270.89 270.46,269.84 270.76,268.77 271.06,267.77 271.36,266.96 271.66,265.84 271.96,264.96 272.26,264.23 272.57,263.49 272.87,262.68 273.17,261.94 273.47,261.08 273.77,260.22 274.07,259.32 274.37,258.34 274.68,257.31 274.98,256.82 275.28,256.30 275.58,255.57 275.88,254.91 276.18,254.40 276.48,253.64 276.78,252.95 277.08,252.45 277.39,252.13 277.69,251.60 277.99,251.20 278.29,250.98 278.59,250.73 278.89,250.46 279.19,250.43 279.50,250.49 279.80,250.36 280.10,250.19 280.40,250.23 280.70,250.25 281.00,250.02 281.30,250.01 281.60,250.09 281.90,250.26 282.21,250.41 282.51,250.65 282.81,250.78 283.11,250.92 283.41,251.11 283.71,251.14 284.01,251.36 284.31,251.50 284.62,251.85 284.92,251.78 285.22,251.92 285.52,251.96 285.82,252.13 286.12,252.07 286.42,252.18 286.73,252.35 287.03,252.29 287.33,252.28 287.63,252.42 287.93,252.27 288.23,252.40 288.53,252.49 288.83,252.64 289.13,252.65 289.44,252.86 289.74,252.82 290.04,252.91 290.34,253.08 290.64,253.30 290.94,253.42 291.24,253.63 291.55,253.87 291.85,253.99 292.15,253.90 292.45,254.03 292.75,254.00 293.05,254.16 293.35,254.24 293.65,254.64 293.95,254.88 294.26,255.14 294.56,255.47 294.86,255.72 295.16,255.95 295.46,256.45 295.76,257.18 296.06,257.48 296.37,258.12 296.67,258.78 296.97,259.31 297.27,259.73 297.57,260.35 297.87,261.03 298.17,261.55 298.47,262.16 298.77,262.81 299.08,263.69 299.38,264.44 299.68,265.22 299.98,266.10 300.28,266.96 300.58,267.57 300.88,268.24 301.19,269.15 301.49,270.02 301.79,271.00 302.09,271.87 302.39,272.62 302.69,273.27 302.99,273.97 303.29,274.45 303.60,275.12 303.90,275.60 304.20,276.08 304.50,276.49 304.80,276.85 305.10,277.08 305.40,277.50 305.70,277.63 306.00,277.98 306.31,278.24 306.61,278.50 306.91,278.32 307.21,278.37 307.51,278.05 307.81,277.72 308.11,277.21 308.42,276.87 308.72,276.16 309.02,275.34 309.32,274.49 309.62,273.47 309.92,272.28 310.22,271.18 310.52,270.28 310.82,269.23 311.13,268.18 311.43,267.51 311.73,266.57 312.03,265.41 312.33,264.68 312.63,264.10 312.93,263.03 313.24,262.17 313.54,261.46 313.84,260.71 314.14,259.81 314.44,258.86 314.74,258.03 315.04,257.28 315.34,256.53 315.64,255.92 315.95,255.33 316.25,254.74 316.55,254.03 316.85,253.58 317.15,252.93 317.45,252.54 317.75,252.23 318.06,251.85 318.36,251.37 318.66,251.27 318.96,251.03 319.26,250.64 319.56,250.54 319.86,250.31 320.16,249.98 320.47,249.82 320.77,249.82 321.07,249.72 321.37,249.81 321.67,249.94 321.97,250.28 322.27,250.37 322.57,250.50 322.88,250.71 323.18,250.88 323.48,250.69 323.78,251.02 324.08,251.22 324.38,251.16 324.68,251.34 324.98,251.59 325.28,251.46 325.59,251.64 325.89,251.92 326.19,251.90 326.49,252.14 326.79,252.37 327.09,252.40 327.39,252.45 327.69,252.57 328.00,252.57 328.30,252.69 328.60,252.78 328.90,252.82 329.20,252.86 329.50,252.97 329.80,253.01 330.11,252.85 330.41,252.90 330.71,252.95 331.01,253.18 331.31,253.19 331.61,253.48 331.91,253.55 332.21,253.69 332.51,253.64 332.82,253.79 333.12,254.14 333.42,254.37 333.72,254.58 334.02,254.86 334.32,255.06 334.62,255.09 334.93,255.63 335.23,256.10 335.53,256.44 335.83,256.97 336.13,257.61 336.43,258.08 336.73,258.39 337.03,258.90 337.33,259.59 337.64,260.29 337.94,260.69 338.24,261.42 338.54,262.04 338.84,262.61 339.14,263.32 339.44,264.19 339.75,265.21 340.05,266.17 340.35,267.00 340.65,267.64 340.95,268.43 341.25,268.96 341.55,269.63 341.85,270.43 342.15,271.25 342.46,271.98 342.76,272.78 343.06,273.50 343.36,274.22 343.66,274.98 343.96,275.62 344.26,276.12 344.56,276.69 344.87,277.12 345.17,277.43 345.47,277.66 345.77,277.89 346.07,278.14 346.37,278.20 346.67,278.13 346.98,278.08 347.28,277.99 347.58,277.71 347.88,277.58 348.18,277.48 348.48,277.07 348.78,276.58 349.08,275.90 349.38,275.14 349.69,274.26 349.99,273.29 350.29,271.99 350.59,270.94 350.89,269.85 351.19,268.66 351.49,267.62 351.80,266.93 352.10,265.70 352.40,264.78 352.70,264.06 353.00,263.15" fill="none" stroke="#d39698" stroke-width="1.1" stroke-linejoin="round" stroke-linecap="round" />
</g>
<rect x="232.5" y="239.3" width="120.5" height="43.69999999999999" fill="none" stroke="#b0b0b0" stroke-width="1.1"/>
<line x1="232.5" y1="239.3" x2="232.5" y2="283.0" stroke="#c2c2c2" stroke-width="1.1" />
<line x1="232.5" y1="240.3" x2="234.1" y2="240.3" stroke="#aaa" stroke-width="0.6" />
<text x="231.2" y="243.3" font-size="8.4" fill="#222" text-anchor="end" font-weight="normal" stroke="#222" stroke-width="0.18">90</text>
<line x1="232.5" y1="247.10000000000002" x2="234.1" y2="247.10000000000002" stroke="#aaa" stroke-width="0.6" />
<text x="231.2" y="250.10000000000002" font-size="8.4" fill="#222" text-anchor="end" font-weight="normal" stroke="#222" stroke-width="0.18">60</text>
<line x1="232.5" y1="253.9" x2="234.1" y2="253.9" stroke="#aaa" stroke-width="0.6" />
<text x="231.2" y="256.9" font-size="8.4" fill="#222" text-anchor="end" font-weight="normal" stroke="#222" stroke-width="0.18">30</text>
<line x1="232.5" y1="260.70000000000005" x2="234.1" y2="260.70000000000005" stroke="#aaa" stroke-width="0.6" />
<text x="231.2" y="263.70000000000005" font-size="8.4" fill="#222" text-anchor="end" font-weight="normal" stroke="#222" stroke-width="0.18">0</text>
<line x1="232.5" y1="267.5" x2="234.1" y2="267.5" stroke="#aaa" stroke-width="0.6" />
<text x="231.2" y="270.5" font-size="8.4" fill="#222" text-anchor="end" font-weight="normal" stroke="#222" stroke-width="0.18">-30</text>
<line x1="232.5" y1="274.3" x2="234.1" y2="274.3" stroke="#aaa" stroke-width="0.6" />
<text x="231.2" y="277.3" font-size="8.4" fill="#222" text-anchor="end" font-weight="normal" stroke="#222" stroke-width="0.18">-60</text>
<line x1="232.5" y1="281.1" x2="234.1" y2="281.1" stroke="#aaa" stroke-width="0.6" />
<text x="231.2" y="284.1" font-size="8.4" fill="#222" text-anchor="end" font-weight="normal" stroke="#222" stroke-width="0.18">-90</text>
<line x1="232.5" y1="283.0" x2="232.5" y2="281.2" stroke="#999" stroke-width="0.7" />
<line x1="232.5" y1="239.3" x2="232.5" y2="241.10000000000002" stroke="#aaa" stroke-width="0.6" />
<line x1="252.58333333333334" y1="283.0" x2="252.58333333333334" y2="281.2" stroke="#999" stroke-width="0.7" />
<line x1="252.58333333333334" y1="239.3" x2="252.58333333333334" y2="241.10000000000002" stroke="#aaa" stroke-width="0.6" />
<line x1="272.6666666666667" y1="283.0" x2="272.6666666666667" y2="281.2" stroke="#999" stroke-width="0.7" />
<line x1="272.6666666666667" y1="239.3" x2="272.6666666666667" y2="241.10000000000002" stroke="#aaa" stroke-width="0.6" />
<line x1="292.75" y1="283.0" x2="292.75" y2="281.2" stroke="#999" stroke-width="0.7" />
<line x1="292.75" y1="239.3" x2="292.75" y2="241.10000000000002" stroke="#aaa" stroke-width="0.6" />
<line x1="312.8333333333333" y1="283.0" x2="312.8333333333333" y2="281.2" stroke="#999" stroke-width="0.7" />
<line x1="312.8333333333333" y1="239.3" x2="312.8333333333333" y2="241.10000000000002" stroke="#aaa" stroke-width="0.6" />
<line x1="332.9166666666667" y1="283.0" x2="332.9166666666667" y2="281.2" stroke="#999" stroke-width="0.7" />
<line x1="332.9166666666667" y1="239.3" x2="332.9166666666667" y2="241.10000000000002" stroke="#aaa" stroke-width="0.6" />
<line x1="353.0" y1="283.0" x2="353.0" y2="281.2" stroke="#999" stroke-width="0.7" />
<line x1="353.0" y1="239.3" x2="353.0" y2="241.10000000000002" stroke="#aaa" stroke-width="0.6" />
<rect x="324.2" y="239.3" width="28.80000000000001" height="10.8" fill="#fff" stroke="#8a8a8a" stroke-width="0.9"/>
<line x1="326.2" y1="244.70000000000002" x2="341.0" y2="244.70000000000002" stroke="#d39698" stroke-width="1.1" />
<text x="352.0" y="248.00000000000003" font-size="9.0" fill="#2a2a2a" text-anchor="end" font-weight="normal" textLength="7.4" lengthAdjust="spacingAndGlyphs" stroke="#2a2a2a" stroke-width="0.144" >0°</text>
<clipPath id="c232_283"><rect x="232.5" y="283.0" width="120.5" height="44.5"/></clipPath>
<g clip-path="url(#c232_283)">
<polyline points="232.50,311.26 232.80,310.17 233.10,309.05 233.40,307.78 233.71,306.57 234.01,305.29 234.31,304.02 234.61,302.84 234.91,301.60 235.21,300.32 235.51,299.22 235.81,298.35 236.12,297.10 236.42,296.18 236.72,295.40 237.02,294.69 237.32,293.65 237.62,293.31 237.92,292.78 238.22,292.11 238.53,291.66 238.83,291.73 239.13,291.43 239.43,291.33 239.73,291.23 240.03,291.14 240.33,291.06 240.63,291.07 240.94,291.20 241.24,291.49 241.54,291.81 241.84,292.11 242.14,292.42 242.44,292.89 242.74,293.28 243.04,293.58 243.34,293.99 243.65,294.36 243.95,294.64 244.25,294.82 244.55,294.93 244.85,294.89 245.15,295.02 245.45,295.01 245.75,295.26 246.06,295.29 246.36,295.46 246.66,295.48 246.96,295.69 247.26,295.68 247.56,296.18 247.86,296.24 248.16,296.32 248.47,296.47 248.77,296.47 249.07,296.18 249.37,296.39 249.67,296.58 249.97,296.38 250.27,296.30 250.57,296.38 250.88,296.04 251.18,295.68 251.48,295.37 251.78,295.12 252.08,294.68 252.38,294.40 252.68,294.40 252.99,294.36 253.29,294.38 253.59,294.52 253.89,294.54 254.19,294.33 254.49,294.21 254.79,294.31 255.09,294.41 255.40,294.51 255.70,294.67 256.00,294.93 256.30,294.99 256.60,295.21 256.90,295.46 257.20,295.78 257.50,296.21 257.81,296.74 258.11,297.17 258.41,298.07 258.71,298.78 259.01,299.39 259.31,300.13 259.61,300.78 259.91,301.19 260.21,301.99 260.52,302.80 260.82,303.48 261.12,304.28 261.42,305.13 261.72,305.96 262.02,307.05 262.32,308.10 262.62,309.24 262.93,310.32 263.23,311.36 263.53,312.39 263.83,313.52 264.13,314.49 264.43,315.51 264.73,316.48 265.03,317.26 265.34,318.01 265.64,318.78 265.94,319.43 266.24,320.08 266.54,320.47 266.84,321.00 267.14,321.32 267.44,321.66 267.75,321.64 268.05,322.11 268.35,321.92 268.65,321.61 268.95,321.02 269.25,320.24 269.55,319.23 269.86,318.25 270.16,317.41 270.46,316.61 270.76,316.09 271.06,315.51 271.36,315.06 271.66,314.32 271.96,313.67 272.26,313.16 272.57,312.03 272.87,310.74 273.17,309.60 273.47,308.53 273.77,307.00 274.07,305.67 274.37,304.62 274.68,303.22 274.98,301.90 275.28,300.79 275.58,299.87 275.88,298.62 276.18,297.51 276.48,296.65 276.78,295.83 277.08,294.97 277.39,294.25 277.69,293.81 277.99,293.14 278.29,292.68 278.59,292.22 278.89,291.92 279.19,291.43 279.50,291.32 279.80,291.24 280.10,291.04 280.40,291.15 280.70,291.33 281.00,291.29 281.30,291.28 281.60,291.65 281.90,291.66 282.21,291.98 282.51,292.36 282.81,292.85 283.11,293.10 283.41,293.81 283.71,293.88 284.01,294.03 284.31,294.25 284.62,294.58 284.92,294.74 285.22,294.99 285.52,295.36 285.82,295.41 286.12,295.45 286.42,295.45 286.73,295.85 287.03,295.94 287.33,296.21 287.63,296.30 287.93,296.34 288.23,296.25 288.53,296.33 288.83,296.30 289.13,296.26 289.44,296.29 289.74,296.08 290.04,295.87 290.34,295.65 290.64,295.58 290.94,295.45 291.24,295.58 291.55,295.57 291.85,295.41 292.15,295.18 292.45,294.90 292.75,294.41 293.05,294.28 293.35,294.15 293.65,293.75 293.95,293.89 294.26,294.09 294.56,293.96 294.86,293.97 295.16,294.30 295.46,294.22 295.76,294.26 296.06,294.43 296.37,294.57 296.67,295.07 296.97,295.45 297.27,295.85 297.57,296.39 297.87,297.06 298.17,297.26 298.47,297.76 298.77,298.25 299.08,298.66 299.38,299.16 299.68,299.85 299.98,300.50 300.28,301.46 300.58,302.32 300.88,303.10 301.19,304.03 301.49,304.90 301.79,305.62 302.09,306.72 302.39,307.75 302.69,308.58 302.99,309.72 303.29,310.87 303.60,311.85 303.90,312.77 304.20,313.90 304.50,314.63 304.80,315.54 305.10,316.37 305.40,317.38 305.70,318.43 306.00,319.17 306.31,319.75 306.61,320.61 306.91,321.11 307.21,321.41 307.51,321.86 307.81,322.11 308.11,322.11 308.42,322.04 308.72,321.52 309.02,321.13 309.32,320.67 309.62,319.95 309.92,319.31 310.22,318.65 310.52,317.63 310.82,316.74 311.13,315.91 311.43,314.97 311.73,314.24 312.03,313.78 312.33,313.16 312.63,312.22 312.93,311.32 313.24,310.41 313.54,309.15 313.84,307.92 314.14,306.78 314.44,305.32 314.74,303.90 315.04,302.58 315.34,301.42 315.64,300.25 315.95,299.28 316.25,298.15 316.55,297.12 316.85,296.25 317.15,295.31 317.45,294.57 317.75,293.97 318.06,293.41 318.36,292.66 318.66,292.26 318.96,291.78 319.26,291.46 319.56,291.49 319.86,291.52 320.16,291.50 320.47,291.46 320.77,291.66 321.07,291.81 321.37,291.97 321.67,292.08 321.97,292.43 322.27,292.49 322.57,292.61 322.88,292.98 323.18,293.26 323.48,293.66 323.78,294.10 324.08,294.31 324.38,294.31 324.68,294.55 324.98,294.53 325.28,294.70 325.59,294.84 325.89,294.93 326.19,295.16 326.49,295.10 326.79,295.26 327.09,295.43 327.39,295.72 327.69,295.66 328.00,296.14 328.30,296.38 328.60,296.37 328.90,296.35 329.20,296.39 329.50,295.93 329.80,295.61 330.11,295.54 330.41,295.40 330.71,295.29 331.01,295.25 331.31,295.26 331.61,295.19 331.91,295.53 332.21,295.38 332.51,295.46 332.82,295.07 333.12,294.63 333.42,294.09 333.72,294.05 334.02,293.93 334.32,294.02 334.62,294.26 334.93,294.20 335.23,294.23 335.53,294.26 335.83,294.31 336.13,294.29 336.43,294.50 336.73,294.76 337.03,294.98 337.33,295.32 337.64,295.95 337.94,296.32 338.24,296.71 338.54,297.39 338.84,297.81 339.14,298.23 339.44,299.19 339.75,299.73 340.05,300.29 340.35,301.04 340.65,301.82 340.95,302.46 341.25,303.61 341.55,304.39 341.85,305.41 342.15,306.45 342.46,307.44 342.76,308.34 343.06,309.46 343.36,310.59 343.66,311.63 343.96,312.94 344.26,313.97 344.56,314.88 344.87,315.53 345.17,316.40 345.47,317.03 345.77,317.65 346.07,318.57 346.37,319.40 346.67,319.88 346.98,320.48 347.28,321.03 347.58,321.47 347.88,321.77 348.18,322.04 348.48,321.93 348.78,321.65 349.08,320.87 349.38,320.38 349.69,319.76 349.99,318.98 350.29,318.44 350.59,317.86 350.89,316.98 351.19,316.25 351.49,315.64 351.80,315.02 352.10,314.17 352.40,313.79 352.70,313.05 353.00,311.91" fill="none" stroke="#6cc2ce" stroke-width="1.1" stroke-linejoin="round" stroke-linecap="round" />
</g>
<rect x="232.5" y="283.0" width="120.5" height="44.5" fill="none" stroke="#b0b0b0" stroke-width="1.1"/>
<line x1="232.5" y1="283.0" x2="232.5" y2="327.5" stroke="#c2c2c2" stroke-width="1.1" />
<line x1="232.5" y1="288.6" x2="234.1" y2="288.6" stroke="#aaa" stroke-width="0.6" />
<text x="231.2" y="291.6" font-size="8.4" fill="#222" text-anchor="end" font-weight="normal" stroke="#222" stroke-width="0.18">30</text>
<line x1="232.5" y1="296.77500000000003" x2="234.1" y2="296.77500000000003" stroke="#aaa" stroke-width="0.6" />
<text x="231.2" y="299.77500000000003" font-size="8.4" fill="#222" text-anchor="end" font-weight="normal" stroke="#222" stroke-width="0.18">15</text>
<line x1="232.5" y1="304.95000000000005" x2="234.1" y2="304.95000000000005" stroke="#aaa" stroke-width="0.6" />
<text x="231.2" y="307.95000000000005" font-size="8.4" fill="#222" text-anchor="end" font-weight="normal" stroke="#222" stroke-width="0.18">0</text>
<line x1="232.5" y1="313.125" x2="234.1" y2="313.125" stroke="#aaa" stroke-width="0.6" />
<text x="231.2" y="316.125" font-size="8.4" fill="#222" text-anchor="end" font-weight="normal" stroke="#222" stroke-width="0.18">-15</text>
<line x1="232.5" y1="321.3" x2="234.1" y2="321.3" stroke="#aaa" stroke-width="0.6" />
<text x="231.2" y="324.3" font-size="8.4" fill="#222" text-anchor="end" font-weight="normal" stroke="#222" stroke-width="0.18">-30</text>
<line x1="232.5" y1="327.5" x2="232.5" y2="325.7" stroke="#999" stroke-width="0.7" />
<line x1="232.5" y1="283.0" x2="232.5" y2="284.8" stroke="#aaa" stroke-width="0.6" />
<line x1="252.58333333333334" y1="327.5" x2="252.58333333333334" y2="325.7" stroke="#999" stroke-width="0.7" />
<line x1="252.58333333333334" y1="283.0" x2="252.58333333333334" y2="284.8" stroke="#aaa" stroke-width="0.6" />
<line x1="272.6666666666667" y1="327.5" x2="272.6666666666667" y2="325.7" stroke="#999" stroke-width="0.7" />
<line x1="272.6666666666667" y1="283.0" x2="272.6666666666667" y2="284.8" stroke="#aaa" stroke-width="0.6" />
<line x1="292.75" y1="327.5" x2="292.75" y2="325.7" stroke="#999" stroke-width="0.7" />
<line x1="292.75" y1="283.0" x2="292.75" y2="284.8" stroke="#aaa" stroke-width="0.6" />
<line x1="312.8333333333333" y1="327.5" x2="312.8333333333333" y2="325.7" stroke="#999" stroke-width="0.7" />
<line x1="312.8333333333333" y1="283.0" x2="312.8333333333333" y2="284.8" stroke="#aaa" stroke-width="0.6" />
<line x1="332.9166666666667" y1="327.5" x2="332.9166666666667" y2="325.7" stroke="#999" stroke-width="0.7" />
<line x1="332.9166666666667" y1="283.0" x2="332.9166666666667" y2="284.8" stroke="#aaa" stroke-width="0.6" />
<line x1="353.0" y1="327.5" x2="353.0" y2="325.7" stroke="#999" stroke-width="0.7" />
<line x1="353.0" y1="283.0" x2="353.0" y2="284.8" stroke="#aaa" stroke-width="0.6" />
<rect x="320.7" y="283.0" width="32.30000000000001" height="11.5" fill="#fff" stroke="#8a8a8a" stroke-width="0.9"/>
<line x1="322.7" y1="288.75" x2="337.5" y2="288.75" stroke="#6cc2ce" stroke-width="1.1" />
<text x="352.0" y="292.05" font-size="9.0" fill="#2a2a2a" text-anchor="end" font-weight="normal" textLength="11.3" lengthAdjust="spacingAndGlyphs" stroke="#2a2a2a" stroke-width="0.144" >30°</text>
<clipPath id="c232_327"><rect x="232.5" y="327.5" width="120.5" height="43.80000000000001"/></clipPath>
<g clip-path="url(#c232_327)">
<polyline points="232.50,354.24 232.80,353.57 233.10,352.94 233.40,352.24 233.71,351.44 234.01,350.53 234.31,349.83 234.61,349.04 234.91,348.16 235.21,347.47 235.51,347.03 235.81,346.25 236.12,345.57 236.42,345.29 236.72,344.79 237.02,344.14 237.32,343.77 237.62,343.42 237.92,342.84 238.22,342.51 238.53,342.17 238.83,341.85 239.13,341.71 239.43,341.55 239.73,341.31 240.03,341.36 240.33,341.41 240.63,341.36 240.94,341.27 241.24,341.38 241.54,341.37 241.84,341.47 242.14,341.53 242.44,341.70 242.74,341.73 243.04,341.70 243.34,341.70 243.65,341.71 243.95,341.87 244.25,342.06 244.55,342.48 244.85,342.59 245.15,342.95 245.45,343.05 245.75,343.12 246.06,343.17 246.36,343.39 246.66,343.44 246.96,343.69 247.26,343.81 247.56,343.72 247.86,344.01 248.16,344.04 248.47,343.98 248.77,344.05 249.07,344.19 249.37,344.01 249.67,344.15 249.97,344.14 250.27,344.24 250.57,344.22 250.88,344.37 251.18,344.31 251.48,344.17 251.78,344.01 252.08,343.97 252.38,343.88 252.68,343.81 252.99,343.80 253.29,343.64 253.59,343.48 253.89,343.25 254.19,343.12 254.49,342.98 254.79,343.06 255.09,343.14 255.40,343.17 255.70,343.25 256.00,343.49 256.30,343.63 256.60,343.77 256.90,343.99 257.20,344.22 257.50,344.58 257.81,344.86 258.11,345.24 258.41,345.85 258.71,346.32 259.01,346.71 259.31,347.29 259.61,347.82 259.91,348.25 260.21,349.02 260.52,349.65 260.82,350.39 261.12,350.98 261.42,351.84 261.72,352.40 262.02,353.18 262.32,353.72 262.62,354.37 262.93,355.13 263.23,355.81 263.53,356.31 263.83,356.99 264.13,357.84 264.43,358.09 264.73,358.66 265.03,359.42 265.34,359.90 265.64,360.50 265.94,361.05 266.24,361.51 266.54,361.71 266.84,361.95 267.14,361.98 267.44,362.25 267.75,362.30 268.05,362.05 268.35,361.81 268.65,361.52 268.95,360.91 269.25,360.25 269.55,359.76 269.86,359.46 270.16,358.87 270.46,358.35 270.76,357.85 271.06,357.40 271.36,357.05 271.66,356.28 271.96,355.77 272.26,355.08 272.57,354.41 272.87,353.53 273.17,352.96 273.47,352.27 273.77,351.80 274.07,350.89 274.37,350.16 274.68,349.37 274.98,348.73 275.28,347.95 275.58,347.41 275.88,346.85 276.18,346.25 276.48,345.66 276.78,345.18 277.08,344.60 277.39,343.89 277.69,343.58 277.99,343.16 278.29,342.65 278.59,342.25 278.89,342.01 279.19,341.81 279.50,341.47 279.80,341.30 280.10,341.22 280.40,341.15 280.70,340.95 281.00,341.09 281.30,341.24 281.60,341.37 281.90,341.48 282.21,341.64 282.51,341.79 282.81,341.74 283.11,341.88 283.41,341.89 283.71,342.06 284.01,342.09 284.31,342.19 284.62,342.24 284.92,342.52 285.22,342.60 285.52,342.78 285.82,343.17 286.12,343.38 286.42,343.42 286.73,343.57 287.03,343.68 287.33,343.59 287.63,343.59 287.93,343.64 288.23,343.66 288.53,343.79 288.83,343.94 289.13,344.10 289.44,344.27 289.74,344.39 290.04,344.54 290.34,344.60 290.64,344.60 290.94,344.64 291.24,344.59 291.55,344.35 291.85,344.25 292.15,343.98 292.45,343.99 292.75,343.88 293.05,343.94 293.35,343.73 293.65,343.57 293.95,343.45 294.26,343.34 294.56,343.10 294.86,343.17 295.16,343.33 295.46,343.35 295.76,343.37 296.06,343.49 296.37,343.58 296.67,343.82 296.97,343.79 297.27,344.12 297.57,344.41 297.87,344.78 298.17,345.30 298.47,345.82 298.77,346.30 299.08,346.70 299.38,347.23 299.68,347.61 299.98,348.17 300.28,348.82 300.58,349.45 300.88,349.92 301.19,350.70 301.49,351.61 301.79,352.27 302.09,352.94 302.39,353.71 302.69,354.23 302.99,354.74 303.29,355.44 303.60,356.05 303.90,356.80 304.20,357.62 304.50,358.27 304.80,358.64 305.10,359.16 305.40,359.71 305.70,360.16 306.00,360.55 306.31,361.23 306.61,361.65 306.91,361.89 307.21,362.12 307.51,362.15 307.81,362.14 308.11,362.09 308.42,361.84 308.72,361.45 309.02,361.11 309.32,360.64 309.62,360.29 309.92,359.92 310.22,359.45 310.52,359.01 310.82,358.45 311.13,357.86 311.43,357.26 311.73,356.52 312.03,355.93 312.33,355.47 312.63,354.94 312.93,354.14 313.24,353.56 313.54,352.82 313.84,352.08 314.14,351.20 314.44,350.35 314.74,349.62 315.04,348.84 315.34,348.05 315.64,347.32 315.95,346.65 316.25,346.14 316.55,345.69 316.85,345.26 317.15,344.82 317.45,344.29 317.75,343.62 318.06,343.13 318.36,342.60 318.66,342.05 318.96,341.76 319.26,341.49 319.56,341.34 319.86,341.23 320.16,341.15 320.47,341.01 320.77,341.06 321.07,341.04 321.37,341.05 321.67,341.20 321.97,341.46 322.27,341.44 322.57,341.51 322.88,341.57 323.18,341.44 323.48,341.39 323.78,341.60 324.08,341.75 324.38,341.87 324.68,342.08 324.98,342.29 325.28,342.39 325.59,342.50 325.89,342.64 326.19,342.93 326.49,343.07 326.79,343.17 327.09,343.39 327.39,343.55 327.69,343.62 328.00,343.80 328.30,344.03 328.60,343.96 328.90,343.89 329.20,343.95 329.50,343.95 329.80,344.11 330.11,344.08 330.41,344.26 330.71,344.34 331.01,344.45 331.31,344.31 331.61,344.48 331.91,344.40 332.21,344.27 332.51,344.06 332.82,343.91 333.12,343.77 333.42,343.54 333.72,343.51 334.02,343.54 334.32,343.49 334.62,343.41 334.93,343.56 335.23,343.52 335.53,343.38 335.83,343.53 336.13,343.58 336.43,343.50 336.73,343.56 337.03,343.77 337.33,343.89 337.64,344.15 337.94,344.57 338.24,344.94 338.54,345.37 338.84,346.08 339.14,346.54 339.44,347.09 339.75,347.64 340.05,348.27 340.35,348.70 340.65,349.19 340.95,349.89 341.25,350.74 341.55,351.51 341.85,352.42 342.15,353.44 342.46,354.02 342.76,354.64 343.06,355.31 343.36,355.83 343.66,356.18 343.96,356.87 344.26,357.47 344.56,357.92 344.87,358.32 345.17,358.82 345.47,359.26 345.77,359.77 346.07,360.28 346.37,360.70 346.67,361.13 346.98,361.55 347.28,361.76 347.58,361.90 347.88,362.07 348.18,362.13 348.48,362.00 348.78,361.77 349.08,361.52 349.38,360.98 349.69,360.39 349.99,359.85 350.29,359.16 350.59,358.43 350.89,358.17 351.19,357.60 351.49,357.03 351.80,356.49 352.10,355.98 352.40,355.28 352.70,354.77 353.00,353.85" fill="none" stroke="#96ad58" stroke-width="1.1" stroke-linejoin="round" stroke-linecap="round" />
</g>
<rect x="232.5" y="327.5" width="120.5" height="43.80000000000001" fill="none" stroke="#b0b0b0" stroke-width="1.1"/>
<line x1="232.5" y1="327.5" x2="232.5" y2="371.3" stroke="#c2c2c2" stroke-width="1.1" />
<line x1="232.5" y1="333.0" x2="234.1" y2="333.0" stroke="#aaa" stroke-width="0.6" />
<text x="231.2" y="336.0" font-size="8.4" fill="#222" text-anchor="end" font-weight="normal" stroke="#222" stroke-width="0.18">30</text>
<line x1="232.5" y1="341.3" x2="234.1" y2="341.3" stroke="#aaa" stroke-width="0.6" />
<text x="231.2" y="344.3" font-size="8.4" fill="#222" text-anchor="end" font-weight="normal" stroke="#222" stroke-width="0.18">15</text>
<line x1="232.5" y1="349.6" x2="234.1" y2="349.6" stroke="#aaa" stroke-width="0.6" />
<text x="231.2" y="352.6" font-size="8.4" fill="#222" text-anchor="end" font-weight="normal" stroke="#222" stroke-width="0.18">0</text>
<line x1="232.5" y1="357.9" x2="234.1" y2="357.9" stroke="#aaa" stroke-width="0.6" />
<text x="231.2" y="360.9" font-size="8.4" fill="#222" text-anchor="end" font-weight="normal" stroke="#222" stroke-width="0.18">-15</text>
<line x1="232.5" y1="366.2" x2="234.1" y2="366.2" stroke="#aaa" stroke-width="0.6" />
<text x="231.2" y="369.2" font-size="8.4" fill="#222" text-anchor="end" font-weight="normal" stroke="#222" stroke-width="0.18">-30</text>
<line x1="232.5" y1="371.3" x2="232.5" y2="369.5" stroke="#999" stroke-width="0.7" />
<line x1="232.5" y1="327.5" x2="232.5" y2="329.3" stroke="#aaa" stroke-width="0.6" />
<line x1="252.58333333333334" y1="371.3" x2="252.58333333333334" y2="369.5" stroke="#999" stroke-width="0.7" />
<line x1="252.58333333333334" y1="327.5" x2="252.58333333333334" y2="329.3" stroke="#aaa" stroke-width="0.6" />
<line x1="272.6666666666667" y1="371.3" x2="272.6666666666667" y2="369.5" stroke="#999" stroke-width="0.7" />
<line x1="272.6666666666667" y1="327.5" x2="272.6666666666667" y2="329.3" stroke="#aaa" stroke-width="0.6" />
<line x1="292.75" y1="371.3" x2="292.75" y2="369.5" stroke="#999" stroke-width="0.7" />
<line x1="292.75" y1="327.5" x2="292.75" y2="329.3" stroke="#aaa" stroke-width="0.6" />
<line x1="312.8333333333333" y1="371.3" x2="312.8333333333333" y2="369.5" stroke="#999" stroke-width="0.7" />
<line x1="312.8333333333333" y1="327.5" x2="312.8333333333333" y2="329.3" stroke="#aaa" stroke-width="0.6" />
<line x1="332.9166666666667" y1="371.3" x2="332.9166666666667" y2="369.5" stroke="#999" stroke-width="0.7" />
<line x1="332.9166666666667" y1="327.5" x2="332.9166666666667" y2="329.3" stroke="#aaa" stroke-width="0.6" />
<line x1="353.0" y1="371.3" x2="353.0" y2="369.5" stroke="#999" stroke-width="0.7" />
<line x1="353.0" y1="327.5" x2="353.0" y2="329.3" stroke="#aaa" stroke-width="0.6" />
<rect x="320.0" y="327.5" width="33.0" height="10.5" fill="#fff" stroke="#8a8a8a" stroke-width="0.9"/>
<line x1="322.0" y1="332.75" x2="336.8" y2="332.75" stroke="#96ad58" stroke-width="1.1" />
<text x="352.0" y="336.05" font-size="9.0" fill="#2a2a2a" text-anchor="end" font-weight="normal" textLength="11.3" lengthAdjust="spacingAndGlyphs" stroke="#2a2a2a" stroke-width="0.144" >60°</text>
<text x="232.5" y="380.4" font-size="8.2" fill="#222" text-anchor="middle" font-weight="normal" stroke="#222" stroke-width="0.131" >0</text>
<text x="252.58333333333334" y="380.4" font-size="8.2" fill="#222" text-anchor="middle" font-weight="normal" stroke="#222" stroke-width="0.131" >50</text>
<text x="272.6666666666667" y="380.4" font-size="8.2" fill="#222" text-anchor="middle" font-weight="normal" stroke="#222" stroke-width="0.131" >100</text>
<text x="292.75" y="380.4" font-size="8.2" fill="#222" text-anchor="middle" font-weight="normal" stroke="#222" stroke-width="0.131" >150</text>
<text x="312.8333333333333" y="380.4" font-size="8.2" fill="#222" text-anchor="middle" font-weight="normal" stroke="#222" stroke-width="0.131" >200</text>
<text x="332.9166666666667" y="380.4" font-size="8.2" fill="#222" text-anchor="middle" font-weight="normal" stroke="#222" stroke-width="0.131" >250</text>
<text x="353.0" y="380.4" font-size="8.2" fill="#222" text-anchor="middle" font-weight="normal" stroke="#222" stroke-width="0.131" >300</text>
<text x="295.5" y="390.6" font-size="8.8" fill="#2a2a2a" text-anchor="middle" font-weight="normal" textLength="31.6" lengthAdjust="spacingAndGlyphs" stroke="#2a2a2a" stroke-width="0.141" >Time (ns)</text>
<text x="0" y="0" font-size="8.8" fill="#2a2a2a" stroke="#2a2a2a" stroke-width="0.12" text-anchor="middle" textLength="27.5" lengthAdjust="spacingAndGlyphs" transform="translate(216.3,314.2) rotate(-90)">Voltage</text>
<text x="0" y="0" font-size="8.8" fill="#2a2a2a" stroke="#2a2a2a" stroke-width="0.12" text-anchor="middle" textLength="15.5" lengthAdjust="spacingAndGlyphs" transform="translate(216.3,287.6) rotate(-90)">(mV)</text>
<clipPath id="c378_238"><rect x="378.75" y="238.75" width="115.5" height="43.75"/></clipPath>
<g clip-path="url(#c378_238)">
<polyline points="378.75,268.95 379.04,268.40 379.33,268.00 379.62,267.57 379.90,267.11 380.19,266.58 380.48,266.09 380.77,265.38 381.06,264.67 381.35,263.96 381.64,263.34 381.93,262.69 382.21,262.01 382.50,261.34 382.79,260.69 383.08,260.03 383.37,259.26 383.66,258.72 383.95,258.10 384.24,257.41 384.52,256.79 384.81,256.23 385.10,255.67 385.39,255.07 385.68,254.56 385.97,254.09 386.26,253.56 386.55,253.02 386.83,252.50 387.12,252.07 387.41,251.51 387.70,251.08 387.99,250.61 388.28,250.26 388.57,249.86 388.86,249.43 389.14,249.09 389.43,248.72 389.72,248.58 390.01,248.18 390.30,247.93 390.59,247.78 390.88,247.54 391.17,247.12 391.45,246.92 391.74,246.80 392.03,246.43 392.32,246.30 392.61,246.04 392.90,246.00 393.19,245.79 393.48,245.83 393.76,245.82 394.05,245.85 394.34,245.75 394.63,245.69 394.92,245.61 395.21,245.60 395.50,245.80 395.79,245.95 396.07,246.15 396.36,246.34 396.65,246.37 396.94,246.37 397.23,246.48 397.52,246.58 397.81,246.71 398.10,246.93 398.38,247.11 398.67,247.26 398.96,247.56 399.25,247.91 399.54,248.12 399.83,248.46 400.12,248.77 400.41,249.17 400.69,249.46 400.98,249.92 401.27,250.42 401.56,250.93 401.85,251.23 402.14,251.60 402.43,251.97 402.72,252.43 403.00,252.99 403.29,253.53 403.58,254.08 403.87,254.72 404.16,255.31 404.45,255.76 404.74,256.34 405.03,256.97 405.31,257.63 405.60,258.15 405.89,258.78 406.18,259.50 406.47,260.29 406.76,260.88 407.05,261.52 407.34,262.21 407.62,262.76 407.91,263.32 408.20,263.98 408.49,264.65 408.78,265.22 409.07,265.78 409.36,266.35 409.65,266.79 409.94,267.23 410.22,267.75 410.51,268.32 410.80,268.69 411.09,269.29 411.38,269.83 411.67,270.36 411.96,270.74 412.25,271.12 412.53,271.40 412.82,271.65 413.11,271.85 413.40,272.09 413.69,272.44 413.98,272.56 414.27,272.72 414.56,272.85 414.84,272.94 415.13,272.90 415.42,272.87 415.71,272.70 416.00,272.60 416.29,272.35 416.58,272.06 416.87,271.92 417.15,271.82 417.44,271.49 417.73,271.26 418.02,270.93 418.31,270.53 418.60,270.15 418.89,269.65 419.18,269.24 419.46,268.71 419.75,268.24 420.04,267.63 420.33,267.14 420.62,266.50 420.91,265.89 421.20,265.16 421.49,264.47 421.77,263.78 422.06,263.21 422.35,262.68 422.64,262.12 422.93,261.58 423.22,260.92 423.51,260.23 423.80,259.60 424.08,258.99 424.37,258.43 424.66,257.80 424.95,257.06 425.24,256.40 425.53,255.80 425.82,255.26 426.11,254.72 426.39,254.18 426.68,253.63 426.97,252.99 427.26,252.23 427.55,251.68 427.84,251.32 428.13,250.82 428.42,250.39 428.70,250.16 428.99,249.86 429.28,249.54 429.57,249.25 429.86,248.93 430.15,248.58 430.44,248.38 430.73,247.93 431.01,247.64 431.30,247.35 431.59,247.14 431.88,246.74 432.17,246.51 432.46,246.24 432.75,246.19 433.03,245.96 433.32,245.91 433.61,245.88 433.90,245.86 434.19,245.77 434.48,245.82 434.77,245.74 435.06,245.81 435.34,245.84 435.63,245.84 435.92,245.70 436.21,245.72 436.50,245.79 436.79,245.89 437.08,245.90 437.37,246.15 437.66,246.33 437.94,246.39 438.23,246.50 438.52,246.77 438.81,247.03 439.10,247.36 439.39,247.66 439.68,247.98 439.97,248.14 440.25,248.41 440.54,248.59 440.83,248.90 441.12,249.38 441.41,249.97 441.70,250.30 441.99,250.82 442.27,251.31 442.56,251.64 442.85,252.11 443.14,252.58 443.43,253.10 443.72,253.65 444.01,254.18 444.30,254.73 444.58,255.31 444.87,255.75 445.16,256.31 445.45,256.96 445.74,257.50 446.03,258.16 446.32,258.82 446.61,259.54 446.89,260.13 447.18,260.85 447.47,261.52 447.76,262.13 448.05,262.74 448.34,263.31 448.63,263.87 448.92,264.35 449.20,265.13 449.49,265.61 449.78,266.21 450.07,266.83 450.36,267.48 450.65,267.80 450.94,268.38 451.23,268.98 451.51,269.48 451.80,269.88 452.09,270.42 452.38,270.80 452.67,271.03 452.96,271.33 453.25,271.61 453.54,271.80 453.82,272.09 454.11,272.31 454.40,272.33 454.69,272.55 454.98,272.78 455.27,272.81 455.56,272.99 455.85,273.03 456.13,272.98 456.42,272.77 456.71,272.47 457.00,272.27 457.29,272.09 457.58,271.83 457.87,271.53 458.16,271.33 458.44,270.90 458.73,270.49 459.02,269.92 459.31,269.55 459.60,269.03 459.89,268.56 460.18,268.04 460.47,267.60 460.75,267.02 461.04,266.57 461.33,265.98 461.62,265.27 461.91,264.58 462.20,264.03 462.49,263.27 462.78,262.66 463.06,262.24 463.35,261.64 463.64,260.88 463.93,260.23 464.22,259.53 464.51,258.85 464.80,258.24 465.09,257.58 465.38,256.98 465.66,256.42 465.95,255.90 466.24,255.34 466.53,254.70 466.82,254.24 467.11,253.64 467.40,252.98 467.69,252.40 467.97,252.08 468.26,251.62 468.55,251.23 468.84,250.71 469.13,250.33 469.42,249.86 469.71,249.51 470.00,249.10 470.28,248.85 470.57,248.42 470.86,248.24 471.15,247.82 471.44,247.52 471.73,247.34 472.02,247.15 472.31,246.93 472.59,246.82 472.88,246.68 473.17,246.65 473.46,246.55 473.75,246.44 474.04,246.38 474.33,246.32 474.62,246.04 474.90,246.01 475.19,245.84 475.48,245.81 475.77,245.86 476.06,245.83 476.35,245.82 476.64,245.89 476.93,245.94 477.21,245.89 477.50,246.08 477.79,246.18 478.08,246.37 478.37,246.40 478.66,246.66 478.95,246.93 479.24,247.27 479.52,247.42 479.81,247.79 480.10,248.08 480.39,248.36 480.68,248.60 480.97,249.07 481.26,249.38 481.55,249.72 481.83,250.07 482.12,250.50 482.41,250.84 482.70,251.29 482.99,251.70 483.28,252.12 483.57,252.53 483.86,253.18 484.14,253.71 484.43,254.30 484.72,254.83 485.01,255.51 485.30,256.01 485.59,256.59 485.88,257.16 486.16,257.77 486.45,258.32 486.74,258.85 487.03,259.56 487.32,260.29 487.61,260.92 487.90,261.51 488.19,262.18 488.48,262.73 488.76,263.22 489.05,264.00 489.34,264.59 489.63,265.27 489.92,265.81 490.21,266.42 490.50,267.04 490.79,267.73 491.07,268.16 491.36,268.74 491.65,269.26 491.94,269.59 492.23,269.98 492.52,270.49 492.81,270.86 493.10,271.18 493.38,271.42 493.67,271.68 493.96,271.87 494.25,272.06" fill="none" stroke="#e0b9b9" stroke-width="1.1" stroke-linejoin="round" stroke-linecap="round" />
</g>
<rect x="378.75" y="238.75" width="115.5" height="43.75" fill="none" stroke="#b0b0b0" stroke-width="1.1"/>
<line x1="378.75" y1="238.75" x2="378.75" y2="282.5" stroke="#c2c2c2" stroke-width="1.1" />
<line x1="378.75" y1="243.2" x2="380.35" y2="243.2" stroke="#aaa" stroke-width="0.6" />
<text x="377.45" y="246.2" font-size="8.4" fill="#222" text-anchor="end" font-weight="normal" stroke="#222" stroke-width="0.18">40</text>
<line x1="378.75" y1="251.89999999999998" x2="380.35" y2="251.89999999999998" stroke="#aaa" stroke-width="0.6" />
<text x="377.45" y="254.89999999999998" font-size="8.4" fill="#222" text-anchor="end" font-weight="normal" stroke="#222" stroke-width="0.18">20</text>
<line x1="378.75" y1="260.6" x2="380.35" y2="260.6" stroke="#aaa" stroke-width="0.6" />
<text x="377.45" y="263.6" font-size="8.4" fill="#222" text-anchor="end" font-weight="normal" stroke="#222" stroke-width="0.18">0</text>
<line x1="378.75" y1="269.3" x2="380.35" y2="269.3" stroke="#aaa" stroke-width="0.6" />
<text x="377.45" y="272.3" font-size="8.4" fill="#222" text-anchor="end" font-weight="normal" stroke="#222" stroke-width="0.18">-20</text>
<line x1="378.75" y1="278.0" x2="380.35" y2="278.0" stroke="#aaa" stroke-width="0.6" />
<text x="377.45" y="281.0" font-size="8.4" fill="#222" text-anchor="end" font-weight="normal" stroke="#222" stroke-width="0.18">-40</text>
<line x1="378.75" y1="282.5" x2="378.75" y2="280.7" stroke="#999" stroke-width="0.7" />
<line x1="378.75" y1="238.75" x2="378.75" y2="240.55" stroke="#aaa" stroke-width="0.6" />
<line x1="395.25" y1="282.5" x2="395.25" y2="280.7" stroke="#999" stroke-width="0.7" />
<line x1="395.25" y1="238.75" x2="395.25" y2="240.55" stroke="#aaa" stroke-width="0.6" />
<line x1="411.75" y1="282.5" x2="411.75" y2="280.7" stroke="#999" stroke-width="0.7" />
<line x1="411.75" y1="238.75" x2="411.75" y2="240.55" stroke="#aaa" stroke-width="0.6" />
<line x1="428.25" y1="282.5" x2="428.25" y2="280.7" stroke="#999" stroke-width="0.7" />
<line x1="428.25" y1="238.75" x2="428.25" y2="240.55" stroke="#aaa" stroke-width="0.6" />
<line x1="444.75" y1="282.5" x2="444.75" y2="280.7" stroke="#999" stroke-width="0.7" />
<line x1="444.75" y1="238.75" x2="444.75" y2="240.55" stroke="#aaa" stroke-width="0.6" />
<line x1="461.25" y1="282.5" x2="461.25" y2="280.7" stroke="#999" stroke-width="0.7" />
<line x1="461.25" y1="238.75" x2="461.25" y2="240.55" stroke="#aaa" stroke-width="0.6" />
<line x1="477.75" y1="282.5" x2="477.75" y2="280.7" stroke="#999" stroke-width="0.7" />
<line x1="477.75" y1="238.75" x2="477.75" y2="240.55" stroke="#aaa" stroke-width="0.6" />
<line x1="494.25" y1="282.5" x2="494.25" y2="280.7" stroke="#999" stroke-width="0.7" />
<line x1="494.25" y1="238.75" x2="494.25" y2="240.55" stroke="#aaa" stroke-width="0.6" />
<rect x="466.2" y="238.75" width="28.05000000000001" height="10.0" fill="#fff" stroke="#8a8a8a" stroke-width="0.9"/>
<line x1="468.2" y1="243.75" x2="483.0" y2="243.75" stroke="#e0b9b9" stroke-width="1.1" />
<text x="493.25" y="247.05" font-size="9.0" fill="#2a2a2a" text-anchor="end" font-weight="normal" textLength="7.4" lengthAdjust="spacingAndGlyphs" stroke="#2a2a2a" stroke-width="0.144" >0°</text>
<clipPath id="c378_282"><rect x="378.75" y="282.5" width="115.5" height="44.5"/></clipPath>
<g clip-path="url(#c378_282)">
<polyline points="378.75,311.50 379.04,310.89 379.33,310.33 379.62,309.78 379.90,309.26 380.19,308.80 380.48,308.20 380.77,307.58 381.06,306.73 381.35,306.00 381.64,305.31 381.93,304.76 382.21,303.95 382.50,303.45 382.79,302.92 383.08,302.30 383.37,301.66 383.66,300.94 383.95,300.28 384.24,299.28 384.52,298.60 384.81,297.84 385.10,297.19 385.39,296.64 385.68,296.43 385.97,296.03 386.26,295.68 386.55,295.31 386.83,294.88 387.12,294.41 387.41,294.13 387.70,293.81 387.99,293.90 388.28,293.76 388.57,293.98 388.86,293.77 389.14,293.57 389.43,293.25 389.72,293.41 390.01,293.09 390.30,293.21 390.59,293.40 390.88,293.69 391.17,293.45 391.45,293.40 391.74,293.42 392.03,293.47 392.32,293.43 392.61,293.35 392.90,293.51 393.19,293.59 393.48,293.78 393.76,293.90 394.05,294.11 394.34,294.06 394.63,294.06 394.92,293.94 395.21,293.91 395.50,294.22 395.79,294.28 396.07,294.31 396.36,294.05 396.65,294.12 396.94,293.98 397.23,293.99 397.52,293.90 397.81,293.89 398.10,293.68 398.38,293.66 398.67,293.63 398.96,293.46 399.25,293.77 399.54,293.57 399.83,293.41 400.12,293.43 400.41,293.78 400.69,293.71 400.98,294.04 401.27,294.09 401.56,294.48 401.85,294.54 402.14,294.93 402.43,295.19 402.72,295.58 403.00,295.94 403.29,296.28 403.58,296.41 403.87,296.65 404.16,297.10 404.45,297.48 404.74,298.09 405.03,298.78 405.31,299.60 405.60,300.25 405.89,300.85 406.18,301.19 406.47,301.73 406.76,302.47 407.05,303.03 407.34,303.65 407.62,304.57 407.91,305.44 408.20,306.17 408.49,307.11 408.78,307.81 409.07,308.62 409.36,309.41 409.65,309.92 409.94,310.52 410.22,311.29 410.51,311.85 410.80,312.26 411.09,313.07 411.38,313.64 411.67,314.45 411.96,315.02 412.25,315.85 412.53,316.54 412.82,317.34 413.11,318.01 413.40,318.68 413.69,319.25 413.98,319.81 414.27,320.41 414.56,320.78 414.84,321.08 415.13,321.14 415.42,320.95 415.71,320.20 416.00,319.58 416.29,318.87 416.58,318.30 416.87,317.67 417.15,317.30 417.44,316.59 417.73,316.03 418.02,315.11 418.31,314.51 418.60,313.72 418.89,313.34 419.18,312.53 419.46,311.97 419.75,311.15 420.04,310.47 420.33,309.43 420.62,308.68 420.91,308.20 421.20,307.59 421.49,307.24 421.77,306.55 422.06,305.87 422.35,304.93 422.64,304.20 422.93,303.27 423.22,302.42 423.51,301.56 423.80,300.87 424.08,299.99 424.37,299.48 424.66,299.31 424.95,299.00 425.24,298.57 425.53,298.22 425.82,297.50 426.11,296.46 426.39,296.05 426.68,295.54 426.97,295.08 427.26,294.77 427.55,294.71 427.84,294.16 428.13,294.06 428.42,293.89 428.70,293.77 428.99,293.71 429.28,293.97 429.57,293.95 429.86,294.16 430.15,294.02 430.44,294.00 430.73,293.79 431.01,293.84 431.30,293.62 431.59,293.75 431.88,293.94 432.17,294.08 432.46,293.79 432.75,293.76 433.03,293.75 433.32,293.62 433.61,293.67 433.90,293.82 434.19,293.95 434.48,293.95 434.77,294.07 435.06,294.04 435.34,294.07 435.63,294.13 435.92,293.91 436.21,293.80 436.50,293.68 436.79,293.34 437.08,293.05 437.37,293.40 437.66,293.32 437.94,293.23 438.23,293.23 438.52,293.22 438.81,292.95 439.10,293.17 439.39,293.36 439.68,293.55 439.97,293.65 440.25,293.87 440.54,293.82 440.83,293.81 441.12,293.90 441.41,294.01 441.70,294.04 441.99,294.28 442.27,294.26 442.56,294.34 442.85,294.66 443.14,294.82 443.43,294.97 443.72,295.41 444.01,295.94 444.30,296.46 444.58,297.00 444.87,297.47 445.16,298.19 445.45,298.55 445.74,298.80 446.03,299.26 446.32,299.77 446.61,300.24 446.89,301.18 447.18,302.18 447.47,303.19 447.76,304.13 448.05,304.96 448.34,305.60 448.63,306.40 448.92,306.71 449.20,307.16 449.49,307.87 449.78,308.59 450.07,309.05 450.36,310.02 450.65,311.03 450.94,311.77 451.23,312.65 451.51,313.38 451.80,314.07 452.09,314.64 452.38,315.30 452.67,315.89 452.96,316.72 453.25,317.45 453.54,318.38 453.82,318.96 454.11,319.50 454.40,319.99 454.69,320.52 454.98,320.74 455.27,320.94 455.56,320.90 455.85,320.58 456.13,320.21 456.42,319.76 456.71,319.12 457.00,318.54 457.29,318.11 457.58,317.44 457.87,316.61 458.16,315.82 458.44,315.34 458.73,314.76 459.02,313.99 459.31,313.45 459.60,312.82 459.89,311.94 460.18,311.10 460.47,310.54 460.75,309.66 461.04,308.98 461.33,308.25 461.62,307.63 461.91,306.71 462.20,306.24 462.49,305.56 462.78,304.85 463.06,303.90 463.35,303.36 463.64,302.40 463.93,301.75 464.22,300.99 464.51,300.25 464.80,299.61 465.09,299.03 465.38,298.51 465.66,297.96 465.95,297.46 466.24,296.89 466.53,296.59 466.82,296.00 467.11,295.58 467.40,295.23 467.69,294.81 467.97,294.59 468.26,294.43 468.55,294.16 468.84,294.24 469.13,294.05 469.42,293.51 469.71,293.25 470.00,293.20 470.28,293.03 470.57,293.25 470.86,293.43 471.15,293.51 471.44,293.62 471.73,293.50 472.02,293.37 472.31,293.34 472.59,293.31 472.88,293.35 473.17,293.29 473.46,293.30 473.75,293.40 474.04,293.55 474.33,293.71 474.62,293.84 474.90,293.93 475.19,294.11 475.48,294.18 475.77,294.13 476.06,294.32 476.35,294.18 476.64,294.14 476.93,293.96 477.21,293.87 477.50,293.88 477.79,293.93 478.08,293.75 478.37,293.70 478.66,293.73 478.95,293.54 479.24,293.72 479.52,293.84 479.81,293.81 480.10,293.65 480.39,293.70 480.68,293.60 480.97,293.39 481.26,293.76 481.55,294.04 481.83,294.05 482.12,294.02 482.41,294.40 482.70,294.55 482.99,294.54 483.28,294.87 483.57,295.35 483.86,295.57 484.14,295.63 484.43,296.49 484.72,296.83 485.01,297.13 485.30,297.90 485.59,298.47 485.88,298.90 486.16,299.46 486.45,300.10 486.74,300.24 487.03,301.05 487.32,301.53 487.61,302.24 487.90,303.07 488.19,304.13 488.48,304.85 488.76,305.61 489.05,306.49 489.34,307.02 489.63,307.57 489.92,308.23 490.21,308.76 490.50,309.41 490.79,310.06 491.07,310.92 491.36,311.57 491.65,312.69 491.94,313.32 492.23,314.15 492.52,314.77 492.81,315.50 493.10,316.02 493.38,316.93 493.67,317.95 493.96,318.78 494.25,319.57" fill="none" stroke="#6cc2ce" stroke-width="1.1" stroke-linejoin="round" stroke-linecap="round" />
</g>
<rect x="378.75" y="282.5" width="115.5" height="44.5" fill="none" stroke="#b0b0b0" stroke-width="1.1"/>
<line x1="378.75" y1="282.5" x2="378.75" y2="327.0" stroke="#c2c2c2" stroke-width="1.1" />
<line x1="378.75" y1="287.0" x2="380.35" y2="287.0" stroke="#aaa" stroke-width="0.6" />
<text x="377.45" y="290.0" font-size="8.4" fill="#222" text-anchor="end" font-weight="normal" stroke="#222" stroke-width="0.18">20</text>
<line x1="378.75" y1="295.875" x2="380.35" y2="295.875" stroke="#aaa" stroke-width="0.6" />
<text x="377.45" y="298.875" font-size="8.4" fill="#222" text-anchor="end" font-weight="normal" stroke="#222" stroke-width="0.18">10</text>
<line x1="378.75" y1="304.75" x2="380.35" y2="304.75" stroke="#aaa" stroke-width="0.6" />
<text x="377.45" y="307.75" font-size="8.4" fill="#222" text-anchor="end" font-weight="normal" stroke="#222" stroke-width="0.18">0</text>
<line x1="378.75" y1="313.625" x2="380.35" y2="313.625" stroke="#aaa" stroke-width="0.6" />
<text x="377.45" y="316.625" font-size="8.4" fill="#222" text-anchor="end" font-weight="normal" stroke="#222" stroke-width="0.18">-10</text>
<line x1="378.75" y1="322.5" x2="380.35" y2="322.5" stroke="#aaa" stroke-width="0.6" />
<text x="377.45" y="325.5" font-size="8.4" fill="#222" text-anchor="end" font-weight="normal" stroke="#222" stroke-width="0.18">-20</text>
<line x1="378.75" y1="327.0" x2="378.75" y2="325.2" stroke="#999" stroke-width="0.7" />
<line x1="378.75" y1="282.5" x2="378.75" y2="284.3" stroke="#aaa" stroke-width="0.6" />
<line x1="395.25" y1="327.0" x2="395.25" y2="325.2" stroke="#999" stroke-width="0.7" />
<line x1="395.25" y1="282.5" x2="395.25" y2="284.3" stroke="#aaa" stroke-width="0.6" />
<line x1="411.75" y1="327.0" x2="411.75" y2="325.2" stroke="#999" stroke-width="0.7" />
<line x1="411.75" y1="282.5" x2="411.75" y2="284.3" stroke="#aaa" stroke-width="0.6" />
<line x1="428.25" y1="327.0" x2="428.25" y2="325.2" stroke="#999" stroke-width="0.7" />
<line x1="428.25" y1="282.5" x2="428.25" y2="284.3" stroke="#aaa" stroke-width="0.6" />
<line x1="444.75" y1="327.0" x2="444.75" y2="325.2" stroke="#999" stroke-width="0.7" />
<line x1="444.75" y1="282.5" x2="444.75" y2="284.3" stroke="#aaa" stroke-width="0.6" />
<line x1="461.25" y1="327.0" x2="461.25" y2="325.2" stroke="#999" stroke-width="0.7" />
<line x1="461.25" y1="282.5" x2="461.25" y2="284.3" stroke="#aaa" stroke-width="0.6" />
<line x1="477.75" y1="327.0" x2="477.75" y2="325.2" stroke="#999" stroke-width="0.7" />
<line x1="477.75" y1="282.5" x2="477.75" y2="284.3" stroke="#aaa" stroke-width="0.6" />
<line x1="494.25" y1="327.0" x2="494.25" y2="325.2" stroke="#999" stroke-width="0.7" />
<line x1="494.25" y1="282.5" x2="494.25" y2="284.3" stroke="#aaa" stroke-width="0.6" />
<rect x="462.5" y="282.5" width="31.75" height="11.8" fill="#fff" stroke="#8a8a8a" stroke-width="0.9"/>
<line x1="464.5" y1="288.4" x2="479.3" y2="288.4" stroke="#6cc2ce" stroke-width="1.1" />
<text x="493.25" y="291.7" font-size="9.0" fill="#2a2a2a" text-anchor="end" font-weight="normal" textLength="11.3" lengthAdjust="spacingAndGlyphs" stroke="#2a2a2a" stroke-width="0.144" >30°</text>
<clipPath id="c378_327"><rect x="378.75" y="327.0" width="115.5" height="45.5"/></clipPath>
<g clip-path="url(#c378_327)">
<polyline points="378.75,359.34 379.04,358.82 379.33,358.17 379.62,357.42 379.90,356.78 380.19,356.17 380.48,355.33 380.77,354.64 381.06,354.06 381.35,353.37 381.64,352.81 381.93,352.33 382.21,351.69 382.50,351.22 382.79,350.74 383.08,350.08 383.37,349.45 383.66,349.04 383.95,348.35 384.24,347.85 384.52,347.34 384.81,346.83 385.10,346.26 385.39,345.85 385.68,345.55 385.97,345.39 386.26,345.22 386.55,344.93 386.83,344.58 387.12,344.33 387.41,343.94 387.70,343.76 387.99,343.72 388.28,343.77 388.57,343.47 388.86,343.38 389.14,343.10 389.43,343.06 389.72,342.89 390.01,342.83 390.30,342.82 390.59,342.87 390.88,342.82 391.17,343.02 391.45,343.17 391.74,343.29 392.03,343.11 392.32,343.18 392.61,343.00 392.90,343.03 393.19,343.03 393.48,343.34 393.76,343.45 394.05,343.59 394.34,343.62 394.63,343.83 394.92,343.83 395.21,343.66 395.50,343.64 395.79,343.43 396.07,343.22 396.36,343.12 396.65,342.99 396.94,343.01 397.23,342.95 397.52,342.96 397.81,343.08 398.10,343.05 398.38,343.05 398.67,343.19 398.96,343.23 399.25,343.12 399.54,343.33 399.83,343.24 400.12,343.45 400.41,343.33 400.69,343.46 400.98,343.45 401.27,343.62 401.56,343.60 401.85,343.95 402.14,344.40 402.43,344.64 402.72,344.99 403.00,345.33 403.29,345.46 403.58,345.74 403.87,346.18 404.16,346.56 404.45,347.06 404.74,347.53 405.03,347.80 405.31,348.28 405.60,348.83 405.89,349.18 406.18,349.84 406.47,350.34 406.76,350.81 407.05,351.51 407.34,352.32 407.62,352.88 407.91,353.53 408.20,354.03 408.49,354.30 408.78,354.66 409.07,355.28 409.36,355.94 409.65,356.55 409.94,357.28 410.22,357.88 410.51,358.60 410.80,359.10 411.09,359.75 411.38,360.44 411.67,360.96 411.96,361.23 412.25,361.84 412.53,362.57 412.82,363.03 413.11,363.57 413.40,364.22 413.69,365.06 413.98,365.44 414.27,365.83 414.56,366.21 414.84,366.25 415.13,365.95 415.42,365.79 415.71,365.31 416.00,365.09 416.29,364.44 416.58,363.92 416.87,363.41 417.15,362.87 417.44,362.08 417.73,361.79 418.02,361.15 418.31,360.75 418.60,360.42 418.89,359.82 419.18,359.18 419.46,358.80 419.75,357.97 420.04,357.17 420.33,356.68 420.62,356.23 420.91,355.54 421.20,354.96 421.49,354.41 421.77,353.68 422.06,352.97 422.35,352.36 422.64,351.78 422.93,351.12 423.22,350.79 423.51,350.04 423.80,349.70 424.08,349.06 424.37,348.71 424.66,348.07 424.95,347.65 425.24,347.05 425.53,346.67 425.82,346.14 426.11,345.73 426.39,345.52 426.68,345.17 426.97,345.05 427.26,344.54 427.55,344.37 427.84,344.06 428.13,343.91 428.42,343.47 428.70,343.64 428.99,343.37 429.28,343.16 429.57,342.93 429.86,342.89 430.15,342.90 430.44,343.04 430.73,343.16 431.01,343.27 431.30,343.33 431.59,343.23 431.88,343.07 432.17,343.40 432.46,343.40 432.75,343.58 433.03,343.70 433.32,343.90 433.61,343.62 433.90,343.64 434.19,343.67 434.48,343.64 434.77,343.70 435.06,343.94 435.34,343.96 435.63,344.02 435.92,344.12 436.21,344.06 436.50,343.76 436.79,343.62 437.08,343.45 437.37,343.24 437.66,343.25 437.94,343.13 438.23,343.00 438.52,342.68 438.81,342.52 439.10,342.51 439.39,342.62 439.68,342.81 439.97,343.00 440.25,342.98 440.54,342.90 440.83,343.16 441.12,343.29 441.41,343.57 441.70,343.84 441.99,344.06 442.27,343.97 442.56,343.89 442.85,344.08 443.14,344.48 443.43,344.56 443.72,344.86 444.01,345.46 444.30,345.95 444.58,346.42 444.87,347.31 445.16,347.80 445.45,348.16 445.74,348.34 446.03,348.71 446.32,349.07 446.61,349.71 446.89,350.10 447.18,350.97 447.47,351.55 447.76,352.10 448.05,352.58 448.34,353.45 448.63,353.75 448.92,354.23 449.20,354.82 449.49,355.51 449.78,356.09 450.07,356.85 450.36,357.56 450.65,358.18 450.94,358.71 451.23,359.14 451.51,359.47 451.80,360.03 452.09,360.44 452.38,360.90 452.67,361.51 452.96,362.27 453.25,362.81 453.54,363.51 453.82,364.16 454.11,364.63 454.40,364.91 454.69,365.18 454.98,365.30 455.27,365.28 455.56,365.37 455.85,365.53 456.13,365.27 456.42,364.95 456.71,364.61 457.00,364.18 457.29,363.34 457.58,363.03 457.87,362.28 458.16,361.56 458.44,360.72 458.73,360.45 459.02,359.76 459.31,359.45 459.60,358.93 459.89,358.61 460.18,358.01 460.47,357.30 460.75,356.72 461.04,356.18 461.33,355.50 461.62,354.90 461.91,354.48 462.20,353.83 462.49,353.26 462.78,352.82 463.06,352.15 463.35,351.51 463.64,350.77 463.93,350.25 464.22,349.45 464.51,348.96 464.80,348.44 465.09,348.14 465.38,347.53 465.66,347.09 465.95,346.37 466.24,345.96 466.53,345.39 466.82,344.95 467.11,344.62 467.40,344.57 467.69,344.14 467.97,344.03 468.26,343.86 468.55,343.76 468.84,343.47 469.13,343.31 469.42,343.08 469.71,343.04 470.00,342.83 470.28,342.69 470.57,342.85 470.86,342.77 471.15,342.86 471.44,342.89 471.73,342.97 472.02,342.72 472.31,342.86 472.59,342.82 472.88,343.02 473.17,343.29 473.46,343.45 473.75,343.60 474.04,343.72 474.33,343.68 474.62,343.71 474.90,343.90 475.19,343.96 475.48,343.75 475.77,343.64 476.06,343.54 476.35,343.59 476.64,343.43 476.93,343.49 477.21,343.49 477.50,343.31 477.79,343.07 478.08,342.90 478.37,342.74 478.66,342.68 478.95,342.73 479.24,342.73 479.52,342.76 479.81,342.97 480.10,343.04 480.39,343.12 480.68,343.26 480.97,343.34 481.26,343.32 481.55,343.40 481.83,343.35 482.12,343.49 482.41,343.70 482.70,343.84 482.99,343.98 483.28,344.41 483.57,344.45 483.86,344.70 484.14,344.90 484.43,345.21 484.72,345.41 485.01,345.67 485.30,346.13 485.59,346.78 485.88,347.37 486.16,348.01 486.45,348.73 486.74,349.46 487.03,349.98 487.32,350.49 487.61,350.89 487.90,351.53 488.19,351.82 488.48,352.50 488.76,353.18 489.05,354.01 489.34,354.59 489.63,355.38 489.92,355.76 490.21,356.29 490.50,356.82 490.79,357.30 491.07,357.78 491.36,358.54 491.65,359.17 491.94,359.66 492.23,360.30 492.52,361.02 492.81,361.48 493.10,361.90 493.38,362.36 493.67,362.95 493.96,363.31 494.25,363.74" fill="none" stroke="#96ad58" stroke-width="1.1" stroke-linejoin="round" stroke-linecap="round" />
</g>
<rect x="378.75" y="327.0" width="115.5" height="45.5" fill="none" stroke="#b0b0b0" stroke-width="1.1"/>
<line x1="378.75" y1="327.0" x2="378.75" y2="372.5" stroke="#c2c2c2" stroke-width="1.1" />
<line x1="378.75" y1="335.0" x2="380.35" y2="335.0" stroke="#aaa" stroke-width="0.6" />
<text x="377.45" y="338.0" font-size="8.4" fill="#222" text-anchor="end" font-weight="normal" stroke="#222" stroke-width="0.18">20</text>
<line x1="378.75" y1="343.0" x2="380.35" y2="343.0" stroke="#aaa" stroke-width="0.6" />
<text x="377.45" y="346.0" font-size="8.4" fill="#222" text-anchor="end" font-weight="normal" stroke="#222" stroke-width="0.18">10</text>
<line x1="378.75" y1="351.0" x2="380.35" y2="351.0" stroke="#aaa" stroke-width="0.6" />
<text x="377.45" y="354.0" font-size="8.4" fill="#222" text-anchor="end" font-weight="normal" stroke="#222" stroke-width="0.18">0</text>
<line x1="378.75" y1="359.0" x2="380.35" y2="359.0" stroke="#aaa" stroke-width="0.6" />
<text x="377.45" y="362.0" font-size="8.4" fill="#222" text-anchor="end" font-weight="normal" stroke="#222" stroke-width="0.18">-10</text>
<line x1="378.75" y1="367.0" x2="380.35" y2="367.0" stroke="#aaa" stroke-width="0.6" />
<text x="377.45" y="370.0" font-size="8.4" fill="#222" text-anchor="end" font-weight="normal" stroke="#222" stroke-width="0.18">-20</text>
<line x1="378.75" y1="372.5" x2="378.75" y2="370.7" stroke="#999" stroke-width="0.7" />
<line x1="378.75" y1="327.0" x2="378.75" y2="328.8" stroke="#aaa" stroke-width="0.6" />
<line x1="395.25" y1="372.5" x2="395.25" y2="370.7" stroke="#999" stroke-width="0.7" />
<line x1="395.25" y1="327.0" x2="395.25" y2="328.8" stroke="#aaa" stroke-width="0.6" />
<line x1="411.75" y1="372.5" x2="411.75" y2="370.7" stroke="#999" stroke-width="0.7" />
<line x1="411.75" y1="327.0" x2="411.75" y2="328.8" stroke="#aaa" stroke-width="0.6" />
<line x1="428.25" y1="372.5" x2="428.25" y2="370.7" stroke="#999" stroke-width="0.7" />
<line x1="428.25" y1="327.0" x2="428.25" y2="328.8" stroke="#aaa" stroke-width="0.6" />
<line x1="444.75" y1="372.5" x2="444.75" y2="370.7" stroke="#999" stroke-width="0.7" />
<line x1="444.75" y1="327.0" x2="444.75" y2="328.8" stroke="#aaa" stroke-width="0.6" />
<line x1="461.25" y1="372.5" x2="461.25" y2="370.7" stroke="#999" stroke-width="0.7" />
<line x1="461.25" y1="327.0" x2="461.25" y2="328.8" stroke="#aaa" stroke-width="0.6" />
<line x1="477.75" y1="372.5" x2="477.75" y2="370.7" stroke="#999" stroke-width="0.7" />
<line x1="477.75" y1="327.0" x2="477.75" y2="328.8" stroke="#aaa" stroke-width="0.6" />
<line x1="494.25" y1="372.5" x2="494.25" y2="370.7" stroke="#999" stroke-width="0.7" />
<line x1="494.25" y1="327.0" x2="494.25" y2="328.8" stroke="#aaa" stroke-width="0.6" />
<rect x="462.5" y="327.0" width="31.75" height="11.8" fill="#fff" stroke="#8a8a8a" stroke-width="0.9"/>
<line x1="464.5" y1="332.9" x2="479.3" y2="332.9" stroke="#96ad58" stroke-width="1.1" />
<text x="493.25" y="336.2" font-size="9.0" fill="#2a2a2a" text-anchor="end" font-weight="normal" textLength="11.3" lengthAdjust="spacingAndGlyphs" stroke="#2a2a2a" stroke-width="0.144" >60°</text>
<text x="378.75" y="381.8" font-size="8.2" fill="#222" text-anchor="middle" font-weight="normal" stroke="#222" stroke-width="0.131" >0</text>
<text x="395.25" y="381.8" font-size="8.2" fill="#222" text-anchor="middle" font-weight="normal" stroke="#222" stroke-width="0.131" >10</text>
<text x="411.75" y="381.8" font-size="8.2" fill="#222" text-anchor="middle" font-weight="normal" stroke="#222" stroke-width="0.131" >20</text>
<text x="428.25" y="381.8" font-size="8.2" fill="#222" text-anchor="middle" font-weight="normal" stroke="#222" stroke-width="0.131" >30</text>
<text x="444.75" y="381.8" font-size="8.2" fill="#222" text-anchor="middle" font-weight="normal" stroke="#222" stroke-width="0.131" >40</text>
<text x="461.25" y="381.8" font-size="8.2" fill="#222" text-anchor="middle" font-weight="normal" stroke="#222" stroke-width="0.131" >50</text>
<text x="477.75" y="381.8" font-size="8.2" fill="#222" text-anchor="middle" font-weight="normal" stroke="#222" stroke-width="0.131" >60</text>
<text x="494.25" y="381.8" font-size="8.2" fill="#222" text-anchor="middle" font-weight="normal" stroke="#222" stroke-width="0.131" >70</text>
<text x="439.8" y="391.2" font-size="8.8" fill="#2a2a2a" text-anchor="middle" font-weight="normal" textLength="30.5" lengthAdjust="spacingAndGlyphs" stroke="#2a2a2a" stroke-width="0.141" >Time (ns)</text>
<text x="0" y="0" font-size="8.8" fill="#2a2a2a" stroke="#2a2a2a" stroke-width="0.12" text-anchor="middle" textLength="27.5" lengthAdjust="spacingAndGlyphs" transform="translate(364.2,314.2) rotate(-90)">Voltage</text>
<text x="0" y="0" font-size="8.8" fill="#2a2a2a" stroke="#2a2a2a" stroke-width="0.12" text-anchor="middle" textLength="15.5" lengthAdjust="spacingAndGlyphs" transform="translate(364.2,287.6) rotate(-90)">(mV)</text>
<clipPath id="c518_238"><rect x="518.75" y="238.75" width="115.0" height="45.0"/></clipPath>
<g clip-path="url(#c518_238)">
<polyline points="518.75,267.43 519.04,266.92 519.33,266.45 519.61,265.91 519.90,265.40 520.19,264.89 520.48,264.40 520.76,263.91 521.05,263.41 521.34,262.85 521.62,262.39 521.91,261.87 522.20,261.28 522.49,260.80 522.77,260.35 523.06,259.76 523.35,259.25 523.64,258.78 523.92,258.34 524.21,257.82 524.50,257.52 524.79,257.16 525.08,256.77 525.36,256.30 525.65,256.02 525.94,255.63 526.23,255.26 526.51,255.03 526.80,254.75 527.09,254.41 527.38,254.13 527.66,253.86 527.95,253.53 528.24,253.32 528.52,253.11 528.81,252.86 529.10,252.72 529.39,252.59 529.67,252.49 529.96,252.35 530.25,252.32 530.54,252.20 530.83,252.14 531.11,252.07 531.40,252.01 531.69,251.98 531.98,251.95 532.26,251.95 532.55,251.94 532.84,252.06 533.12,252.10 533.41,252.21 533.70,252.37 533.99,252.53 534.27,252.67 534.56,252.86 534.85,253.02 535.14,253.21 535.42,253.49 535.71,253.78 536.00,254.04 536.29,254.37 536.58,254.62 536.86,254.84 537.15,255.03 537.44,255.33 537.73,255.63 538.01,256.02 538.30,256.40 538.59,256.80 538.88,257.17 539.16,257.68 539.45,258.05 539.74,258.46 540.02,258.94 540.31,259.51 540.60,259.93 540.89,260.43 541.17,260.96 541.46,261.52 541.75,262.01 542.04,262.48 542.33,263.06 542.61,263.55 542.90,264.04 543.19,264.52 543.48,265.11 543.76,265.60 544.05,266.14 544.34,266.69 544.62,267.12 544.91,267.61 545.20,268.11 545.49,268.59 545.77,268.97 546.06,269.44 546.35,269.82 546.64,270.18 546.92,270.57 547.21,270.96 547.50,271.41 547.79,271.67 548.08,271.93 548.36,272.18 548.65,272.41 548.94,272.51 549.23,272.72 549.51,272.88 549.80,272.96 550.09,273.09 550.38,273.14 550.66,273.21 550.95,273.21 551.24,273.16 551.52,273.07 551.81,272.99 552.10,272.84 552.39,272.65 552.67,272.55 552.96,272.36 553.25,272.09 553.54,271.82 553.83,271.57 554.11,271.19 554.40,270.82 554.69,270.49 554.98,270.09 555.26,269.66 555.55,269.30 555.84,268.79 556.12,268.25 556.41,267.81 556.70,267.28 556.99,266.85 557.27,266.34 557.56,265.92 557.85,265.39 558.14,264.95 558.42,264.38 558.71,263.96 559.00,263.44 559.29,262.88 559.58,262.31 559.86,261.79 560.15,261.26 560.44,260.77 560.73,260.36 561.01,259.85 561.30,259.34 561.59,258.85 561.88,258.39 562.16,257.95 562.45,257.53 562.74,257.12 563.02,256.75 563.31,256.31 563.60,255.95 563.89,255.61 564.17,255.34 564.46,254.99 564.75,254.70 565.04,254.36 565.33,254.07 565.61,253.81 565.90,253.50 566.19,253.25 566.48,253.06 566.76,252.90 567.05,252.72 567.34,252.63 567.62,252.59 567.91,252.47 568.20,252.38 568.49,252.22 568.77,252.12 569.06,251.99 569.35,251.98 569.64,251.98 569.92,252.04 570.21,252.09 570.50,252.22 570.79,252.23 571.08,252.35 571.36,252.45 571.65,252.56 571.94,252.63 572.23,252.74 572.51,252.85 572.80,252.95 573.09,253.11 573.38,253.32 573.66,253.59 573.95,253.78 574.24,254.11 574.52,254.43 574.81,254.73 575.10,255.05 575.39,255.44 575.67,255.77 575.96,256.10 576.25,256.40 576.54,256.79 576.83,257.18 577.11,257.57 577.40,258.05 577.69,258.58 577.98,259.00 578.26,259.51 578.55,259.99 578.84,260.50 579.12,260.89 579.41,261.47 579.70,261.92 579.99,262.41 580.27,262.93 580.56,263.46 580.85,263.97 581.14,264.58 581.42,265.13 581.71,265.58 582.00,266.15 582.29,266.71 582.58,267.15 582.86,267.67 583.15,268.18 583.44,268.64 583.73,269.06 584.01,269.51 584.30,269.85 584.59,270.18 584.88,270.56 585.16,270.88 585.45,271.17 585.74,271.51 586.02,271.82 586.31,272.10 586.60,272.31 586.89,272.52 587.17,272.68 587.46,272.81 587.75,272.87 588.04,272.91 588.33,272.99 588.61,273.01 588.90,273.06 589.19,273.03 589.48,272.98 589.76,272.90 590.05,272.85 590.34,272.74 590.62,272.56 590.91,272.39 591.20,272.13 591.49,271.82 591.77,271.54 592.06,271.23 592.35,270.89 592.64,270.52 592.92,270.13 593.21,269.59 593.50,269.19 593.79,268.79 594.08,268.35 594.36,267.91 594.65,267.47 594.94,267.00 595.23,266.43 595.51,265.94 595.80,265.41 596.09,264.90 596.38,264.33 596.66,263.77 596.95,263.23 597.24,262.74 597.52,262.22 597.81,261.70 598.10,261.31 598.39,260.79 598.67,260.32 598.96,259.83 599.25,259.34 599.54,258.82 599.83,258.38 600.11,257.91 600.40,257.61 600.69,257.21 600.98,256.79 601.26,256.40 601.55,256.05 601.84,255.61 602.12,255.31 602.41,254.96 602.70,254.66 602.99,254.31 603.27,254.10 603.56,253.86 603.85,253.65 604.14,253.43 604.42,253.33 604.71,253.07 605.00,252.84 605.29,252.75 605.58,252.64 605.86,252.51 606.15,252.40 606.44,252.34 606.73,252.21 607.01,252.20 607.30,252.08 607.59,252.06 607.88,252.11 608.16,252.09 608.45,252.06 608.74,252.21 609.02,252.28 609.31,252.38 609.60,252.58 609.89,252.71 610.17,252.78 610.46,252.90 610.75,253.10 611.04,253.16 611.33,253.39 611.61,253.65 611.90,253.90 612.19,254.09 612.48,254.48 612.76,254.72 613.05,254.96 613.34,255.29 613.62,255.70 613.91,256.04 614.20,256.46 614.49,256.93 614.77,257.34 615.06,257.71 615.35,258.16 615.64,258.55 615.92,259.00 616.21,259.52 616.50,259.98 616.79,260.47 617.08,260.96 617.36,261.47 617.65,261.92 617.94,262.45 618.23,263.05 618.51,263.66 618.80,264.20 619.09,264.69 619.38,265.28 619.66,265.67 619.95,266.09 620.24,266.54 620.52,267.06 620.81,267.49 621.10,268.00 621.39,268.49 621.67,268.94 621.96,269.37 622.25,269.77 622.54,270.19 622.83,270.59 623.11,270.95 623.40,271.36 623.69,271.71 623.98,271.98 624.26,272.24 624.55,272.49 624.84,272.73 625.12,272.87 625.41,273.01 625.70,273.08 625.99,273.23 626.27,273.20 626.56,273.20 626.85,273.17 627.14,273.12 627.42,272.95 627.71,272.87 628.00,272.74 628.29,272.62 628.58,272.50 628.86,272.27 629.15,272.02 629.44,271.80 629.73,271.52 630.01,271.20 630.30,270.88 630.59,270.48 630.88,270.02 631.16,269.59 631.45,269.17 631.74,268.73 632.02,268.31 632.31,267.91 632.60,267.45 632.89,266.94 633.17,266.44 633.46,265.91 633.75,265.36" fill="none" stroke="#d39698" stroke-width="1.1" stroke-linejoin="round" stroke-linecap="round" />
</g>
<rect x="518.75" y="238.75" width="115.0" height="45.0" fill="none" stroke="#b0b0b0" stroke-width="1.1"/>
<line x1="518.75" y1="238.75" x2="518.75" y2="283.75" stroke="#c2c2c2" stroke-width="1.1" />
<line x1="518.75" y1="243.0" x2="520.35" y2="243.0" stroke="#aaa" stroke-width="0.6" />
<text x="517.45" y="246.0" font-size="8.4" fill="#222" text-anchor="end" font-weight="normal" stroke="#222" stroke-width="0.18">50</text>
<line x1="518.75" y1="252.25" x2="520.35" y2="252.25" stroke="#aaa" stroke-width="0.6" />
<text x="517.45" y="255.25" font-size="8.4" fill="#222" text-anchor="end" font-weight="normal" stroke="#222" stroke-width="0.18">25</text>
<line x1="518.75" y1="261.5" x2="520.35" y2="261.5" stroke="#aaa" stroke-width="0.6" />
<text x="517.45" y="264.5" font-size="8.4" fill="#222" text-anchor="end" font-weight="normal" stroke="#222" stroke-width="0.18">0</text>
<line x1="518.75" y1="270.75" x2="520.35" y2="270.75" stroke="#aaa" stroke-width="0.6" />
<text x="517.45" y="273.75" font-size="8.4" fill="#222" text-anchor="end" font-weight="normal" stroke="#222" stroke-width="0.18">-25</text>
<line x1="518.75" y1="280.0" x2="520.35" y2="280.0" stroke="#aaa" stroke-width="0.6" />
<text x="517.45" y="283.0" font-size="8.4" fill="#222" text-anchor="end" font-weight="normal" stroke="#222" stroke-width="0.18">-50</text>
<line x1="518.75" y1="283.75" x2="518.75" y2="281.95" stroke="#999" stroke-width="0.7" />
<line x1="518.75" y1="238.75" x2="518.75" y2="240.55" stroke="#aaa" stroke-width="0.6" />
<line x1="537.9166666666666" y1="283.75" x2="537.9166666666666" y2="281.95" stroke="#999" stroke-width="0.7" />
<line x1="537.9166666666666" y1="238.75" x2="537.9166666666666" y2="240.55" stroke="#aaa" stroke-width="0.6" />
<line x1="557.0833333333334" y1="283.75" x2="557.0833333333334" y2="281.95" stroke="#999" stroke-width="0.7" />
<line x1="557.0833333333334" y1="238.75" x2="557.0833333333334" y2="240.55" stroke="#aaa" stroke-width="0.6" />
<line x1="576.25" y1="283.75" x2="576.25" y2="281.95" stroke="#999" stroke-width="0.7" />
<line x1="576.25" y1="238.75" x2="576.25" y2="240.55" stroke="#aaa" stroke-width="0.6" />
<line x1="595.4166666666666" y1="283.75" x2="595.4166666666666" y2="281.95" stroke="#999" stroke-width="0.7" />
<line x1="595.4166666666666" y1="238.75" x2="595.4166666666666" y2="240.55" stroke="#aaa" stroke-width="0.6" />
<line x1="614.5833333333334" y1="283.75" x2="614.5833333333334" y2="281.95" stroke="#999" stroke-width="0.7" />
<line x1="614.5833333333334" y1="238.75" x2="614.5833333333334" y2="240.55" stroke="#aaa" stroke-width="0.6" />
<line x1="633.75" y1="283.75" x2="633.75" y2="281.95" stroke="#999" stroke-width="0.7" />
<line x1="633.75" y1="238.75" x2="633.75" y2="240.55" stroke="#aaa" stroke-width="0.6" />
<rect x="606.2" y="238.75" width="27.549999999999955" height="11.5" fill="#fff" stroke="#8a8a8a" stroke-width="0.9"/>
<line x1="608.2" y1="244.5" x2="623.0" y2="244.5" stroke="#d39698" stroke-width="1.1" />
<text x="632.75" y="247.8" font-size="9.0" fill="#2a2a2a" text-anchor="end" font-weight="normal" textLength="7.4" lengthAdjust="spacingAndGlyphs" stroke="#2a2a2a" stroke-width="0.144" >0°</text>
<clipPath id="c518_283"><rect x="518.75" y="283.75" width="115.0" height="45.75"/></clipPath>
<g clip-path="url(#c518_283)">
<polyline points="518.75,317.19 519.04,316.56 519.33,315.89 519.61,315.16 519.90,314.43 520.19,313.68 520.48,312.88 520.76,312.09 521.05,311.35 521.34,310.61 521.62,309.91 521.91,309.24 522.20,308.54 522.49,307.86 522.77,307.21 523.06,306.52 523.35,305.84 523.64,305.20 523.92,304.57 524.21,303.98 524.50,303.46 524.79,302.90 525.08,302.42 525.36,301.90 525.65,301.54 525.94,301.08 526.23,300.68 526.51,300.37 526.80,300.05 527.09,299.64 527.38,299.32 527.66,299.11 527.95,298.78 528.24,298.54 528.52,298.38 528.81,298.18 529.10,297.97 529.39,297.84 529.67,297.74 529.96,297.58 530.25,297.50 530.54,297.38 530.83,297.30 531.11,297.25 531.40,297.22 531.69,297.15 531.98,297.17 532.26,297.15 532.55,297.10 532.84,297.09 533.12,297.19 533.41,297.18 533.70,297.20 533.99,297.23 534.27,297.27 534.56,297.18 534.85,297.23 535.14,297.31 535.42,297.39 535.71,297.43 536.00,297.59 536.29,297.71 536.58,297.73 536.86,297.78 537.15,297.90 537.44,297.97 537.73,298.10 538.01,298.42 538.30,298.64 538.59,298.88 538.88,299.17 539.16,299.55 539.45,299.77 539.74,300.10 540.02,300.53 540.31,300.94 540.60,301.27 540.89,301.76 541.17,302.25 541.46,302.74 541.75,303.25 542.04,303.83 542.33,304.47 542.61,305.15 542.90,305.67 543.19,306.34 543.48,306.97 543.76,307.57 544.05,308.18 544.34,308.99 544.62,309.75 544.91,310.54 545.20,311.39 545.49,312.20 545.77,312.93 546.06,313.73 546.35,314.46 546.64,315.10 546.92,315.76 547.21,316.52 547.50,317.15 547.79,317.88 548.08,318.57 548.36,319.20 548.65,319.67 548.94,320.23 549.23,320.61 549.51,321.03 549.80,321.48 550.09,321.85 550.38,322.23 550.66,322.56 550.95,322.80 551.24,322.89 551.52,323.03 551.81,322.95 552.10,322.96 552.39,322.91 552.67,322.86 552.96,322.77 553.25,322.66 553.54,322.44 553.83,322.20 554.11,321.96 554.40,321.54 554.69,321.15 554.98,320.75 555.26,320.23 555.55,319.65 555.84,319.14 556.12,318.46 556.41,317.76 556.70,317.12 556.99,316.47 557.27,315.77 557.56,315.14 557.85,314.40 558.14,313.54 558.42,312.76 558.71,312.04 559.00,311.21 559.29,310.45 559.58,309.79 559.86,309.04 560.15,308.27 560.44,307.60 560.73,306.89 561.01,306.21 561.30,305.54 561.59,304.95 561.88,304.37 562.16,303.86 562.45,303.30 562.74,302.79 563.02,302.28 563.31,301.78 563.60,301.21 563.89,300.78 564.17,300.45 564.46,300.07 564.75,299.73 565.04,299.50 565.33,299.24 565.61,298.90 565.90,298.64 566.19,298.48 566.48,298.26 566.76,298.10 567.05,297.98 567.34,297.87 567.62,297.76 567.91,297.71 568.20,297.63 568.49,297.59 568.77,297.59 569.06,297.45 569.35,297.40 569.64,297.37 569.92,297.28 570.21,297.25 570.50,297.22 570.79,297.20 571.08,297.15 571.36,297.19 571.65,297.10 571.94,297.16 572.23,297.16 572.51,297.28 572.80,297.35 573.09,297.41 573.38,297.43 573.66,297.51 573.95,297.51 574.24,297.55 574.52,297.64 574.81,297.78 575.10,297.95 575.39,298.12 575.67,298.31 575.96,298.54 576.25,298.82 576.54,299.03 576.83,299.35 577.11,299.67 577.40,299.88 577.69,300.14 577.98,300.48 578.26,300.81 578.55,301.23 578.84,301.87 579.12,302.47 579.41,302.97 579.70,303.48 579.99,304.00 580.27,304.53 580.56,305.08 580.85,305.75 581.14,306.50 581.42,307.18 581.71,307.85 582.00,308.58 582.29,309.29 582.58,310.01 582.86,310.73 583.15,311.41 583.44,312.14 583.73,312.78 584.01,313.55 584.30,314.28 584.59,315.10 584.88,315.81 585.16,316.59 585.45,317.19 585.74,317.82 586.02,318.43 586.31,319.07 586.60,319.65 586.89,320.20 587.17,320.76 587.46,321.17 587.75,321.49 588.04,321.91 588.33,322.23 588.61,322.45 588.90,322.78 589.19,323.02 589.48,323.10 589.76,323.24 590.05,323.26 590.34,323.16 590.62,323.11 590.91,322.95 591.20,322.70 591.49,322.49 591.77,322.19 592.06,321.83 592.35,321.51 592.64,321.13 592.92,320.69 593.21,320.31 593.50,319.71 593.79,319.11 594.08,318.53 594.36,317.97 594.65,317.21 594.94,316.60 595.23,315.91 595.51,315.17 595.80,314.41 596.09,313.71 596.38,312.97 596.66,312.22 596.95,311.44 597.24,310.67 597.52,309.90 597.81,309.15 598.10,308.36 598.39,307.66 598.67,306.96 598.96,306.29 599.25,305.68 599.54,305.11 599.83,304.50 600.11,303.91 600.40,303.36 600.69,302.85 600.98,302.38 601.26,301.91 601.55,301.44 601.84,300.99 602.12,300.59 602.41,300.18 602.70,299.84 602.99,299.59 603.27,299.30 603.56,299.00 603.85,298.78 604.14,298.61 604.42,298.35 604.71,298.17 605.00,298.04 605.29,297.91 605.58,297.71 605.86,297.61 606.15,297.54 606.44,297.37 606.73,297.27 607.01,297.28 607.30,297.22 607.59,297.17 607.88,297.18 608.16,297.15 608.45,297.13 608.74,297.20 609.02,297.20 609.31,297.16 609.60,297.21 609.89,297.14 610.17,297.12 610.46,297.18 610.75,297.26 611.04,297.26 611.33,297.39 611.61,297.54 611.90,297.57 612.19,297.72 612.48,297.83 612.76,297.99 613.05,298.06 613.34,298.26 613.62,298.45 613.91,298.67 614.20,298.82 614.49,299.07 614.77,299.35 615.06,299.58 615.35,299.95 615.64,300.28 615.92,300.61 616.21,300.91 616.50,301.31 616.79,301.68 617.08,302.17 617.36,302.69 617.65,303.33 617.94,303.87 618.23,304.45 618.51,305.08 618.80,305.75 619.09,306.30 619.38,307.01 619.66,307.76 619.95,308.43 620.24,309.05 620.52,309.83 620.81,310.57 621.10,311.29 621.39,312.08 621.67,312.86 621.96,313.50 622.25,314.24 622.54,314.96 622.83,315.63 623.11,316.37 623.40,317.13 623.69,317.77 623.98,318.43 624.26,319.10 624.55,319.66 624.84,320.19 625.12,320.71 625.41,321.10 625.70,321.53 625.99,321.88 626.27,322.26 626.56,322.55 626.85,322.81 627.14,322.98 627.42,323.13 627.71,323.23 628.00,323.25 628.29,323.27 628.58,323.17 628.86,323.02 629.15,322.83 629.44,322.56 629.73,322.27 630.01,321.90 630.30,321.52 630.59,321.12 630.88,320.70 631.16,320.21 631.45,319.71 631.74,319.16 632.02,318.46 632.31,317.84 632.60,317.10 632.89,316.39 633.17,315.72 633.46,315.07 633.75,314.31" fill="none" stroke="#6cc2ce" stroke-width="1.1" stroke-linejoin="round" stroke-linecap="round" />
</g>
<rect x="518.75" y="283.75" width="115.0" height="45.75" fill="none" stroke="#b0b0b0" stroke-width="1.1"/>
<line x1="518.75" y1="283.75" x2="518.75" y2="329.5" stroke="#c2c2c2" stroke-width="1.1" />
<line x1="518.75" y1="288.8" x2="520.35" y2="288.8" stroke="#aaa" stroke-width="0.6" />
<text x="517.45" y="291.8" font-size="8.4" fill="#222" text-anchor="end" font-weight="normal" stroke="#222" stroke-width="0.18">50</text>
<line x1="518.75" y1="297.85" x2="520.35" y2="297.85" stroke="#aaa" stroke-width="0.6" />
<text x="517.45" y="300.85" font-size="8.4" fill="#222" text-anchor="end" font-weight="normal" stroke="#222" stroke-width="0.18">25</text>
<line x1="518.75" y1="306.9" x2="520.35" y2="306.9" stroke="#aaa" stroke-width="0.6" />
<text x="517.45" y="309.9" font-size="8.4" fill="#222" text-anchor="end" font-weight="normal" stroke="#222" stroke-width="0.18">0</text>
<line x1="518.75" y1="315.95" x2="520.35" y2="315.95" stroke="#aaa" stroke-width="0.6" />
<text x="517.45" y="318.95" font-size="8.4" fill="#222" text-anchor="end" font-weight="normal" stroke="#222" stroke-width="0.18">-25</text>
<line x1="518.75" y1="325.0" x2="520.35" y2="325.0" stroke="#aaa" stroke-width="0.6" />
<text x="517.45" y="328.0" font-size="8.4" fill="#222" text-anchor="end" font-weight="normal" stroke="#222" stroke-width="0.18">-50</text>
<line x1="518.75" y1="329.5" x2="518.75" y2="327.7" stroke="#999" stroke-width="0.7" />
<line x1="518.75" y1="283.75" x2="518.75" y2="285.55" stroke="#aaa" stroke-width="0.6" />
<line x1="537.9166666666666" y1="329.5" x2="537.9166666666666" y2="327.7" stroke="#999" stroke-width="0.7" />
<line x1="537.9166666666666" y1="283.75" x2="537.9166666666666" y2="285.55" stroke="#aaa" stroke-width="0.6" />
<line x1="557.0833333333334" y1="329.5" x2="557.0833333333334" y2="327.7" stroke="#999" stroke-width="0.7" />
<line x1="557.0833333333334" y1="283.75" x2="557.0833333333334" y2="285.55" stroke="#aaa" stroke-width="0.6" />
<line x1="576.25" y1="329.5" x2="576.25" y2="327.7" stroke="#999" stroke-width="0.7" />
<line x1="576.25" y1="283.75" x2="576.25" y2="285.55" stroke="#aaa" stroke-width="0.6" />
<line x1="595.4166666666666" y1="329.5" x2="595.4166666666666" y2="327.7" stroke="#999" stroke-width="0.7" />
<line x1="595.4166666666666" y1="283.75" x2="595.4166666666666" y2="285.55" stroke="#aaa" stroke-width="0.6" />
<line x1="614.5833333333334" y1="329.5" x2="614.5833333333334" y2="327.7" stroke="#999" stroke-width="0.7" />
<line x1="614.5833333333334" y1="283.75" x2="614.5833333333334" y2="285.55" stroke="#aaa" stroke-width="0.6" />
<line x1="633.75" y1="329.5" x2="633.75" y2="327.7" stroke="#999" stroke-width="0.7" />
<line x1="633.75" y1="283.75" x2="633.75" y2="285.55" stroke="#aaa" stroke-width="0.6" />
<rect x="602.5" y="283.75" width="31.25" height="11.3" fill="#fff" stroke="#8a8a8a" stroke-width="0.9"/>
<line x1="604.5" y1="289.4" x2="619.3" y2="289.4" stroke="#6cc2ce" stroke-width="1.1" />
<text x="632.75" y="292.7" font-size="9.0" fill="#2a2a2a" text-anchor="end" font-weight="normal" textLength="11.3" lengthAdjust="spacingAndGlyphs" stroke="#2a2a2a" stroke-width="0.144" >30°</text>
<clipPath id="c518_329"><rect x="518.75" y="329.5" width="115.0" height="45.5"/></clipPath>
<g clip-path="url(#c518_329)">
<polyline points="518.75,362.64 519.04,361.85 519.33,361.08 519.61,360.25 519.90,359.53 520.19,358.72 520.48,357.97 520.76,357.26 521.05,356.52 521.34,355.77 521.62,354.96 521.91,354.25 522.20,353.49 522.49,352.79 522.77,352.10 523.06,351.50 523.35,350.82 523.64,350.17 523.92,349.50 524.21,348.89 524.50,348.25 524.79,347.72 525.08,347.21 525.36,346.73 525.65,346.24 525.94,345.92 526.23,345.55 526.51,345.16 526.80,344.83 527.09,344.45 527.38,344.08 527.66,343.79 527.95,343.52 528.24,343.28 528.52,343.09 528.81,342.89 529.10,342.72 529.39,342.60 529.67,342.53 529.96,342.51 530.25,342.45 530.54,342.37 530.83,342.30 531.11,342.23 531.40,342.16 531.69,342.11 531.98,342.04 532.26,342.15 532.55,342.12 532.84,342.12 533.12,342.13 533.41,342.13 533.70,342.04 533.99,342.00 534.27,342.00 534.56,341.97 534.85,342.05 535.14,342.14 535.42,342.25 535.71,342.37 536.00,342.46 536.29,342.57 536.58,342.53 536.86,342.70 537.15,342.78 537.44,342.97 537.73,343.13 538.01,343.41 538.30,343.57 538.59,343.90 538.88,344.13 539.16,344.42 539.45,344.85 539.74,345.19 540.02,345.55 540.31,345.99 540.60,346.40 540.89,346.77 541.17,347.28 541.46,347.68 541.75,348.18 542.04,348.78 542.33,349.38 542.61,349.99 542.90,350.79 543.19,351.53 543.48,352.24 543.76,352.88 544.05,353.61 544.34,354.27 544.62,354.98 544.91,355.66 545.20,356.49 545.49,357.19 545.77,357.91 546.06,358.60 546.35,359.39 546.64,360.12 546.92,360.93 547.21,361.68 547.50,362.49 547.79,363.18 548.08,363.88 548.36,364.50 548.65,365.04 548.94,365.52 549.23,365.97 549.51,366.38 549.80,366.75 550.09,367.14 550.38,367.51 550.66,367.81 550.95,368.09 551.24,368.33 551.52,368.46 551.81,368.44 552.10,368.53 552.39,368.43 552.67,368.30 552.96,368.24 553.25,368.12 553.54,367.83 553.83,367.59 554.11,367.30 554.40,366.93 554.69,366.51 554.98,366.02 555.26,365.49 555.55,364.91 555.84,364.24 556.12,363.66 556.41,363.04 556.70,362.38 556.99,361.67 557.27,360.99 557.56,360.21 557.85,359.46 558.14,358.64 558.42,357.99 558.71,357.23 559.00,356.40 559.29,355.63 559.58,355.02 559.86,354.19 560.15,353.51 560.44,352.90 560.73,352.19 561.01,351.38 561.30,350.70 561.59,349.98 561.88,349.30 562.16,348.71 562.45,348.23 562.74,347.71 563.02,347.21 563.31,346.77 563.60,346.34 563.89,345.90 564.17,345.54 564.46,345.22 564.75,344.87 565.04,344.54 565.33,344.23 565.61,343.86 565.90,343.57 566.19,343.35 566.48,343.18 566.76,343.05 567.05,342.92 567.34,342.83 567.62,342.69 567.91,342.58 568.20,342.44 568.49,342.38 568.77,342.24 569.06,342.21 569.35,342.14 569.64,342.10 569.92,342.06 570.21,342.01 570.50,341.99 570.79,341.99 571.08,342.01 571.36,341.99 571.65,342.06 571.94,342.04 572.23,342.09 572.51,342.02 572.80,342.01 573.09,342.07 573.38,342.20 573.66,342.21 573.95,342.36 574.24,342.60 574.52,342.71 574.81,342.84 575.10,342.97 575.39,343.09 575.67,343.15 575.96,343.40 576.25,343.52 576.54,343.75 576.83,344.08 577.11,344.39 577.40,344.60 577.69,345.01 577.98,345.41 578.26,345.82 578.55,346.22 578.84,346.81 579.12,347.24 579.41,347.78 579.70,348.27 579.99,348.94 580.27,349.49 580.56,350.18 580.85,350.76 581.14,351.52 581.42,352.13 581.71,352.82 582.00,353.48 582.29,354.25 582.58,354.92 582.86,355.71 583.15,356.38 583.44,357.20 583.73,357.96 584.01,358.66 584.30,359.41 584.59,360.19 584.88,360.94 585.16,361.65 585.45,362.49 585.74,363.16 586.02,363.86 586.31,364.50 586.60,365.15 586.89,365.58 587.17,366.08 587.46,366.58 587.75,366.89 588.04,367.25 588.33,367.64 588.61,367.94 588.90,368.16 589.19,368.47 589.48,368.60 589.76,368.63 590.05,368.63 590.34,368.62 590.62,368.44 590.91,368.28 591.20,368.12 591.49,367.91 591.77,367.55 592.06,367.29 592.35,366.94 592.64,366.55 592.92,366.10 593.21,365.58 593.50,365.03 593.79,364.36 594.08,363.74 594.36,363.10 594.65,362.43 594.94,361.67 595.23,361.02 595.51,360.31 595.80,359.58 596.09,358.90 596.38,358.12 596.66,357.30 596.95,356.44 597.24,355.62 597.52,354.80 597.81,354.07 598.10,353.33 598.39,352.69 598.67,351.99 598.96,351.24 599.25,350.66 599.54,350.10 599.83,349.50 600.11,348.89 600.40,348.36 600.69,347.77 600.98,347.18 601.26,346.67 601.55,346.22 601.84,345.86 602.12,345.44 602.41,345.10 602.70,344.71 602.99,344.32 603.27,344.08 603.56,343.79 603.85,343.55 604.14,343.33 604.42,343.18 604.71,342.91 605.00,342.74 605.29,342.63 605.58,342.61 605.86,342.48 606.15,342.37 606.44,342.35 606.73,342.20 607.01,342.06 607.30,342.16 607.59,342.13 607.88,342.10 608.16,342.08 608.45,342.11 608.74,342.04 609.02,342.13 609.31,342.10 609.60,342.12 609.89,342.13 610.17,342.20 610.46,342.10 610.75,342.06 611.04,342.12 611.33,342.18 611.61,342.22 611.90,342.43 612.19,342.57 612.48,342.66 612.76,342.80 613.05,342.90 613.34,343.01 613.62,343.21 613.91,343.44 614.20,343.55 614.49,343.81 614.77,344.04 615.06,344.28 615.35,344.63 615.64,345.05 615.92,345.45 616.21,345.84 616.50,346.33 616.79,346.80 617.08,347.28 617.36,347.78 617.65,348.39 617.94,348.95 618.23,349.47 618.51,350.10 618.80,350.70 619.09,351.38 619.38,352.12 619.66,352.81 619.95,353.54 620.24,354.35 620.52,355.05 620.81,355.71 621.10,356.60 621.39,357.38 621.67,358.08 621.96,358.87 622.25,359.62 622.54,360.27 622.83,360.95 623.11,361.69 623.40,362.36 623.69,363.08 623.98,363.77 624.26,364.39 624.55,364.97 624.84,365.49 625.12,365.88 625.41,366.37 625.70,366.80 625.99,367.14 626.27,367.49 626.56,367.88 626.85,368.12 627.14,368.28 627.42,368.42 627.71,368.50 628.00,368.55 628.29,368.49 628.58,368.41 628.86,368.31 629.15,368.12 629.44,367.77 629.73,367.57 630.01,367.24 630.30,366.89 630.59,366.54 630.88,366.15 631.16,365.55 631.45,365.02 631.74,364.44 632.02,363.82 632.31,363.18 632.60,362.53 632.89,361.87 633.17,361.16 633.46,360.40 633.75,359.67" fill="none" stroke="#96ad58" stroke-width="1.1" stroke-linejoin="round" stroke-linecap="round" />
</g>
<rect x="518.75" y="329.5" width="115.0" height="45.5" fill="none" stroke="#b0b0b0" stroke-width="1.1"/>
<line x1="518.75" y1="329.5" x2="518.75" y2="375.0" stroke="#c2c2c2" stroke-width="1.1" />
<line x1="518.75" y1="333.8" x2="520.35" y2="333.8" stroke="#aaa" stroke-width="0.6" />
<text x="517.45" y="336.8" font-size="8.4" fill="#222" text-anchor="end" font-weight="normal" stroke="#222" stroke-width="0.18">50</text>
<line x1="518.75" y1="343.15" x2="520.35" y2="343.15" stroke="#aaa" stroke-width="0.6" />
<text x="517.45" y="346.15" font-size="8.4" fill="#222" text-anchor="end" font-weight="normal" stroke="#222" stroke-width="0.18">25</text>
<line x1="518.75" y1="352.5" x2="520.35" y2="352.5" stroke="#aaa" stroke-width="0.6" />
<text x="517.45" y="355.5" font-size="8.4" fill="#222" text-anchor="end" font-weight="normal" stroke="#222" stroke-width="0.18">0</text>
<line x1="518.75" y1="361.85" x2="520.35" y2="361.85" stroke="#aaa" stroke-width="0.6" />
<text x="517.45" y="364.85" font-size="8.4" fill="#222" text-anchor="end" font-weight="normal" stroke="#222" stroke-width="0.18">-25</text>
<line x1="518.75" y1="371.2" x2="520.35" y2="371.2" stroke="#aaa" stroke-width="0.6" />
<text x="517.45" y="374.2" font-size="8.4" fill="#222" text-anchor="end" font-weight="normal" stroke="#222" stroke-width="0.18">-50</text>
<line x1="518.75" y1="375.0" x2="518.75" y2="373.2" stroke="#999" stroke-width="0.7" />
<line x1="518.75" y1="329.5" x2="518.75" y2="331.3" stroke="#aaa" stroke-width="0.6" />
<line x1="537.9166666666666" y1="375.0" x2="537.9166666666666" y2="373.2" stroke="#999" stroke-width="0.7" />
<line x1="537.9166666666666" y1="329.5" x2="537.9166666666666" y2="331.3" stroke="#aaa" stroke-width="0.6" />
<line x1="557.0833333333334" y1="375.0" x2="557.0833333333334" y2="373.2" stroke="#999" stroke-width="0.7" />
<line x1="557.0833333333334" y1="329.5" x2="557.0833333333334" y2="331.3" stroke="#aaa" stroke-width="0.6" />
<line x1="576.25" y1="375.0" x2="576.25" y2="373.2" stroke="#999" stroke-width="0.7" />
<line x1="576.25" y1="329.5" x2="576.25" y2="331.3" stroke="#aaa" stroke-width="0.6" />
<line x1="595.4166666666666" y1="375.0" x2="595.4166666666666" y2="373.2" stroke="#999" stroke-width="0.7" />
<line x1="595.4166666666666" y1="329.5" x2="595.4166666666666" y2="331.3" stroke="#aaa" stroke-width="0.6" />
<line x1="614.5833333333334" y1="375.0" x2="614.5833333333334" y2="373.2" stroke="#999" stroke-width="0.7" />
<line x1="614.5833333333334" y1="329.5" x2="614.5833333333334" y2="331.3" stroke="#aaa" stroke-width="0.6" />
<line x1="633.75" y1="375.0" x2="633.75" y2="373.2" stroke="#999" stroke-width="0.7" />
<line x1="633.75" y1="329.5" x2="633.75" y2="331.3" stroke="#aaa" stroke-width="0.6" />
<rect x="602.5" y="329.5" width="31.25" height="11.8" fill="#fff" stroke="#8a8a8a" stroke-width="0.9"/>
<line x1="604.5" y1="335.4" x2="619.3" y2="335.4" stroke="#96ad58" stroke-width="1.1" />
<text x="632.75" y="338.7" font-size="9.0" fill="#2a2a2a" text-anchor="end" font-weight="normal" textLength="11.3" lengthAdjust="spacingAndGlyphs" stroke="#2a2a2a" stroke-width="0.144" >60°</text>
<text x="518.75" y="384.0" font-size="8.2" fill="#222" text-anchor="middle" font-weight="normal" stroke="#222" stroke-width="0.131" >0</text>
<text x="537.9166666666666" y="384.0" font-size="8.2" fill="#222" text-anchor="middle" font-weight="normal" stroke="#222" stroke-width="0.131" >5</text>
<text x="557.0833333333334" y="384.0" font-size="8.2" fill="#222" text-anchor="middle" font-weight="normal" stroke="#222" stroke-width="0.131" >10</text>
<text x="576.25" y="384.0" font-size="8.2" fill="#222" text-anchor="middle" font-weight="normal" stroke="#222" stroke-width="0.131" >15</text>
<text x="595.4166666666666" y="384.0" font-size="8.2" fill="#222" text-anchor="middle" font-weight="normal" stroke="#222" stroke-width="0.131" >20</text>
<text x="614.5833333333334" y="384.0" font-size="8.2" fill="#222" text-anchor="middle" font-weight="normal" stroke="#222" stroke-width="0.131" >25</text>
<text x="633.75" y="384.0" font-size="8.2" fill="#222" text-anchor="middle" font-weight="normal" stroke="#222" stroke-width="0.131" >30</text>
<text x="579.0" y="394.5" font-size="8.8" fill="#2a2a2a" text-anchor="middle" font-weight="normal" textLength="30.5" lengthAdjust="spacingAndGlyphs" stroke="#2a2a2a" stroke-width="0.141" >Time (ns)</text>
<text x="0" y="0" font-size="8.8" fill="#2a2a2a" stroke="#2a2a2a" stroke-width="0.12" text-anchor="middle" textLength="27.5" lengthAdjust="spacingAndGlyphs" transform="translate(504.2,314.2) rotate(-90)">Voltage</text>
<text x="0" y="0" font-size="8.8" fill="#2a2a2a" stroke="#2a2a2a" stroke-width="0.12" text-anchor="middle" textLength="15.5" lengthAdjust="spacingAndGlyphs" transform="translate(504.2,287.6) rotate(-90)">(mV)</text>
<line x1="232.5" y1="283.0" x2="353.0" y2="283.0" stroke="#808080" stroke-width="1.2" />
<line x1="242.54166666666666" y1="281.8" x2="242.54166666666666" y2="284.2" stroke="#666" stroke-width="0.6" />
<line x1="252.58333333333334" y1="281.8" x2="252.58333333333334" y2="284.2" stroke="#666" stroke-width="0.6" />
<line x1="262.625" y1="281.8" x2="262.625" y2="284.2" stroke="#666" stroke-width="0.6" />
<line x1="272.6666666666667" y1="281.8" x2="272.6666666666667" y2="284.2" stroke="#666" stroke-width="0.6" />
<line x1="282.7083333333333" y1="281.8" x2="282.7083333333333" y2="284.2" stroke="#666" stroke-width="0.6" />
<line x1="292.75" y1="281.8" x2="292.75" y2="284.2" stroke="#666" stroke-width="0.6" />
<line x1="302.7916666666667" y1="281.8" x2="302.7916666666667" y2="284.2" stroke="#666" stroke-width="0.6" />
<line x1="312.8333333333333" y1="281.8" x2="312.8333333333333" y2="284.2" stroke="#666" stroke-width="0.6" />
<line x1="322.875" y1="281.8" x2="322.875" y2="284.2" stroke="#666" stroke-width="0.6" />
<line x1="332.9166666666667" y1="281.8" x2="332.9166666666667" y2="284.2" stroke="#666" stroke-width="0.6" />
<line x1="342.9583333333333" y1="281.8" x2="342.9583333333333" y2="284.2" stroke="#666" stroke-width="0.6" />
<line x1="232.5" y1="327.5" x2="353.0" y2="327.5" stroke="#808080" stroke-width="1.2" />
<line x1="242.54166666666666" y1="326.3" x2="242.54166666666666" y2="328.7" stroke="#666" stroke-width="0.6" />
<line x1="252.58333333333334" y1="326.3" x2="252.58333333333334" y2="328.7" stroke="#666" stroke-width="0.6" />
<line x1="262.625" y1="326.3" x2="262.625" y2="328.7" stroke="#666" stroke-width="0.6" />
<line x1="272.6666666666667" y1="326.3" x2="272.6666666666667" y2="328.7" stroke="#666" stroke-width="0.6" />
<line x1="282.7083333333333" y1="326.3" x2="282.7083333333333" y2="328.7" stroke="#666" stroke-width="0.6" />
<line x1="292.75" y1="326.3" x2="292.75" y2="328.7" stroke="#666" stroke-width="0.6" />
<line x1="302.7916666666667" y1="326.3" x2="302.7916666666667" y2="328.7" stroke="#666" stroke-width="0.6" />
<line x1="312.8333333333333" y1="326.3" x2="312.8333333333333" y2="328.7" stroke="#666" stroke-width="0.6" />
<line x1="322.875" y1="326.3" x2="322.875" y2="328.7" stroke="#666" stroke-width="0.6" />
<line x1="332.9166666666667" y1="326.3" x2="332.9166666666667" y2="328.7" stroke="#666" stroke-width="0.6" />
<line x1="342.9583333333333" y1="326.3" x2="342.9583333333333" y2="328.7" stroke="#666" stroke-width="0.6" />
<line x1="378.75" y1="282.5" x2="494.25" y2="282.5" stroke="#808080" stroke-width="1.2" />
<line x1="388.375" y1="281.3" x2="388.375" y2="283.7" stroke="#666" stroke-width="0.6" />
<line x1="398.0" y1="281.3" x2="398.0" y2="283.7" stroke="#666" stroke-width="0.6" />
<line x1="407.625" y1="281.3" x2="407.625" y2="283.7" stroke="#666" stroke-width="0.6" />
<line x1="417.25" y1="281.3" x2="417.25" y2="283.7" stroke="#666" stroke-width="0.6" />
<line x1="426.875" y1="281.3" x2="426.875" y2="283.7" stroke="#666" stroke-width="0.6" />
<line x1="436.5" y1="281.3" x2="436.5" y2="283.7" stroke="#666" stroke-width="0.6" />
<line x1="446.125" y1="281.3" x2="446.125" y2="283.7" stroke="#666" stroke-width="0.6" />
<line x1="455.75" y1="281.3" x2="455.75" y2="283.7" stroke="#666" stroke-width="0.6" />
<line x1="465.375" y1="281.3" x2="465.375" y2="283.7" stroke="#666" stroke-width="0.6" />
<line x1="475.0" y1="281.3" x2="475.0" y2="283.7" stroke="#666" stroke-width="0.6" />
<line x1="484.625" y1="281.3" x2="484.625" y2="283.7" stroke="#666" stroke-width="0.6" />
<line x1="378.75" y1="327.0" x2="494.25" y2="327.0" stroke="#808080" stroke-width="1.2" />
<line x1="388.375" y1="325.8" x2="388.375" y2="328.2" stroke="#666" stroke-width="0.6" />
<line x1="398.0" y1="325.8" x2="398.0" y2="328.2" stroke="#666" stroke-width="0.6" />
<line x1="407.625" y1="325.8" x2="407.625" y2="328.2" stroke="#666" stroke-width="0.6" />
<line x1="417.25" y1="325.8" x2="417.25" y2="328.2" stroke="#666" stroke-width="0.6" />
<line x1="426.875" y1="325.8" x2="426.875" y2="328.2" stroke="#666" stroke-width="0.6" />
<line x1="436.5" y1="325.8" x2="436.5" y2="328.2" stroke="#666" stroke-width="0.6" />
<line x1="446.125" y1="325.8" x2="446.125" y2="328.2" stroke="#666" stroke-width="0.6" />
<line x1="455.75" y1="325.8" x2="455.75" y2="328.2" stroke="#666" stroke-width="0.6" />
<line x1="465.375" y1="325.8" x2="465.375" y2="328.2" stroke="#666" stroke-width="0.6" />
<line x1="475.0" y1="325.8" x2="475.0" y2="328.2" stroke="#666" stroke-width="0.6" />
<line x1="484.625" y1="325.8" x2="484.625" y2="328.2" stroke="#666" stroke-width="0.6" />
<line x1="518.75" y1="283.75" x2="633.75" y2="283.75" stroke="#808080" stroke-width="1.2" />
<line x1="528.3333333333334" y1="282.55" x2="528.3333333333334" y2="284.95" stroke="#666" stroke-width="0.6" />
<line x1="537.9166666666666" y1="282.55" x2="537.9166666666666" y2="284.95" stroke="#666" stroke-width="0.6" />
<line x1="547.5" y1="282.55" x2="547.5" y2="284.95" stroke="#666" stroke-width="0.6" />
<line x1="557.0833333333334" y1="282.55" x2="557.0833333333334" y2="284.95" stroke="#666" stroke-width="0.6" />
<line x1="566.6666666666666" y1="282.55" x2="566.6666666666666" y2="284.95" stroke="#666" stroke-width="0.6" />
<line x1="576.25" y1="282.55" x2="576.25" y2="284.95" stroke="#666" stroke-width="0.6" />
<line x1="585.8333333333334" y1="282.55" x2="585.8333333333334" y2="284.95" stroke="#666" stroke-width="0.6" />
<line x1="595.4166666666666" y1="282.55" x2="595.4166666666666" y2="284.95" stroke="#666" stroke-width="0.6" />
<line x1="605.0" y1="282.55" x2="605.0" y2="284.95" stroke="#666" stroke-width="0.6" />
<line x1="614.5833333333334" y1="282.55" x2="614.5833333333334" y2="284.95" stroke="#666" stroke-width="0.6" />
<line x1="624.1666666666666" y1="282.55" x2="624.1666666666666" y2="284.95" stroke="#666" stroke-width="0.6" />
<line x1="518.75" y1="329.5" x2="633.75" y2="329.5" stroke="#808080" stroke-width="1.2" />
<line x1="528.3333333333334" y1="328.3" x2="528.3333333333334" y2="330.7" stroke="#666" stroke-width="0.6" />
<line x1="537.9166666666666" y1="328.3" x2="537.9166666666666" y2="330.7" stroke="#666" stroke-width="0.6" />
<line x1="547.5" y1="328.3" x2="547.5" y2="330.7" stroke="#666" stroke-width="0.6" />
<line x1="557.0833333333334" y1="328.3" x2="557.0833333333334" y2="330.7" stroke="#666" stroke-width="0.6" />
<line x1="566.6666666666666" y1="328.3" x2="566.6666666666666" y2="330.7" stroke="#666" stroke-width="0.6" />
<line x1="576.25" y1="328.3" x2="576.25" y2="330.7" stroke="#666" stroke-width="0.6" />
<line x1="585.8333333333334" y1="328.3" x2="585.8333333333334" y2="330.7" stroke="#666" stroke-width="0.6" />
<line x1="595.4166666666666" y1="328.3" x2="595.4166666666666" y2="330.7" stroke="#666" stroke-width="0.6" />
<line x1="605.0" y1="328.3" x2="605.0" y2="330.7" stroke="#666" stroke-width="0.6" />
<line x1="614.5833333333334" y1="328.3" x2="614.5833333333334" y2="330.7" stroke="#666" stroke-width="0.6" />
<line x1="624.1666666666666" y1="328.3" x2="624.1666666666666" y2="330.7" stroke="#666" stroke-width="0.6" />
</svg></body></html>
